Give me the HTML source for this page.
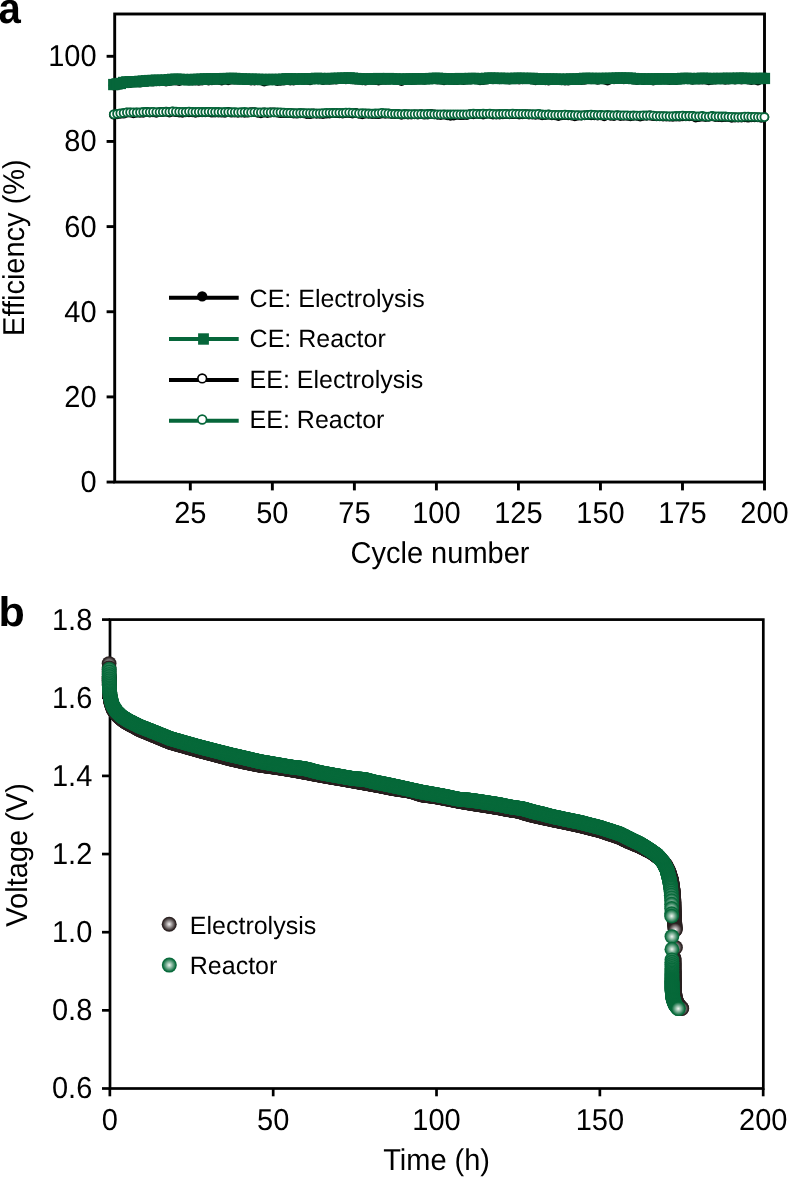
<!DOCTYPE html>
<html><head><meta charset="utf-8"><style>html,body{margin:0;padding:0;background:#fff;width:788px;height:1177px;overflow:hidden}</style></head>
<body><svg width="788" height="1177" viewBox="0 0 788 1177" style="display:block;will-change:transform">
<defs>
<radialGradient id="gG" cx="0.5" cy="0.5" r="0.5"><stop offset="0" stop-color="#f2f7f3"/><stop offset="0.86" stop-color="#0a6b3c"/><stop offset="1" stop-color="#036737"/></radialGradient>
<radialGradient id="gK" cx="0.5" cy="0.5" r="0.5"><stop offset="0" stop-color="#f6f4f4"/><stop offset="0.86" stop-color="#2e2424"/><stop offset="1" stop-color="#261d1d"/></radialGradient>
</defs>
<rect width="788" height="1177" fill="#fff"/>
<text transform="translate(-1.6,22.75) scale(0.955,1.03)" style="font-family:'Liberation Sans',sans-serif;text-rendering:geometricPrecision;font-weight:bold;font-size:42px">a</text>
<text transform="translate(-1.44,625.95) scale(1.051,1.0066)" style="font-family:'Liberation Sans',sans-serif;text-rendering:geometricPrecision;font-weight:bold;font-size:41px">b</text>
<g stroke="#000" stroke-width="2.9" fill="none">
<rect x="114.7" y="14.0" width="649.80" height="468.05"/>
<line x1="106.6" y1="482.05" x2="114.7" y2="482.05"/>
<line x1="106.6" y1="396.90" x2="114.7" y2="396.90"/>
<line x1="106.6" y1="311.75" x2="114.7" y2="311.75"/>
<line x1="106.6" y1="226.60" x2="114.7" y2="226.60"/>
<line x1="106.6" y1="141.45" x2="114.7" y2="141.45"/>
<line x1="106.6" y1="56.30" x2="114.7" y2="56.30"/>
<line x1="190.32" y1="482.05" x2="190.32" y2="490.4"/>
<line x1="272.35" y1="482.05" x2="272.35" y2="490.4"/>
<line x1="354.38" y1="482.05" x2="354.38" y2="490.4"/>
<line x1="436.40" y1="482.05" x2="436.40" y2="490.4"/>
<line x1="518.42" y1="482.05" x2="518.42" y2="490.4"/>
<line x1="600.45" y1="482.05" x2="600.45" y2="490.4"/>
<line x1="682.48" y1="482.05" x2="682.48" y2="490.4"/>
<line x1="764.50" y1="482.05" x2="764.50" y2="490.4"/>
</g>
<g style="font-family:'Liberation Sans',sans-serif;text-rendering:geometricPrecision;font-size:29px" fill="#000">
<text transform="translate(96.6,491.95) scale(1,1.045)" text-anchor="end">0</text>
<text transform="translate(96.6,406.80) scale(1,1.045)" text-anchor="end">20</text>
<text transform="translate(96.6,321.65) scale(1,1.045)" text-anchor="end">40</text>
<text transform="translate(96.6,236.50) scale(1,1.045)" text-anchor="end">60</text>
<text transform="translate(96.6,151.35) scale(1,1.045)" text-anchor="end">80</text>
<text transform="translate(96.6,66.20) scale(1,1.045)" text-anchor="end">100</text>
<text transform="translate(190.32,522.5) scale(1,1.045)" text-anchor="middle">25</text>
<text transform="translate(272.35,522.5) scale(1,1.045)" text-anchor="middle">50</text>
<text transform="translate(354.38,522.5) scale(1,1.045)" text-anchor="middle">75</text>
<text transform="translate(436.40,522.5) scale(1,1.045)" text-anchor="middle">100</text>
<text transform="translate(518.42,522.5) scale(1,1.045)" text-anchor="middle">125</text>
<text transform="translate(600.45,522.5) scale(1,1.045)" text-anchor="middle">150</text>
<text transform="translate(682.48,522.5) scale(1,1.045)" text-anchor="middle">175</text>
<text transform="translate(764.50,522.5) scale(1,1.045)" text-anchor="middle">200</text>
<text transform="translate(440,563.1) scale(1,1.04)" text-anchor="middle">Cycle number</text>
<text transform="translate(24.1,247.6) rotate(-90) scale(1,1.04)" text-anchor="middle">Efficiency (%)</text>
</g>
<path d="M113.8,85.3 L117.1,85.1 L120.3,84.4 L123.6,83.5 L126.9,82.3 L130.1,82.8 L133.4,82.2 L136.7,82.2 L140.0,82.4 L143.2,81.7 L146.5,81.7 L149.8,80.6 L153.0,81.5 L156.3,81.2 L159.6,81.2 L162.8,81.0 L166.1,81.3 L169.4,81.0 L172.6,80.3 L175.9,80.4 L179.2,80.8 L182.5,79.6 L185.7,79.7 L189.0,80.5 L192.3,80.5 L195.5,80.3 L198.8,80.6 L202.1,80.5 L205.3,79.6 L208.6,80.4 L211.9,80.1 L215.1,79.7 L218.4,79.7 L221.7,80.3 L225.0,79.3 L228.2,80.1 L231.5,79.3 L234.8,79.3 L238.0,79.5 L241.3,78.6 L244.6,79.9 L247.8,79.4 L251.1,80.4 L254.4,80.4 L257.7,80.1 L260.9,80.2 L264.2,81.4 L267.5,80.4 L270.7,79.7 L274.0,79.9 L277.3,81.0 L280.5,80.6 L283.8,80.4 L287.1,79.5 L290.3,80.3 L293.6,80.5 L296.9,79.7 L300.2,79.0 L303.4,79.7 L306.7,79.6 L310.0,80.2 L313.2,78.7 L316.5,78.7 L319.8,79.0 L323.0,79.8 L326.3,79.4 L329.6,79.7 L332.8,79.4 L336.1,79.5 L339.4,78.4 L342.7,78.0 L345.9,79.2 L349.2,78.8 L352.5,79.2 L355.7,79.5 L359.0,79.4 L362.3,80.1 L365.5,80.4 L368.8,79.3 L372.1,79.7 L375.3,79.8 L378.6,80.4 L381.9,79.7 L385.2,79.7 L388.4,79.5 L391.7,79.0 L395.0,79.5 L398.2,79.5 L401.5,80.9 L404.8,79.0 L408.0,79.5 L411.3,80.0 L414.6,79.6 L417.8,79.4 L421.1,79.4 L424.4,79.7 L427.7,78.8 L430.9,78.9 L434.2,79.0 L437.5,79.3 L440.7,79.4 L444.0,80.1 L447.3,79.5 L450.5,79.6 L453.8,79.8 L457.1,80.0 L460.4,79.5 L463.6,79.9 L466.9,79.4 L470.2,79.3 L473.4,78.9 L476.7,79.2 L480.0,80.1 L483.2,79.9 L486.5,79.4 L489.8,78.6 L493.0,79.2 L496.3,78.8 L499.6,79.1 L502.9,78.7 L506.1,79.2 L509.4,79.3 L512.7,78.9 L515.9,79.1 L519.2,79.3 L522.5,79.1 L525.7,79.0 L529.0,78.8 L532.3,79.4 L535.5,80.1 L538.8,79.5 L542.1,79.9 L545.4,80.1 L548.6,80.3 L551.9,79.7 L555.2,79.6 L558.4,79.6 L561.7,80.2 L565.0,80.5 L568.2,80.5 L571.5,79.7 L574.8,79.7 L578.0,79.6 L581.3,80.0 L584.6,79.6 L587.9,79.1 L591.1,79.2 L594.4,79.0 L597.7,79.6 L600.9,78.8 L604.2,79.5 L607.5,80.3 L610.7,79.2 L614.0,79.2 L617.3,78.9 L620.5,78.5 L623.8,79.2 L627.1,79.0 L630.4,78.6 L633.6,79.4 L636.9,80.0 L640.2,78.9 L643.4,80.0 L646.7,79.1 L650.0,79.5 L653.2,80.3 L656.5,79.4 L659.8,79.3 L663.1,79.1 L666.3,79.5 L669.6,80.0 L672.9,79.6 L676.1,79.8 L679.4,79.2 L682.7,79.2 L685.9,79.0 L689.2,79.0 L692.5,79.6 L695.7,79.2 L699.0,79.4 L702.3,79.3 L705.6,79.3 L708.8,80.1 L712.1,79.6 L715.4,79.4 L718.6,79.0 L721.9,79.2 L725.2,79.6 L728.4,79.3 L731.7,78.7 L735.0,79.4 L738.2,79.0 L741.5,79.4 L744.8,78.9 L748.1,79.3 L751.3,79.9 L754.6,79.5 L757.9,80.3 L761.1,78.7 L764.4,79.5" fill="none" stroke="#000" stroke-width="3.8" stroke-linejoin="round"/>
<g fill="#000"><circle cx="113.8" cy="85.3" r="5.1"/><circle cx="117.1" cy="85.1" r="5.1"/><circle cx="120.3" cy="84.4" r="5.1"/><circle cx="123.6" cy="83.5" r="5.1"/><circle cx="126.9" cy="82.3" r="5.1"/><circle cx="130.1" cy="82.8" r="5.1"/><circle cx="133.4" cy="82.2" r="5.1"/><circle cx="136.7" cy="82.2" r="5.1"/><circle cx="140.0" cy="82.4" r="5.1"/><circle cx="143.2" cy="81.7" r="5.1"/><circle cx="146.5" cy="81.7" r="5.1"/><circle cx="149.8" cy="80.6" r="5.1"/><circle cx="153.0" cy="81.5" r="5.1"/><circle cx="156.3" cy="81.2" r="5.1"/><circle cx="159.6" cy="81.2" r="5.1"/><circle cx="162.8" cy="81.0" r="5.1"/><circle cx="166.1" cy="81.3" r="5.1"/><circle cx="169.4" cy="81.0" r="5.1"/><circle cx="172.6" cy="80.3" r="5.1"/><circle cx="175.9" cy="80.4" r="5.1"/><circle cx="179.2" cy="80.8" r="5.1"/><circle cx="182.5" cy="79.6" r="5.1"/><circle cx="185.7" cy="79.7" r="5.1"/><circle cx="189.0" cy="80.5" r="5.1"/><circle cx="192.3" cy="80.5" r="5.1"/><circle cx="195.5" cy="80.3" r="5.1"/><circle cx="198.8" cy="80.6" r="5.1"/><circle cx="202.1" cy="80.5" r="5.1"/><circle cx="205.3" cy="79.6" r="5.1"/><circle cx="208.6" cy="80.4" r="5.1"/><circle cx="211.9" cy="80.1" r="5.1"/><circle cx="215.1" cy="79.7" r="5.1"/><circle cx="218.4" cy="79.7" r="5.1"/><circle cx="221.7" cy="80.3" r="5.1"/><circle cx="225.0" cy="79.3" r="5.1"/><circle cx="228.2" cy="80.1" r="5.1"/><circle cx="231.5" cy="79.3" r="5.1"/><circle cx="234.8" cy="79.3" r="5.1"/><circle cx="238.0" cy="79.5" r="5.1"/><circle cx="241.3" cy="78.6" r="5.1"/><circle cx="244.6" cy="79.9" r="5.1"/><circle cx="247.8" cy="79.4" r="5.1"/><circle cx="251.1" cy="80.4" r="5.1"/><circle cx="254.4" cy="80.4" r="5.1"/><circle cx="257.7" cy="80.1" r="5.1"/><circle cx="260.9" cy="80.2" r="5.1"/><circle cx="264.2" cy="81.4" r="5.1"/><circle cx="267.5" cy="80.4" r="5.1"/><circle cx="270.7" cy="79.7" r="5.1"/><circle cx="274.0" cy="79.9" r="5.1"/><circle cx="277.3" cy="81.0" r="5.1"/><circle cx="280.5" cy="80.6" r="5.1"/><circle cx="283.8" cy="80.4" r="5.1"/><circle cx="287.1" cy="79.5" r="5.1"/><circle cx="290.3" cy="80.3" r="5.1"/><circle cx="293.6" cy="80.5" r="5.1"/><circle cx="296.9" cy="79.7" r="5.1"/><circle cx="300.2" cy="79.0" r="5.1"/><circle cx="303.4" cy="79.7" r="5.1"/><circle cx="306.7" cy="79.6" r="5.1"/><circle cx="310.0" cy="80.2" r="5.1"/><circle cx="313.2" cy="78.7" r="5.1"/><circle cx="316.5" cy="78.7" r="5.1"/><circle cx="319.8" cy="79.0" r="5.1"/><circle cx="323.0" cy="79.8" r="5.1"/><circle cx="326.3" cy="79.4" r="5.1"/><circle cx="329.6" cy="79.7" r="5.1"/><circle cx="332.8" cy="79.4" r="5.1"/><circle cx="336.1" cy="79.5" r="5.1"/><circle cx="339.4" cy="78.4" r="5.1"/><circle cx="342.7" cy="78.0" r="5.1"/><circle cx="345.9" cy="79.2" r="5.1"/><circle cx="349.2" cy="78.8" r="5.1"/><circle cx="352.5" cy="79.2" r="5.1"/><circle cx="355.7" cy="79.5" r="5.1"/><circle cx="359.0" cy="79.4" r="5.1"/><circle cx="362.3" cy="80.1" r="5.1"/><circle cx="365.5" cy="80.4" r="5.1"/><circle cx="368.8" cy="79.3" r="5.1"/><circle cx="372.1" cy="79.7" r="5.1"/><circle cx="375.3" cy="79.8" r="5.1"/><circle cx="378.6" cy="80.4" r="5.1"/><circle cx="381.9" cy="79.7" r="5.1"/><circle cx="385.2" cy="79.7" r="5.1"/><circle cx="388.4" cy="79.5" r="5.1"/><circle cx="391.7" cy="79.0" r="5.1"/><circle cx="395.0" cy="79.5" r="5.1"/><circle cx="398.2" cy="79.5" r="5.1"/><circle cx="401.5" cy="80.9" r="5.1"/><circle cx="404.8" cy="79.0" r="5.1"/><circle cx="408.0" cy="79.5" r="5.1"/><circle cx="411.3" cy="80.0" r="5.1"/><circle cx="414.6" cy="79.6" r="5.1"/><circle cx="417.8" cy="79.4" r="5.1"/><circle cx="421.1" cy="79.4" r="5.1"/><circle cx="424.4" cy="79.7" r="5.1"/><circle cx="427.7" cy="78.8" r="5.1"/><circle cx="430.9" cy="78.9" r="5.1"/><circle cx="434.2" cy="79.0" r="5.1"/><circle cx="437.5" cy="79.3" r="5.1"/><circle cx="440.7" cy="79.4" r="5.1"/><circle cx="444.0" cy="80.1" r="5.1"/><circle cx="447.3" cy="79.5" r="5.1"/><circle cx="450.5" cy="79.6" r="5.1"/><circle cx="453.8" cy="79.8" r="5.1"/><circle cx="457.1" cy="80.0" r="5.1"/><circle cx="460.4" cy="79.5" r="5.1"/><circle cx="463.6" cy="79.9" r="5.1"/><circle cx="466.9" cy="79.4" r="5.1"/><circle cx="470.2" cy="79.3" r="5.1"/><circle cx="473.4" cy="78.9" r="5.1"/><circle cx="476.7" cy="79.2" r="5.1"/><circle cx="480.0" cy="80.1" r="5.1"/><circle cx="483.2" cy="79.9" r="5.1"/><circle cx="486.5" cy="79.4" r="5.1"/><circle cx="489.8" cy="78.6" r="5.1"/><circle cx="493.0" cy="79.2" r="5.1"/><circle cx="496.3" cy="78.8" r="5.1"/><circle cx="499.6" cy="79.1" r="5.1"/><circle cx="502.9" cy="78.7" r="5.1"/><circle cx="506.1" cy="79.2" r="5.1"/><circle cx="509.4" cy="79.3" r="5.1"/><circle cx="512.7" cy="78.9" r="5.1"/><circle cx="515.9" cy="79.1" r="5.1"/><circle cx="519.2" cy="79.3" r="5.1"/><circle cx="522.5" cy="79.1" r="5.1"/><circle cx="525.7" cy="79.0" r="5.1"/><circle cx="529.0" cy="78.8" r="5.1"/><circle cx="532.3" cy="79.4" r="5.1"/><circle cx="535.5" cy="80.1" r="5.1"/><circle cx="538.8" cy="79.5" r="5.1"/><circle cx="542.1" cy="79.9" r="5.1"/><circle cx="545.4" cy="80.1" r="5.1"/><circle cx="548.6" cy="80.3" r="5.1"/><circle cx="551.9" cy="79.7" r="5.1"/><circle cx="555.2" cy="79.6" r="5.1"/><circle cx="558.4" cy="79.6" r="5.1"/><circle cx="561.7" cy="80.2" r="5.1"/><circle cx="565.0" cy="80.5" r="5.1"/><circle cx="568.2" cy="80.5" r="5.1"/><circle cx="571.5" cy="79.7" r="5.1"/><circle cx="574.8" cy="79.7" r="5.1"/><circle cx="578.0" cy="79.6" r="5.1"/><circle cx="581.3" cy="80.0" r="5.1"/><circle cx="584.6" cy="79.6" r="5.1"/><circle cx="587.9" cy="79.1" r="5.1"/><circle cx="591.1" cy="79.2" r="5.1"/><circle cx="594.4" cy="79.0" r="5.1"/><circle cx="597.7" cy="79.6" r="5.1"/><circle cx="600.9" cy="78.8" r="5.1"/><circle cx="604.2" cy="79.5" r="5.1"/><circle cx="607.5" cy="80.3" r="5.1"/><circle cx="610.7" cy="79.2" r="5.1"/><circle cx="614.0" cy="79.2" r="5.1"/><circle cx="617.3" cy="78.9" r="5.1"/><circle cx="620.5" cy="78.5" r="5.1"/><circle cx="623.8" cy="79.2" r="5.1"/><circle cx="627.1" cy="79.0" r="5.1"/><circle cx="630.4" cy="78.6" r="5.1"/><circle cx="633.6" cy="79.4" r="5.1"/><circle cx="636.9" cy="80.0" r="5.1"/><circle cx="640.2" cy="78.9" r="5.1"/><circle cx="643.4" cy="80.0" r="5.1"/><circle cx="646.7" cy="79.1" r="5.1"/><circle cx="650.0" cy="79.5" r="5.1"/><circle cx="653.2" cy="80.3" r="5.1"/><circle cx="656.5" cy="79.4" r="5.1"/><circle cx="659.8" cy="79.3" r="5.1"/><circle cx="663.1" cy="79.1" r="5.1"/><circle cx="666.3" cy="79.5" r="5.1"/><circle cx="669.6" cy="80.0" r="5.1"/><circle cx="672.9" cy="79.6" r="5.1"/><circle cx="676.1" cy="79.8" r="5.1"/><circle cx="679.4" cy="79.2" r="5.1"/><circle cx="682.7" cy="79.2" r="5.1"/><circle cx="685.9" cy="79.0" r="5.1"/><circle cx="689.2" cy="79.0" r="5.1"/><circle cx="692.5" cy="79.6" r="5.1"/><circle cx="695.7" cy="79.2" r="5.1"/><circle cx="699.0" cy="79.4" r="5.1"/><circle cx="702.3" cy="79.3" r="5.1"/><circle cx="705.6" cy="79.3" r="5.1"/><circle cx="708.8" cy="80.1" r="5.1"/><circle cx="712.1" cy="79.6" r="5.1"/><circle cx="715.4" cy="79.4" r="5.1"/><circle cx="718.6" cy="79.0" r="5.1"/><circle cx="721.9" cy="79.2" r="5.1"/><circle cx="725.2" cy="79.6" r="5.1"/><circle cx="728.4" cy="79.3" r="5.1"/><circle cx="731.7" cy="78.7" r="5.1"/><circle cx="735.0" cy="79.4" r="5.1"/><circle cx="738.2" cy="79.0" r="5.1"/><circle cx="741.5" cy="79.4" r="5.1"/><circle cx="744.8" cy="78.9" r="5.1"/><circle cx="748.1" cy="79.3" r="5.1"/><circle cx="751.3" cy="79.9" r="5.1"/><circle cx="754.6" cy="79.5" r="5.1"/><circle cx="757.9" cy="80.3" r="5.1"/><circle cx="761.1" cy="78.7" r="5.1"/><circle cx="764.4" cy="79.5" r="5.1"/></g>
<path d="M113.8,84.6 L117.1,83.8 L120.3,83.4 L123.6,82.5 L126.9,81.8 L130.1,81.8 L133.4,81.7 L136.7,81.6 L140.0,81.3 L143.2,81.1 L146.5,80.7 L149.8,80.6 L153.0,80.5 L156.3,80.1 L159.6,80.3 L162.8,80.3 L166.1,80.0 L169.4,79.7 L172.6,79.3 L175.9,79.2 L179.2,79.3 L182.5,79.5 L185.7,79.6 L189.0,79.8 L192.3,79.5 L195.5,79.5 L198.8,79.3 L202.1,79.1 L205.3,78.8 L208.6,79.0 L211.9,78.8 L215.1,78.8 L218.4,78.7 L221.7,78.7 L225.0,78.5 L228.2,78.5 L231.5,78.4 L234.8,78.4 L238.0,78.9 L241.3,78.9 L244.6,79.1 L247.8,79.2 L251.1,79.1 L254.4,79.3 L257.7,79.3 L260.9,79.4 L264.2,79.5 L267.5,79.6 L270.7,79.5 L274.0,79.5 L277.3,79.6 L280.5,79.5 L283.8,79.2 L287.1,78.8 L290.3,78.9 L293.6,79.1 L296.9,78.9 L300.2,79.2 L303.4,78.8 L306.7,78.8 L310.0,78.8 L313.2,78.7 L316.5,78.3 L319.8,78.4 L323.0,78.8 L326.3,78.8 L329.6,78.5 L332.8,78.5 L336.1,78.3 L339.4,78.2 L342.7,78.1 L345.9,78.1 L349.2,77.9 L352.5,78.2 L355.7,78.5 L359.0,78.7 L362.3,79.1 L365.5,78.8 L368.8,78.9 L372.1,78.9 L375.3,78.7 L378.6,78.5 L381.9,78.7 L385.2,79.0 L388.4,78.6 L391.7,78.8 L395.0,78.8 L398.2,79.2 L401.5,79.4 L404.8,79.1 L408.0,79.0 L411.3,79.0 L414.6,78.8 L417.8,78.7 L421.1,78.6 L424.4,78.7 L427.7,78.8 L430.9,78.6 L434.2,78.4 L437.5,78.3 L440.7,78.6 L444.0,78.9 L447.3,78.8 L450.5,78.8 L453.8,79.0 L457.1,78.9 L460.4,78.6 L463.6,78.7 L466.9,78.7 L470.2,78.5 L473.4,78.4 L476.7,78.5 L480.0,78.9 L483.2,78.8 L486.5,78.4 L489.8,78.1 L493.0,78.2 L496.3,78.5 L499.6,78.3 L502.9,78.4 L506.1,78.4 L509.4,78.6 L512.7,78.5 L515.9,78.3 L519.2,78.3 L522.5,78.3 L525.7,78.5 L529.0,78.4 L532.3,78.4 L535.5,78.8 L538.8,79.0 L542.1,79.0 L545.4,79.1 L548.6,79.1 L551.9,79.0 L555.2,79.1 L558.4,79.1 L561.7,79.3 L565.0,79.4 L568.2,79.1 L571.5,78.9 L574.8,79.1 L578.0,79.0 L581.3,78.6 L584.6,78.3 L587.9,78.4 L591.1,78.4 L594.4,78.6 L597.7,78.5 L600.9,78.4 L604.2,78.5 L607.5,78.4 L610.7,78.3 L614.0,78.4 L617.3,78.1 L620.5,78.0 L623.8,78.2 L627.1,78.1 L630.4,78.1 L633.6,78.6 L636.9,78.9 L640.2,78.8 L643.4,78.9 L646.7,78.9 L650.0,79.1 L653.2,78.8 L656.5,78.8 L659.8,78.9 L663.1,78.9 L666.3,78.7 L669.6,78.6 L672.9,78.8 L676.1,79.0 L679.4,78.7 L682.7,78.4 L685.9,78.4 L689.2,78.5 L692.5,78.6 L695.7,78.7 L699.0,78.5 L702.3,78.3 L705.6,78.4 L708.8,78.6 L712.1,78.5 L715.4,78.6 L718.6,78.5 L721.9,78.5 L725.2,78.5 L728.4,78.3 L731.7,78.5 L735.0,78.5 L738.2,78.2 L741.5,78.3 L744.8,78.3 L748.1,78.5 L751.3,78.4 L754.6,78.6 L757.9,78.5 L761.1,78.4 L764.4,78.4" fill="none" stroke="#06663a" stroke-width="3.8" stroke-linejoin="round"/>
<g fill="#06663a"><rect x="108.1" y="78.9" width="11.3" height="11.3"/><rect x="111.4" y="78.2" width="11.3" height="11.3"/><rect x="114.7" y="77.8" width="11.3" height="11.3"/><rect x="118.0" y="76.8" width="11.3" height="11.3"/><rect x="121.2" y="76.2" width="11.3" height="11.3"/><rect x="124.5" y="76.1" width="11.3" height="11.3"/><rect x="127.8" y="76.0" width="11.3" height="11.3"/><rect x="131.0" y="76.0" width="11.3" height="11.3"/><rect x="134.3" y="75.7" width="11.3" height="11.3"/><rect x="137.6" y="75.4" width="11.3" height="11.3"/><rect x="140.8" y="75.1" width="11.3" height="11.3"/><rect x="144.1" y="74.9" width="11.3" height="11.3"/><rect x="147.4" y="74.8" width="11.3" height="11.3"/><rect x="150.7" y="74.5" width="11.3" height="11.3"/><rect x="153.9" y="74.7" width="11.3" height="11.3"/><rect x="157.2" y="74.7" width="11.3" height="11.3"/><rect x="160.5" y="74.4" width="11.3" height="11.3"/><rect x="163.7" y="74.0" width="11.3" height="11.3"/><rect x="167.0" y="73.7" width="11.3" height="11.3"/><rect x="170.3" y="73.5" width="11.3" height="11.3"/><rect x="173.5" y="73.7" width="11.3" height="11.3"/><rect x="176.8" y="73.8" width="11.3" height="11.3"/><rect x="180.1" y="74.0" width="11.3" height="11.3"/><rect x="183.3" y="74.1" width="11.3" height="11.3"/><rect x="186.6" y="73.8" width="11.3" height="11.3"/><rect x="189.9" y="73.8" width="11.3" height="11.3"/><rect x="193.2" y="73.7" width="11.3" height="11.3"/><rect x="196.4" y="73.5" width="11.3" height="11.3"/><rect x="199.7" y="73.2" width="11.3" height="11.3"/><rect x="203.0" y="73.4" width="11.3" height="11.3"/><rect x="206.2" y="73.2" width="11.3" height="11.3"/><rect x="209.5" y="73.2" width="11.3" height="11.3"/><rect x="212.8" y="73.0" width="11.3" height="11.3"/><rect x="216.0" y="73.1" width="11.3" height="11.3"/><rect x="219.3" y="72.9" width="11.3" height="11.3"/><rect x="222.6" y="72.9" width="11.3" height="11.3"/><rect x="225.8" y="72.7" width="11.3" height="11.3"/><rect x="229.1" y="72.8" width="11.3" height="11.3"/><rect x="232.4" y="73.3" width="11.3" height="11.3"/><rect x="235.7" y="73.2" width="11.3" height="11.3"/><rect x="238.9" y="73.4" width="11.3" height="11.3"/><rect x="242.2" y="73.6" width="11.3" height="11.3"/><rect x="245.5" y="73.5" width="11.3" height="11.3"/><rect x="248.7" y="73.7" width="11.3" height="11.3"/><rect x="252.0" y="73.7" width="11.3" height="11.3"/><rect x="255.3" y="73.8" width="11.3" height="11.3"/><rect x="258.5" y="73.9" width="11.3" height="11.3"/><rect x="261.8" y="73.9" width="11.3" height="11.3"/><rect x="265.1" y="73.8" width="11.3" height="11.3"/><rect x="268.3" y="73.8" width="11.3" height="11.3"/><rect x="271.6" y="73.9" width="11.3" height="11.3"/><rect x="274.9" y="73.8" width="11.3" height="11.3"/><rect x="278.2" y="73.5" width="11.3" height="11.3"/><rect x="281.4" y="73.1" width="11.3" height="11.3"/><rect x="284.7" y="73.2" width="11.3" height="11.3"/><rect x="288.0" y="73.4" width="11.3" height="11.3"/><rect x="291.2" y="73.3" width="11.3" height="11.3"/><rect x="294.5" y="73.5" width="11.3" height="11.3"/><rect x="297.8" y="73.1" width="11.3" height="11.3"/><rect x="301.0" y="73.1" width="11.3" height="11.3"/><rect x="304.3" y="73.1" width="11.3" height="11.3"/><rect x="307.6" y="73.0" width="11.3" height="11.3"/><rect x="310.8" y="72.7" width="11.3" height="11.3"/><rect x="314.1" y="72.8" width="11.3" height="11.3"/><rect x="317.4" y="73.2" width="11.3" height="11.3"/><rect x="320.7" y="73.1" width="11.3" height="11.3"/><rect x="323.9" y="72.8" width="11.3" height="11.3"/><rect x="327.2" y="72.9" width="11.3" height="11.3"/><rect x="330.5" y="72.7" width="11.3" height="11.3"/><rect x="333.7" y="72.6" width="11.3" height="11.3"/><rect x="337.0" y="72.5" width="11.3" height="11.3"/><rect x="340.3" y="72.5" width="11.3" height="11.3"/><rect x="343.5" y="72.2" width="11.3" height="11.3"/><rect x="346.8" y="72.5" width="11.3" height="11.3"/><rect x="350.1" y="72.9" width="11.3" height="11.3"/><rect x="353.4" y="73.1" width="11.3" height="11.3"/><rect x="356.6" y="73.4" width="11.3" height="11.3"/><rect x="359.9" y="73.2" width="11.3" height="11.3"/><rect x="363.2" y="73.3" width="11.3" height="11.3"/><rect x="366.4" y="73.3" width="11.3" height="11.3"/><rect x="369.7" y="73.0" width="11.3" height="11.3"/><rect x="373.0" y="72.9" width="11.3" height="11.3"/><rect x="376.2" y="73.0" width="11.3" height="11.3"/><rect x="379.5" y="73.3" width="11.3" height="11.3"/><rect x="382.8" y="72.9" width="11.3" height="11.3"/><rect x="386.0" y="73.2" width="11.3" height="11.3"/><rect x="389.3" y="73.2" width="11.3" height="11.3"/><rect x="392.6" y="73.5" width="11.3" height="11.3"/><rect x="395.9" y="73.7" width="11.3" height="11.3"/><rect x="399.1" y="73.4" width="11.3" height="11.3"/><rect x="402.4" y="73.3" width="11.3" height="11.3"/><rect x="405.7" y="73.3" width="11.3" height="11.3"/><rect x="408.9" y="73.2" width="11.3" height="11.3"/><rect x="412.2" y="73.0" width="11.3" height="11.3"/><rect x="415.5" y="73.0" width="11.3" height="11.3"/><rect x="418.7" y="73.1" width="11.3" height="11.3"/><rect x="422.0" y="73.1" width="11.3" height="11.3"/><rect x="425.3" y="72.9" width="11.3" height="11.3"/><rect x="428.5" y="72.7" width="11.3" height="11.3"/><rect x="431.8" y="72.6" width="11.3" height="11.3"/><rect x="435.1" y="72.9" width="11.3" height="11.3"/><rect x="438.4" y="73.2" width="11.3" height="11.3"/><rect x="441.6" y="73.1" width="11.3" height="11.3"/><rect x="444.9" y="73.2" width="11.3" height="11.3"/><rect x="448.2" y="73.4" width="11.3" height="11.3"/><rect x="451.4" y="73.2" width="11.3" height="11.3"/><rect x="454.7" y="72.9" width="11.3" height="11.3"/><rect x="458.0" y="73.1" width="11.3" height="11.3"/><rect x="461.2" y="73.1" width="11.3" height="11.3"/><rect x="464.5" y="72.8" width="11.3" height="11.3"/><rect x="467.8" y="72.8" width="11.3" height="11.3"/><rect x="471.0" y="72.9" width="11.3" height="11.3"/><rect x="474.3" y="73.2" width="11.3" height="11.3"/><rect x="477.6" y="73.1" width="11.3" height="11.3"/><rect x="480.9" y="72.7" width="11.3" height="11.3"/><rect x="484.1" y="72.4" width="11.3" height="11.3"/><rect x="487.4" y="72.5" width="11.3" height="11.3"/><rect x="490.7" y="72.8" width="11.3" height="11.3"/><rect x="493.9" y="72.6" width="11.3" height="11.3"/><rect x="497.2" y="72.8" width="11.3" height="11.3"/><rect x="500.5" y="72.8" width="11.3" height="11.3"/><rect x="503.7" y="72.9" width="11.3" height="11.3"/><rect x="507.0" y="72.9" width="11.3" height="11.3"/><rect x="510.3" y="72.6" width="11.3" height="11.3"/><rect x="513.5" y="72.6" width="11.3" height="11.3"/><rect x="516.8" y="72.7" width="11.3" height="11.3"/><rect x="520.1" y="72.8" width="11.3" height="11.3"/><rect x="523.4" y="72.8" width="11.3" height="11.3"/><rect x="526.6" y="72.7" width="11.3" height="11.3"/><rect x="529.9" y="73.2" width="11.3" height="11.3"/><rect x="533.2" y="73.3" width="11.3" height="11.3"/><rect x="536.4" y="73.4" width="11.3" height="11.3"/><rect x="539.7" y="73.4" width="11.3" height="11.3"/><rect x="543.0" y="73.4" width="11.3" height="11.3"/><rect x="546.2" y="73.4" width="11.3" height="11.3"/><rect x="549.5" y="73.5" width="11.3" height="11.3"/><rect x="552.8" y="73.5" width="11.3" height="11.3"/><rect x="556.1" y="73.7" width="11.3" height="11.3"/><rect x="559.3" y="73.8" width="11.3" height="11.3"/><rect x="562.6" y="73.5" width="11.3" height="11.3"/><rect x="565.9" y="73.3" width="11.3" height="11.3"/><rect x="569.1" y="73.5" width="11.3" height="11.3"/><rect x="572.4" y="73.4" width="11.3" height="11.3"/><rect x="575.7" y="73.0" width="11.3" height="11.3"/><rect x="578.9" y="72.7" width="11.3" height="11.3"/><rect x="582.2" y="72.7" width="11.3" height="11.3"/><rect x="585.5" y="72.8" width="11.3" height="11.3"/><rect x="588.7" y="72.9" width="11.3" height="11.3"/><rect x="592.0" y="72.8" width="11.3" height="11.3"/><rect x="595.3" y="72.8" width="11.3" height="11.3"/><rect x="598.6" y="72.9" width="11.3" height="11.3"/><rect x="601.8" y="72.7" width="11.3" height="11.3"/><rect x="605.1" y="72.7" width="11.3" height="11.3"/><rect x="608.4" y="72.7" width="11.3" height="11.3"/><rect x="611.6" y="72.4" width="11.3" height="11.3"/><rect x="614.9" y="72.3" width="11.3" height="11.3"/><rect x="618.2" y="72.6" width="11.3" height="11.3"/><rect x="621.4" y="72.4" width="11.3" height="11.3"/><rect x="624.7" y="72.5" width="11.3" height="11.3"/><rect x="628.0" y="72.9" width="11.3" height="11.3"/><rect x="631.2" y="73.2" width="11.3" height="11.3"/><rect x="634.5" y="73.2" width="11.3" height="11.3"/><rect x="637.8" y="73.3" width="11.3" height="11.3"/><rect x="641.1" y="73.3" width="11.3" height="11.3"/><rect x="644.3" y="73.5" width="11.3" height="11.3"/><rect x="647.6" y="73.2" width="11.3" height="11.3"/><rect x="650.9" y="73.2" width="11.3" height="11.3"/><rect x="654.1" y="73.2" width="11.3" height="11.3"/><rect x="657.4" y="73.2" width="11.3" height="11.3"/><rect x="660.7" y="73.1" width="11.3" height="11.3"/><rect x="663.9" y="73.0" width="11.3" height="11.3"/><rect x="667.2" y="73.1" width="11.3" height="11.3"/><rect x="670.5" y="73.4" width="11.3" height="11.3"/><rect x="673.7" y="73.0" width="11.3" height="11.3"/><rect x="677.0" y="72.8" width="11.3" height="11.3"/><rect x="680.3" y="72.7" width="11.3" height="11.3"/><rect x="683.6" y="72.8" width="11.3" height="11.3"/><rect x="686.8" y="73.0" width="11.3" height="11.3"/><rect x="690.1" y="73.0" width="11.3" height="11.3"/><rect x="693.4" y="72.8" width="11.3" height="11.3"/><rect x="696.6" y="72.6" width="11.3" height="11.3"/><rect x="699.9" y="72.8" width="11.3" height="11.3"/><rect x="703.2" y="72.9" width="11.3" height="11.3"/><rect x="706.4" y="72.8" width="11.3" height="11.3"/><rect x="709.7" y="73.0" width="11.3" height="11.3"/><rect x="713.0" y="72.8" width="11.3" height="11.3"/><rect x="716.2" y="72.8" width="11.3" height="11.3"/><rect x="719.5" y="72.9" width="11.3" height="11.3"/><rect x="722.8" y="72.6" width="11.3" height="11.3"/><rect x="726.1" y="72.8" width="11.3" height="11.3"/><rect x="729.3" y="72.9" width="11.3" height="11.3"/><rect x="732.6" y="72.5" width="11.3" height="11.3"/><rect x="735.9" y="72.6" width="11.3" height="11.3"/><rect x="739.1" y="72.6" width="11.3" height="11.3"/><rect x="742.4" y="72.9" width="11.3" height="11.3"/><rect x="745.7" y="72.8" width="11.3" height="11.3"/><rect x="748.9" y="72.9" width="11.3" height="11.3"/><rect x="752.2" y="72.9" width="11.3" height="11.3"/><rect x="755.5" y="72.7" width="11.3" height="11.3"/><rect x="758.8" y="72.8" width="11.3" height="11.3"/></g>
<path d="M113.8,114.7 L117.1,114.4 L120.3,113.9 L123.6,113.7 L126.9,112.7 L130.1,112.6 L133.4,113.4 L136.7,112.7 L140.0,112.9 L143.2,112.9 L146.5,112.0 L149.8,112.5 L153.0,112.4 L156.3,112.8 L159.6,112.2 L162.8,112.0 L166.1,111.7 L169.4,112.5 L172.6,111.7 L175.9,112.2 L179.2,112.5 L182.5,112.8 L185.7,112.3 L189.0,112.4 L192.3,112.4 L195.5,112.9 L198.8,112.4 L202.1,112.4 L205.3,112.4 L208.6,111.9 L211.9,112.7 L215.1,112.6 L218.4,112.5 L221.7,112.7 L225.0,112.8 L228.2,111.8 L231.5,112.7 L234.8,112.6 L238.0,112.8 L241.3,112.6 L244.6,112.8 L247.8,112.7 L251.1,112.1 L254.4,112.2 L257.7,112.9 L260.9,113.3 L264.2,112.5 L267.5,113.0 L270.7,112.5 L274.0,112.3 L277.3,112.7 L280.5,113.2 L283.8,113.0 L287.1,113.2 L290.3,113.1 L293.6,113.5 L296.9,113.7 L300.2,113.4 L303.4,113.4 L306.7,114.0 L310.0,114.2 L313.2,113.5 L316.5,113.9 L319.8,113.8 L323.0,114.0 L326.3,113.7 L329.6,113.6 L332.8,113.2 L336.1,113.2 L339.4,113.3 L342.7,113.6 L345.9,113.1 L349.2,113.0 L352.5,113.5 L355.7,113.0 L359.0,113.8 L362.3,114.3 L365.5,113.7 L368.8,113.9 L372.1,114.0 L375.3,114.0 L378.6,114.2 L381.9,113.6 L385.2,113.8 L388.4,113.7 L391.7,114.1 L395.0,114.0 L398.2,114.1 L401.5,114.8 L404.8,114.3 L408.0,114.5 L411.3,114.6 L414.6,114.4 L417.8,114.6 L421.1,114.2 L424.4,114.7 L427.7,114.5 L430.9,113.8 L434.2,114.4 L437.5,114.9 L440.7,115.0 L444.0,114.6 L447.3,115.3 L450.5,115.8 L453.8,115.6 L457.1,114.9 L460.4,115.2 L463.6,115.0 L466.9,115.0 L470.2,114.2 L473.4,114.4 L476.7,113.9 L480.0,114.2 L483.2,114.5 L486.5,113.8 L489.8,113.8 L493.0,114.6 L496.3,114.5 L499.6,114.5 L502.9,114.3 L506.1,114.1 L509.4,114.3 L512.7,114.2 L515.9,114.0 L519.2,114.6 L522.5,114.4 L525.7,114.2 L529.0,114.5 L532.3,114.6 L535.5,114.8 L538.8,114.5 L542.1,115.4 L545.4,115.1 L548.6,114.7 L551.9,115.4 L555.2,115.4 L558.4,116.0 L561.7,115.3 L565.0,115.1 L568.2,115.4 L571.5,115.6 L574.8,116.4 L578.0,115.7 L581.3,115.6 L584.6,115.4 L587.9,115.2 L591.1,115.3 L594.4,115.3 L597.7,115.6 L600.9,115.4 L604.2,116.3 L607.5,115.1 L610.7,115.9 L614.0,116.1 L617.3,115.4 L620.5,116.0 L623.8,115.9 L627.1,115.8 L630.4,116.3 L633.6,115.9 L636.9,115.9 L640.2,116.5 L643.4,115.8 L646.7,115.9 L650.0,115.5 L653.2,116.2 L656.5,116.3 L659.8,116.3 L663.1,116.5 L666.3,116.6 L669.6,116.7 L672.9,116.8 L676.1,116.6 L679.4,116.7 L682.7,116.3 L685.9,116.3 L689.2,116.3 L692.5,116.2 L695.7,117.5 L699.0,117.1 L702.3,116.7 L705.6,117.1 L708.8,116.8 L712.1,116.4 L715.4,117.0 L718.6,117.1 L721.9,117.3 L725.2,117.0 L728.4,117.1 L731.7,117.9 L735.0,117.5 L738.2,117.6 L741.5,117.5 L744.8,117.4 L748.1,117.7 L751.3,117.4 L754.6,117.3 L757.9,117.4 L761.1,117.8 L764.4,117.1" fill="none" stroke="#000" stroke-width="3.8" stroke-linejoin="round"/>
<g fill="#fff" stroke="#000" stroke-width="1.8"><circle cx="113.8" cy="114.7" r="4.0"/><circle cx="117.1" cy="114.4" r="4.0"/><circle cx="120.3" cy="113.9" r="4.0"/><circle cx="123.6" cy="113.7" r="4.0"/><circle cx="126.9" cy="112.7" r="4.0"/><circle cx="130.1" cy="112.6" r="4.0"/><circle cx="133.4" cy="113.4" r="4.0"/><circle cx="136.7" cy="112.7" r="4.0"/><circle cx="140.0" cy="112.9" r="4.0"/><circle cx="143.2" cy="112.9" r="4.0"/><circle cx="146.5" cy="112.0" r="4.0"/><circle cx="149.8" cy="112.5" r="4.0"/><circle cx="153.0" cy="112.4" r="4.0"/><circle cx="156.3" cy="112.8" r="4.0"/><circle cx="159.6" cy="112.2" r="4.0"/><circle cx="162.8" cy="112.0" r="4.0"/><circle cx="166.1" cy="111.7" r="4.0"/><circle cx="169.4" cy="112.5" r="4.0"/><circle cx="172.6" cy="111.7" r="4.0"/><circle cx="175.9" cy="112.2" r="4.0"/><circle cx="179.2" cy="112.5" r="4.0"/><circle cx="182.5" cy="112.8" r="4.0"/><circle cx="185.7" cy="112.3" r="4.0"/><circle cx="189.0" cy="112.4" r="4.0"/><circle cx="192.3" cy="112.4" r="4.0"/><circle cx="195.5" cy="112.9" r="4.0"/><circle cx="198.8" cy="112.4" r="4.0"/><circle cx="202.1" cy="112.4" r="4.0"/><circle cx="205.3" cy="112.4" r="4.0"/><circle cx="208.6" cy="111.9" r="4.0"/><circle cx="211.9" cy="112.7" r="4.0"/><circle cx="215.1" cy="112.6" r="4.0"/><circle cx="218.4" cy="112.5" r="4.0"/><circle cx="221.7" cy="112.7" r="4.0"/><circle cx="225.0" cy="112.8" r="4.0"/><circle cx="228.2" cy="111.8" r="4.0"/><circle cx="231.5" cy="112.7" r="4.0"/><circle cx="234.8" cy="112.6" r="4.0"/><circle cx="238.0" cy="112.8" r="4.0"/><circle cx="241.3" cy="112.6" r="4.0"/><circle cx="244.6" cy="112.8" r="4.0"/><circle cx="247.8" cy="112.7" r="4.0"/><circle cx="251.1" cy="112.1" r="4.0"/><circle cx="254.4" cy="112.2" r="4.0"/><circle cx="257.7" cy="112.9" r="4.0"/><circle cx="260.9" cy="113.3" r="4.0"/><circle cx="264.2" cy="112.5" r="4.0"/><circle cx="267.5" cy="113.0" r="4.0"/><circle cx="270.7" cy="112.5" r="4.0"/><circle cx="274.0" cy="112.3" r="4.0"/><circle cx="277.3" cy="112.7" r="4.0"/><circle cx="280.5" cy="113.2" r="4.0"/><circle cx="283.8" cy="113.0" r="4.0"/><circle cx="287.1" cy="113.2" r="4.0"/><circle cx="290.3" cy="113.1" r="4.0"/><circle cx="293.6" cy="113.5" r="4.0"/><circle cx="296.9" cy="113.7" r="4.0"/><circle cx="300.2" cy="113.4" r="4.0"/><circle cx="303.4" cy="113.4" r="4.0"/><circle cx="306.7" cy="114.0" r="4.0"/><circle cx="310.0" cy="114.2" r="4.0"/><circle cx="313.2" cy="113.5" r="4.0"/><circle cx="316.5" cy="113.9" r="4.0"/><circle cx="319.8" cy="113.8" r="4.0"/><circle cx="323.0" cy="114.0" r="4.0"/><circle cx="326.3" cy="113.7" r="4.0"/><circle cx="329.6" cy="113.6" r="4.0"/><circle cx="332.8" cy="113.2" r="4.0"/><circle cx="336.1" cy="113.2" r="4.0"/><circle cx="339.4" cy="113.3" r="4.0"/><circle cx="342.7" cy="113.6" r="4.0"/><circle cx="345.9" cy="113.1" r="4.0"/><circle cx="349.2" cy="113.0" r="4.0"/><circle cx="352.5" cy="113.5" r="4.0"/><circle cx="355.7" cy="113.0" r="4.0"/><circle cx="359.0" cy="113.8" r="4.0"/><circle cx="362.3" cy="114.3" r="4.0"/><circle cx="365.5" cy="113.7" r="4.0"/><circle cx="368.8" cy="113.9" r="4.0"/><circle cx="372.1" cy="114.0" r="4.0"/><circle cx="375.3" cy="114.0" r="4.0"/><circle cx="378.6" cy="114.2" r="4.0"/><circle cx="381.9" cy="113.6" r="4.0"/><circle cx="385.2" cy="113.8" r="4.0"/><circle cx="388.4" cy="113.7" r="4.0"/><circle cx="391.7" cy="114.1" r="4.0"/><circle cx="395.0" cy="114.0" r="4.0"/><circle cx="398.2" cy="114.1" r="4.0"/><circle cx="401.5" cy="114.8" r="4.0"/><circle cx="404.8" cy="114.3" r="4.0"/><circle cx="408.0" cy="114.5" r="4.0"/><circle cx="411.3" cy="114.6" r="4.0"/><circle cx="414.6" cy="114.4" r="4.0"/><circle cx="417.8" cy="114.6" r="4.0"/><circle cx="421.1" cy="114.2" r="4.0"/><circle cx="424.4" cy="114.7" r="4.0"/><circle cx="427.7" cy="114.5" r="4.0"/><circle cx="430.9" cy="113.8" r="4.0"/><circle cx="434.2" cy="114.4" r="4.0"/><circle cx="437.5" cy="114.9" r="4.0"/><circle cx="440.7" cy="115.0" r="4.0"/><circle cx="444.0" cy="114.6" r="4.0"/><circle cx="447.3" cy="115.3" r="4.0"/><circle cx="450.5" cy="115.8" r="4.0"/><circle cx="453.8" cy="115.6" r="4.0"/><circle cx="457.1" cy="114.9" r="4.0"/><circle cx="460.4" cy="115.2" r="4.0"/><circle cx="463.6" cy="115.0" r="4.0"/><circle cx="466.9" cy="115.0" r="4.0"/><circle cx="470.2" cy="114.2" r="4.0"/><circle cx="473.4" cy="114.4" r="4.0"/><circle cx="476.7" cy="113.9" r="4.0"/><circle cx="480.0" cy="114.2" r="4.0"/><circle cx="483.2" cy="114.5" r="4.0"/><circle cx="486.5" cy="113.8" r="4.0"/><circle cx="489.8" cy="113.8" r="4.0"/><circle cx="493.0" cy="114.6" r="4.0"/><circle cx="496.3" cy="114.5" r="4.0"/><circle cx="499.6" cy="114.5" r="4.0"/><circle cx="502.9" cy="114.3" r="4.0"/><circle cx="506.1" cy="114.1" r="4.0"/><circle cx="509.4" cy="114.3" r="4.0"/><circle cx="512.7" cy="114.2" r="4.0"/><circle cx="515.9" cy="114.0" r="4.0"/><circle cx="519.2" cy="114.6" r="4.0"/><circle cx="522.5" cy="114.4" r="4.0"/><circle cx="525.7" cy="114.2" r="4.0"/><circle cx="529.0" cy="114.5" r="4.0"/><circle cx="532.3" cy="114.6" r="4.0"/><circle cx="535.5" cy="114.8" r="4.0"/><circle cx="538.8" cy="114.5" r="4.0"/><circle cx="542.1" cy="115.4" r="4.0"/><circle cx="545.4" cy="115.1" r="4.0"/><circle cx="548.6" cy="114.7" r="4.0"/><circle cx="551.9" cy="115.4" r="4.0"/><circle cx="555.2" cy="115.4" r="4.0"/><circle cx="558.4" cy="116.0" r="4.0"/><circle cx="561.7" cy="115.3" r="4.0"/><circle cx="565.0" cy="115.1" r="4.0"/><circle cx="568.2" cy="115.4" r="4.0"/><circle cx="571.5" cy="115.6" r="4.0"/><circle cx="574.8" cy="116.4" r="4.0"/><circle cx="578.0" cy="115.7" r="4.0"/><circle cx="581.3" cy="115.6" r="4.0"/><circle cx="584.6" cy="115.4" r="4.0"/><circle cx="587.9" cy="115.2" r="4.0"/><circle cx="591.1" cy="115.3" r="4.0"/><circle cx="594.4" cy="115.3" r="4.0"/><circle cx="597.7" cy="115.6" r="4.0"/><circle cx="600.9" cy="115.4" r="4.0"/><circle cx="604.2" cy="116.3" r="4.0"/><circle cx="607.5" cy="115.1" r="4.0"/><circle cx="610.7" cy="115.9" r="4.0"/><circle cx="614.0" cy="116.1" r="4.0"/><circle cx="617.3" cy="115.4" r="4.0"/><circle cx="620.5" cy="116.0" r="4.0"/><circle cx="623.8" cy="115.9" r="4.0"/><circle cx="627.1" cy="115.8" r="4.0"/><circle cx="630.4" cy="116.3" r="4.0"/><circle cx="633.6" cy="115.9" r="4.0"/><circle cx="636.9" cy="115.9" r="4.0"/><circle cx="640.2" cy="116.5" r="4.0"/><circle cx="643.4" cy="115.8" r="4.0"/><circle cx="646.7" cy="115.9" r="4.0"/><circle cx="650.0" cy="115.5" r="4.0"/><circle cx="653.2" cy="116.2" r="4.0"/><circle cx="656.5" cy="116.3" r="4.0"/><circle cx="659.8" cy="116.3" r="4.0"/><circle cx="663.1" cy="116.5" r="4.0"/><circle cx="666.3" cy="116.6" r="4.0"/><circle cx="669.6" cy="116.7" r="4.0"/><circle cx="672.9" cy="116.8" r="4.0"/><circle cx="676.1" cy="116.6" r="4.0"/><circle cx="679.4" cy="116.7" r="4.0"/><circle cx="682.7" cy="116.3" r="4.0"/><circle cx="685.9" cy="116.3" r="4.0"/><circle cx="689.2" cy="116.3" r="4.0"/><circle cx="692.5" cy="116.2" r="4.0"/><circle cx="695.7" cy="117.5" r="4.0"/><circle cx="699.0" cy="117.1" r="4.0"/><circle cx="702.3" cy="116.7" r="4.0"/><circle cx="705.6" cy="117.1" r="4.0"/><circle cx="708.8" cy="116.8" r="4.0"/><circle cx="712.1" cy="116.4" r="4.0"/><circle cx="715.4" cy="117.0" r="4.0"/><circle cx="718.6" cy="117.1" r="4.0"/><circle cx="721.9" cy="117.3" r="4.0"/><circle cx="725.2" cy="117.0" r="4.0"/><circle cx="728.4" cy="117.1" r="4.0"/><circle cx="731.7" cy="117.9" r="4.0"/><circle cx="735.0" cy="117.5" r="4.0"/><circle cx="738.2" cy="117.6" r="4.0"/><circle cx="741.5" cy="117.5" r="4.0"/><circle cx="744.8" cy="117.4" r="4.0"/><circle cx="748.1" cy="117.7" r="4.0"/><circle cx="751.3" cy="117.4" r="4.0"/><circle cx="754.6" cy="117.3" r="4.0"/><circle cx="757.9" cy="117.4" r="4.0"/><circle cx="761.1" cy="117.8" r="4.0"/><circle cx="764.4" cy="117.1" r="4.0"/></g>
<path d="M113.8,114.3 L117.1,113.8 L120.3,113.3 L123.6,113.0 L126.9,112.4 L130.1,112.3 L133.4,112.3 L136.7,112.5 L140.0,112.3 L143.2,112.0 L146.5,112.0 L149.8,112.1 L153.0,111.9 L156.3,112.1 L159.6,112.1 L162.8,111.9 L166.1,111.8 L169.4,111.9 L172.6,111.4 L175.9,111.7 L179.2,111.8 L182.5,111.9 L185.7,112.0 L189.0,111.6 L192.3,111.9 L195.5,112.0 L198.8,111.9 L202.1,112.0 L205.3,112.0 L208.6,111.8 L211.9,111.9 L215.1,112.0 L218.4,112.0 L221.7,112.1 L225.0,112.0 L228.2,112.1 L231.5,112.1 L234.8,112.2 L238.0,112.3 L241.3,112.2 L244.6,112.0 L247.8,112.3 L251.1,112.4 L254.4,112.1 L257.7,112.4 L260.9,112.4 L264.2,112.3 L267.5,112.3 L270.7,112.4 L274.0,112.3 L277.3,112.4 L280.5,112.3 L283.8,112.6 L287.1,112.8 L290.3,112.9 L293.6,113.1 L296.9,113.2 L300.2,113.0 L303.4,113.1 L306.7,113.1 L310.0,113.2 L313.2,113.3 L316.5,113.4 L319.8,113.3 L323.0,113.2 L326.3,112.9 L329.6,112.8 L332.8,113.0 L336.1,112.9 L339.4,112.8 L342.7,113.0 L345.9,112.7 L349.2,112.6 L352.5,112.9 L355.7,113.1 L359.0,113.4 L362.3,113.1 L365.5,113.3 L368.8,113.5 L372.1,113.6 L375.3,113.5 L378.6,113.3 L381.9,112.9 L385.2,113.2 L388.4,113.4 L391.7,113.8 L395.0,113.8 L398.2,114.0 L401.5,114.1 L404.8,114.0 L408.0,114.1 L411.3,114.1 L414.6,114.2 L417.8,114.1 L421.1,114.1 L424.4,114.2 L427.7,114.0 L430.9,114.1 L434.2,114.3 L437.5,114.3 L440.7,114.4 L444.0,114.4 L447.3,114.5 L450.5,114.5 L453.8,114.3 L457.1,114.4 L460.4,114.4 L463.6,114.3 L466.9,114.3 L470.2,114.1 L473.4,113.7 L476.7,113.8 L480.0,114.0 L483.2,113.7 L486.5,113.8 L489.8,113.7 L493.0,113.9 L496.3,114.2 L499.6,114.0 L502.9,113.8 L506.1,113.9 L509.4,114.1 L512.7,113.6 L515.9,113.9 L519.2,113.9 L522.5,113.9 L525.7,114.1 L529.0,114.1 L532.3,114.2 L535.5,114.2 L538.8,113.9 L542.1,114.5 L545.4,114.7 L548.6,114.5 L551.9,114.9 L555.2,114.9 L558.4,114.9 L561.7,114.9 L565.0,114.7 L568.2,114.9 L571.5,115.0 L574.8,115.2 L578.0,115.2 L581.3,115.5 L584.6,115.1 L587.9,115.0 L591.1,114.7 L594.4,114.8 L597.7,115.2 L600.9,115.0 L604.2,115.2 L607.5,115.2 L610.7,115.2 L614.0,115.3 L617.3,115.2 L620.5,115.3 L623.8,115.4 L627.1,115.4 L630.4,115.6 L633.6,115.5 L636.9,115.6 L640.2,115.6 L643.4,115.3 L646.7,115.5 L650.0,115.4 L653.2,115.6 L656.5,116.1 L659.8,116.1 L663.1,116.1 L666.3,116.1 L669.6,116.3 L672.9,116.1 L676.1,116.0 L679.4,116.0 L682.7,115.7 L685.9,116.0 L689.2,115.8 L692.5,115.9 L695.7,116.3 L699.0,116.3 L702.3,116.0 L705.6,116.6 L708.8,116.6 L712.1,116.0 L715.4,116.5 L718.6,116.4 L721.9,116.5 L725.2,116.5 L728.4,116.8 L731.7,116.9 L735.0,117.1 L738.2,117.2 L741.5,117.1 L744.8,116.7 L748.1,116.7 L751.3,116.9 L754.6,116.8 L757.9,117.1 L761.1,117.1 L764.4,117.1" fill="none" stroke="#06663a" stroke-width="3.8" stroke-linejoin="round"/>
<g fill="#fff" stroke="#06663a" stroke-width="1.8"><circle cx="113.8" cy="114.3" r="4.0"/><circle cx="117.1" cy="113.8" r="4.0"/><circle cx="120.3" cy="113.3" r="4.0"/><circle cx="123.6" cy="113.0" r="4.0"/><circle cx="126.9" cy="112.4" r="4.0"/><circle cx="130.1" cy="112.3" r="4.0"/><circle cx="133.4" cy="112.3" r="4.0"/><circle cx="136.7" cy="112.5" r="4.0"/><circle cx="140.0" cy="112.3" r="4.0"/><circle cx="143.2" cy="112.0" r="4.0"/><circle cx="146.5" cy="112.0" r="4.0"/><circle cx="149.8" cy="112.1" r="4.0"/><circle cx="153.0" cy="111.9" r="4.0"/><circle cx="156.3" cy="112.1" r="4.0"/><circle cx="159.6" cy="112.1" r="4.0"/><circle cx="162.8" cy="111.9" r="4.0"/><circle cx="166.1" cy="111.8" r="4.0"/><circle cx="169.4" cy="111.9" r="4.0"/><circle cx="172.6" cy="111.4" r="4.0"/><circle cx="175.9" cy="111.7" r="4.0"/><circle cx="179.2" cy="111.8" r="4.0"/><circle cx="182.5" cy="111.9" r="4.0"/><circle cx="185.7" cy="112.0" r="4.0"/><circle cx="189.0" cy="111.6" r="4.0"/><circle cx="192.3" cy="111.9" r="4.0"/><circle cx="195.5" cy="112.0" r="4.0"/><circle cx="198.8" cy="111.9" r="4.0"/><circle cx="202.1" cy="112.0" r="4.0"/><circle cx="205.3" cy="112.0" r="4.0"/><circle cx="208.6" cy="111.8" r="4.0"/><circle cx="211.9" cy="111.9" r="4.0"/><circle cx="215.1" cy="112.0" r="4.0"/><circle cx="218.4" cy="112.0" r="4.0"/><circle cx="221.7" cy="112.1" r="4.0"/><circle cx="225.0" cy="112.0" r="4.0"/><circle cx="228.2" cy="112.1" r="4.0"/><circle cx="231.5" cy="112.1" r="4.0"/><circle cx="234.8" cy="112.2" r="4.0"/><circle cx="238.0" cy="112.3" r="4.0"/><circle cx="241.3" cy="112.2" r="4.0"/><circle cx="244.6" cy="112.0" r="4.0"/><circle cx="247.8" cy="112.3" r="4.0"/><circle cx="251.1" cy="112.4" r="4.0"/><circle cx="254.4" cy="112.1" r="4.0"/><circle cx="257.7" cy="112.4" r="4.0"/><circle cx="260.9" cy="112.4" r="4.0"/><circle cx="264.2" cy="112.3" r="4.0"/><circle cx="267.5" cy="112.3" r="4.0"/><circle cx="270.7" cy="112.4" r="4.0"/><circle cx="274.0" cy="112.3" r="4.0"/><circle cx="277.3" cy="112.4" r="4.0"/><circle cx="280.5" cy="112.3" r="4.0"/><circle cx="283.8" cy="112.6" r="4.0"/><circle cx="287.1" cy="112.8" r="4.0"/><circle cx="290.3" cy="112.9" r="4.0"/><circle cx="293.6" cy="113.1" r="4.0"/><circle cx="296.9" cy="113.2" r="4.0"/><circle cx="300.2" cy="113.0" r="4.0"/><circle cx="303.4" cy="113.1" r="4.0"/><circle cx="306.7" cy="113.1" r="4.0"/><circle cx="310.0" cy="113.2" r="4.0"/><circle cx="313.2" cy="113.3" r="4.0"/><circle cx="316.5" cy="113.4" r="4.0"/><circle cx="319.8" cy="113.3" r="4.0"/><circle cx="323.0" cy="113.2" r="4.0"/><circle cx="326.3" cy="112.9" r="4.0"/><circle cx="329.6" cy="112.8" r="4.0"/><circle cx="332.8" cy="113.0" r="4.0"/><circle cx="336.1" cy="112.9" r="4.0"/><circle cx="339.4" cy="112.8" r="4.0"/><circle cx="342.7" cy="113.0" r="4.0"/><circle cx="345.9" cy="112.7" r="4.0"/><circle cx="349.2" cy="112.6" r="4.0"/><circle cx="352.5" cy="112.9" r="4.0"/><circle cx="355.7" cy="113.1" r="4.0"/><circle cx="359.0" cy="113.4" r="4.0"/><circle cx="362.3" cy="113.1" r="4.0"/><circle cx="365.5" cy="113.3" r="4.0"/><circle cx="368.8" cy="113.5" r="4.0"/><circle cx="372.1" cy="113.6" r="4.0"/><circle cx="375.3" cy="113.5" r="4.0"/><circle cx="378.6" cy="113.3" r="4.0"/><circle cx="381.9" cy="112.9" r="4.0"/><circle cx="385.2" cy="113.2" r="4.0"/><circle cx="388.4" cy="113.4" r="4.0"/><circle cx="391.7" cy="113.8" r="4.0"/><circle cx="395.0" cy="113.8" r="4.0"/><circle cx="398.2" cy="114.0" r="4.0"/><circle cx="401.5" cy="114.1" r="4.0"/><circle cx="404.8" cy="114.0" r="4.0"/><circle cx="408.0" cy="114.1" r="4.0"/><circle cx="411.3" cy="114.1" r="4.0"/><circle cx="414.6" cy="114.2" r="4.0"/><circle cx="417.8" cy="114.1" r="4.0"/><circle cx="421.1" cy="114.1" r="4.0"/><circle cx="424.4" cy="114.2" r="4.0"/><circle cx="427.7" cy="114.0" r="4.0"/><circle cx="430.9" cy="114.1" r="4.0"/><circle cx="434.2" cy="114.3" r="4.0"/><circle cx="437.5" cy="114.3" r="4.0"/><circle cx="440.7" cy="114.4" r="4.0"/><circle cx="444.0" cy="114.4" r="4.0"/><circle cx="447.3" cy="114.5" r="4.0"/><circle cx="450.5" cy="114.5" r="4.0"/><circle cx="453.8" cy="114.3" r="4.0"/><circle cx="457.1" cy="114.4" r="4.0"/><circle cx="460.4" cy="114.4" r="4.0"/><circle cx="463.6" cy="114.3" r="4.0"/><circle cx="466.9" cy="114.3" r="4.0"/><circle cx="470.2" cy="114.1" r="4.0"/><circle cx="473.4" cy="113.7" r="4.0"/><circle cx="476.7" cy="113.8" r="4.0"/><circle cx="480.0" cy="114.0" r="4.0"/><circle cx="483.2" cy="113.7" r="4.0"/><circle cx="486.5" cy="113.8" r="4.0"/><circle cx="489.8" cy="113.7" r="4.0"/><circle cx="493.0" cy="113.9" r="4.0"/><circle cx="496.3" cy="114.2" r="4.0"/><circle cx="499.6" cy="114.0" r="4.0"/><circle cx="502.9" cy="113.8" r="4.0"/><circle cx="506.1" cy="113.9" r="4.0"/><circle cx="509.4" cy="114.1" r="4.0"/><circle cx="512.7" cy="113.6" r="4.0"/><circle cx="515.9" cy="113.9" r="4.0"/><circle cx="519.2" cy="113.9" r="4.0"/><circle cx="522.5" cy="113.9" r="4.0"/><circle cx="525.7" cy="114.1" r="4.0"/><circle cx="529.0" cy="114.1" r="4.0"/><circle cx="532.3" cy="114.2" r="4.0"/><circle cx="535.5" cy="114.2" r="4.0"/><circle cx="538.8" cy="113.9" r="4.0"/><circle cx="542.1" cy="114.5" r="4.0"/><circle cx="545.4" cy="114.7" r="4.0"/><circle cx="548.6" cy="114.5" r="4.0"/><circle cx="551.9" cy="114.9" r="4.0"/><circle cx="555.2" cy="114.9" r="4.0"/><circle cx="558.4" cy="114.9" r="4.0"/><circle cx="561.7" cy="114.9" r="4.0"/><circle cx="565.0" cy="114.7" r="4.0"/><circle cx="568.2" cy="114.9" r="4.0"/><circle cx="571.5" cy="115.0" r="4.0"/><circle cx="574.8" cy="115.2" r="4.0"/><circle cx="578.0" cy="115.2" r="4.0"/><circle cx="581.3" cy="115.5" r="4.0"/><circle cx="584.6" cy="115.1" r="4.0"/><circle cx="587.9" cy="115.0" r="4.0"/><circle cx="591.1" cy="114.7" r="4.0"/><circle cx="594.4" cy="114.8" r="4.0"/><circle cx="597.7" cy="115.2" r="4.0"/><circle cx="600.9" cy="115.0" r="4.0"/><circle cx="604.2" cy="115.2" r="4.0"/><circle cx="607.5" cy="115.2" r="4.0"/><circle cx="610.7" cy="115.2" r="4.0"/><circle cx="614.0" cy="115.3" r="4.0"/><circle cx="617.3" cy="115.2" r="4.0"/><circle cx="620.5" cy="115.3" r="4.0"/><circle cx="623.8" cy="115.4" r="4.0"/><circle cx="627.1" cy="115.4" r="4.0"/><circle cx="630.4" cy="115.6" r="4.0"/><circle cx="633.6" cy="115.5" r="4.0"/><circle cx="636.9" cy="115.6" r="4.0"/><circle cx="640.2" cy="115.6" r="4.0"/><circle cx="643.4" cy="115.3" r="4.0"/><circle cx="646.7" cy="115.5" r="4.0"/><circle cx="650.0" cy="115.4" r="4.0"/><circle cx="653.2" cy="115.6" r="4.0"/><circle cx="656.5" cy="116.1" r="4.0"/><circle cx="659.8" cy="116.1" r="4.0"/><circle cx="663.1" cy="116.1" r="4.0"/><circle cx="666.3" cy="116.1" r="4.0"/><circle cx="669.6" cy="116.3" r="4.0"/><circle cx="672.9" cy="116.1" r="4.0"/><circle cx="676.1" cy="116.0" r="4.0"/><circle cx="679.4" cy="116.0" r="4.0"/><circle cx="682.7" cy="115.7" r="4.0"/><circle cx="685.9" cy="116.0" r="4.0"/><circle cx="689.2" cy="115.8" r="4.0"/><circle cx="692.5" cy="115.9" r="4.0"/><circle cx="695.7" cy="116.3" r="4.0"/><circle cx="699.0" cy="116.3" r="4.0"/><circle cx="702.3" cy="116.0" r="4.0"/><circle cx="705.6" cy="116.6" r="4.0"/><circle cx="708.8" cy="116.6" r="4.0"/><circle cx="712.1" cy="116.0" r="4.0"/><circle cx="715.4" cy="116.5" r="4.0"/><circle cx="718.6" cy="116.4" r="4.0"/><circle cx="721.9" cy="116.5" r="4.0"/><circle cx="725.2" cy="116.5" r="4.0"/><circle cx="728.4" cy="116.8" r="4.0"/><circle cx="731.7" cy="116.9" r="4.0"/><circle cx="735.0" cy="117.1" r="4.0"/><circle cx="738.2" cy="117.2" r="4.0"/><circle cx="741.5" cy="117.1" r="4.0"/><circle cx="744.8" cy="116.7" r="4.0"/><circle cx="748.1" cy="116.7" r="4.0"/><circle cx="751.3" cy="116.9" r="4.0"/><circle cx="754.6" cy="116.8" r="4.0"/><circle cx="757.9" cy="117.1" r="4.0"/><circle cx="761.1" cy="117.1" r="4.0"/><circle cx="764.4" cy="117.1" r="4.0"/></g>
<line x1="169" y1="297.8" x2="238.7" y2="297.8" stroke="#000" stroke-width="3.9"/>
<line x1="169" y1="339.0" x2="238.7" y2="339.0" stroke="#06663a" stroke-width="3.9"/>
<line x1="169" y1="380.0" x2="238.7" y2="380.0" stroke="#000" stroke-width="3.9"/>
<line x1="169" y1="420.8" x2="238.7" y2="420.8" stroke="#06663a" stroke-width="3.9"/>
<circle cx="202.2" cy="296.4" r="5.2" fill="#000"/>
<rect x="198.1" y="333.3" width="10.8" height="11.4" fill="#06663a"/>
<circle cx="202.2" cy="378.4" r="4.35" fill="#fff" stroke="#000" stroke-width="1.7"/>
<circle cx="202.2" cy="419.5" r="4.35" fill="#fff" stroke="#06663a" stroke-width="1.7"/>
<g style="font-family:'Liberation Sans',sans-serif;text-rendering:geometricPrecision;font-size:25px" fill="#000">
<text x="249.6" y="306.9">CE: Electrolysis</text>
<text x="249.6" y="347.4">CE: Reactor</text>
<text x="249.6" y="387.9">EE: Electrolysis</text>
<text x="249.6" y="428.4">EE: Reactor</text>
</g>
<g stroke="#000" stroke-width="2.7" fill="none">
<rect x="110.0" y="619.6" width="653.30" height="468.90"/>
<line x1="102.0" y1="1088.50" x2="110.0" y2="1088.50"/>
<line x1="102.0" y1="1010.35" x2="110.0" y2="1010.35"/>
<line x1="102.0" y1="932.20" x2="110.0" y2="932.20"/>
<line x1="102.0" y1="854.05" x2="110.0" y2="854.05"/>
<line x1="102.0" y1="775.90" x2="110.0" y2="775.90"/>
<line x1="102.0" y1="697.75" x2="110.0" y2="697.75"/>
<line x1="102.0" y1="619.60" x2="110.0" y2="619.60"/>
<line x1="109.85" y1="1088.5" x2="109.85" y2="1096.3"/>
<line x1="273.19" y1="1088.5" x2="273.19" y2="1096.3"/>
<line x1="436.52" y1="1088.5" x2="436.52" y2="1096.3"/>
<line x1="599.86" y1="1088.5" x2="599.86" y2="1096.3"/>
<line x1="763.19" y1="1088.5" x2="763.19" y2="1096.3"/>
</g>
<g style="font-family:'Liberation Sans',sans-serif;text-rendering:geometricPrecision;font-size:29px" fill="#000">
<text transform="translate(92.3,1098.40) scale(1,1.045)" text-anchor="end">0.6</text>
<text transform="translate(92.3,1020.25) scale(1,1.045)" text-anchor="end">0.8</text>
<text transform="translate(92.3,942.10) scale(1,1.045)" text-anchor="end">1.0</text>
<text transform="translate(92.3,863.95) scale(1,1.045)" text-anchor="end">1.2</text>
<text transform="translate(92.3,785.80) scale(1,1.045)" text-anchor="end">1.4</text>
<text transform="translate(92.3,707.65) scale(1,1.045)" text-anchor="end">1.6</text>
<text transform="translate(92.3,629.50) scale(1,1.045)" text-anchor="end">1.8</text>
<text transform="translate(109.85,1130.0) scale(1,1.045)" text-anchor="middle">0</text>
<text transform="translate(273.19,1130.0) scale(1,1.045)" text-anchor="middle">50</text>
<text transform="translate(436.52,1130.0) scale(1,1.045)" text-anchor="middle">100</text>
<text transform="translate(599.86,1130.0) scale(1,1.045)" text-anchor="middle">150</text>
<text transform="translate(763.19,1130.0) scale(1,1.045)" text-anchor="middle">200</text>
<text transform="translate(436.6,1170.4) scale(1,1.04)" text-anchor="middle">Time (h)</text>
<text transform="translate(26.7,854.9) rotate(-90) scale(1,1.04)" text-anchor="middle">Voltage (V)</text>
</g>
<circle cx="169.2" cy="924.2" r="7.5" fill="url(#gK)"/>
<circle cx="169.3" cy="965.1" r="7.5" fill="url(#gG)"/>
<g style="font-family:'Liberation Sans',sans-serif;text-rendering:geometricPrecision;font-size:25px" fill="#000">
<text x="189.8" y="934">Electrolysis</text>
<text x="189.8" y="974.2">Reactor</text>
</g>
<g fill="url(#gK)"><circle cx="109.1" cy="663.6" r="7.4"/><circle cx="109.1" cy="667.8" r="7.4"/><circle cx="109.1" cy="669.8" r="7.4"/><circle cx="109.1" cy="671.8" r="7.4"/><circle cx="109.1" cy="673.8" r="7.4"/><circle cx="109.2" cy="675.8" r="7.4"/><circle cx="109.2" cy="676.3" r="7.4"/><circle cx="109.2" cy="676.8" r="7.4"/><circle cx="109.2" cy="677.3" r="7.4"/><circle cx="109.2" cy="677.8" r="7.4"/><circle cx="109.2" cy="678.3" r="7.4"/><circle cx="109.2" cy="678.8" r="7.4"/><circle cx="109.2" cy="679.3" r="7.4"/><circle cx="109.2" cy="679.8" r="7.4"/><circle cx="109.2" cy="680.3" r="7.4"/><circle cx="109.2" cy="680.8" r="7.4"/><circle cx="109.2" cy="681.3" r="7.4"/><circle cx="109.3" cy="681.8" r="7.4"/><circle cx="109.3" cy="682.3" r="7.4"/><circle cx="109.3" cy="682.8" r="7.4"/><circle cx="109.3" cy="683.3" r="7.4"/><circle cx="109.3" cy="683.8" r="7.4"/><circle cx="109.3" cy="684.3" r="7.4"/><circle cx="109.3" cy="684.8" r="7.4"/><circle cx="109.3" cy="685.3" r="7.4"/><circle cx="109.3" cy="685.8" r="7.4"/><circle cx="109.4" cy="686.3" r="7.4"/><circle cx="109.4" cy="686.8" r="7.4"/><circle cx="109.4" cy="687.3" r="7.4"/><circle cx="109.4" cy="687.8" r="7.4"/><circle cx="109.5" cy="688.3" r="7.4"/><circle cx="109.5" cy="688.8" r="7.4"/><circle cx="109.5" cy="689.3" r="7.4"/><circle cx="109.5" cy="689.8" r="7.4"/><circle cx="109.6" cy="690.3" r="7.4"/><circle cx="109.6" cy="690.8" r="7.4"/><circle cx="109.6" cy="691.3" r="7.4"/><circle cx="109.6" cy="691.8" r="7.4"/><circle cx="109.7" cy="692.3" r="7.4"/><circle cx="109.7" cy="692.8" r="7.4"/><circle cx="109.7" cy="693.3" r="7.4"/><circle cx="109.7" cy="693.8" r="7.4"/><circle cx="109.8" cy="694.3" r="7.4"/><circle cx="109.8" cy="694.8" r="7.4"/><circle cx="109.8" cy="695.3" r="7.4"/><circle cx="109.9" cy="695.8" r="7.4"/><circle cx="110.0" cy="696.3" r="7.4"/><circle cx="110.1" cy="696.8" r="7.4"/><circle cx="110.1" cy="697.3" r="7.4"/><circle cx="110.2" cy="697.8" r="7.4"/><circle cx="110.3" cy="698.2" r="7.4"/><circle cx="110.4" cy="698.7" r="7.4"/><circle cx="110.4" cy="699.2" r="7.4"/><circle cx="110.5" cy="699.7" r="7.4"/><circle cx="110.6" cy="700.2" r="7.4"/><circle cx="110.7" cy="700.7" r="7.4"/><circle cx="110.7" cy="701.2" r="7.4"/><circle cx="110.8" cy="701.7" r="7.4"/><circle cx="110.9" cy="702.2" r="7.4"/><circle cx="111.0" cy="702.7" r="7.4"/><circle cx="111.1" cy="703.2" r="7.4"/><circle cx="111.2" cy="703.7" r="7.4"/><circle cx="111.4" cy="704.1" r="7.4"/><circle cx="111.6" cy="704.6" r="7.4"/><circle cx="111.7" cy="705.1" r="7.4"/><circle cx="111.9" cy="705.5" r="7.4"/><circle cx="112.1" cy="706.0" r="7.4"/><circle cx="112.2" cy="706.5" r="7.4"/><circle cx="112.4" cy="707.0" r="7.4"/><circle cx="112.6" cy="707.4" r="7.4"/><circle cx="112.7" cy="707.9" r="7.4"/><circle cx="112.9" cy="708.4" r="7.4"/><circle cx="113.1" cy="708.8" r="7.4"/><circle cx="113.3" cy="709.3" r="7.4"/><circle cx="113.4" cy="709.8" r="7.4"/><circle cx="113.7" cy="710.2" r="7.4"/><circle cx="114.0" cy="710.6" r="7.4"/><circle cx="114.3" cy="711.0" r="7.4"/><circle cx="114.6" cy="711.4" r="7.4"/><circle cx="114.9" cy="711.8" r="7.4"/><circle cx="115.2" cy="712.2" r="7.4"/><circle cx="115.5" cy="712.6" r="7.4"/><circle cx="115.8" cy="713.0" r="7.4"/><circle cx="116.1" cy="713.4" r="7.4"/><circle cx="116.4" cy="713.8" r="7.4"/><circle cx="116.7" cy="714.2" r="7.4"/><circle cx="117.0" cy="714.6" r="7.4"/><circle cx="117.3" cy="715.0" r="7.4"/><circle cx="117.6" cy="715.4" r="7.4"/><circle cx="117.9" cy="715.8" r="7.4"/><circle cx="118.2" cy="716.2" r="7.4"/><circle cx="118.6" cy="716.5" r="7.4"/><circle cx="119.0" cy="716.8" r="7.4"/><circle cx="119.4" cy="717.1" r="7.4"/><circle cx="119.7" cy="717.4" r="7.4"/><circle cx="120.1" cy="717.8" r="7.4"/><circle cx="120.5" cy="718.1" r="7.4"/><circle cx="120.9" cy="718.4" r="7.4"/><circle cx="121.3" cy="718.7" r="7.4"/><circle cx="121.7" cy="719.0" r="7.4"/><circle cx="122.0" cy="719.4" r="7.4"/><circle cx="122.4" cy="719.7" r="7.4"/><circle cx="122.8" cy="720.0" r="7.4"/><circle cx="123.2" cy="720.3" r="7.4"/><circle cx="123.6" cy="720.6" r="7.4"/><circle cx="124.0" cy="721.0" r="7.4"/><circle cx="124.4" cy="721.2" r="7.4"/><circle cx="124.8" cy="721.5" r="7.4"/><circle cx="125.3" cy="721.7" r="7.4"/><circle cx="125.7" cy="722.0" r="7.4"/><circle cx="126.1" cy="722.2" r="7.4"/><circle cx="126.6" cy="722.4" r="7.4"/><circle cx="127.0" cy="722.7" r="7.4"/><circle cx="127.4" cy="722.9" r="7.4"/><circle cx="127.9" cy="723.2" r="7.4"/><circle cx="128.3" cy="723.4" r="7.4"/><circle cx="128.8" cy="723.7" r="7.4"/><circle cx="129.2" cy="723.9" r="7.4"/><circle cx="129.6" cy="724.2" r="7.4"/><circle cx="130.1" cy="724.4" r="7.4"/><circle cx="130.5" cy="724.7" r="7.4"/><circle cx="130.9" cy="724.9" r="7.4"/><circle cx="131.4" cy="725.1" r="7.4"/><circle cx="131.8" cy="725.4" r="7.4"/><circle cx="132.2" cy="725.6" r="7.4"/><circle cx="132.7" cy="725.9" r="7.4"/><circle cx="133.1" cy="726.1" r="7.4"/><circle cx="133.6" cy="726.3" r="7.4"/><circle cx="134.0" cy="726.6" r="7.4"/><circle cx="134.4" cy="726.8" r="7.4"/><circle cx="134.9" cy="727.1" r="7.4"/><circle cx="135.3" cy="727.3" r="7.4"/><circle cx="135.8" cy="727.5" r="7.4"/><circle cx="136.2" cy="727.8" r="7.4"/><circle cx="136.6" cy="728.0" r="7.4"/><circle cx="137.1" cy="728.2" r="7.4"/><circle cx="137.5" cy="728.5" r="7.4"/><circle cx="138.0" cy="728.7" r="7.4"/><circle cx="138.4" cy="728.9" r="7.4"/><circle cx="138.8" cy="729.2" r="7.4"/><circle cx="139.3" cy="729.4" r="7.4"/><circle cx="139.7" cy="729.6" r="7.4"/><circle cx="140.2" cy="729.9" r="7.4"/><circle cx="140.6" cy="730.0" r="7.4"/><circle cx="141.1" cy="730.2" r="7.4"/><circle cx="141.6" cy="730.4" r="7.4"/><circle cx="142.0" cy="730.6" r="7.4"/><circle cx="142.5" cy="730.8" r="7.4"/><circle cx="142.9" cy="731.0" r="7.4"/><circle cx="143.4" cy="731.2" r="7.4"/><circle cx="143.9" cy="731.4" r="7.4"/><circle cx="144.3" cy="731.6" r="7.4"/><circle cx="144.8" cy="731.8" r="7.4"/><circle cx="145.3" cy="731.9" r="7.4"/><circle cx="145.7" cy="732.1" r="7.4"/><circle cx="146.2" cy="732.3" r="7.4"/><circle cx="146.6" cy="732.5" r="7.4"/><circle cx="147.1" cy="732.7" r="7.4"/><circle cx="147.6" cy="732.9" r="7.4"/><circle cx="148.0" cy="733.1" r="7.4"/><circle cx="148.5" cy="733.3" r="7.4"/><circle cx="148.9" cy="733.5" r="7.4"/><circle cx="149.4" cy="733.7" r="7.4"/><circle cx="149.9" cy="733.8" r="7.4"/><circle cx="150.3" cy="734.0" r="7.4"/><circle cx="150.8" cy="734.2" r="7.4"/><circle cx="151.3" cy="734.4" r="7.4"/><circle cx="151.7" cy="734.6" r="7.4"/><circle cx="152.2" cy="734.8" r="7.4"/><circle cx="152.6" cy="735.0" r="7.4"/><circle cx="153.1" cy="735.2" r="7.4"/><circle cx="153.6" cy="735.4" r="7.4"/><circle cx="154.0" cy="735.6" r="7.4"/><circle cx="154.5" cy="735.7" r="7.4"/><circle cx="154.9" cy="735.9" r="7.4"/><circle cx="155.4" cy="736.1" r="7.4"/><circle cx="155.9" cy="736.3" r="7.4"/><circle cx="156.3" cy="736.5" r="7.4"/><circle cx="156.8" cy="736.7" r="7.4"/><circle cx="157.3" cy="736.9" r="7.4"/><circle cx="157.7" cy="737.1" r="7.4"/><circle cx="158.2" cy="737.3" r="7.4"/><circle cx="158.6" cy="737.5" r="7.4"/><circle cx="159.1" cy="737.7" r="7.4"/><circle cx="159.6" cy="737.9" r="7.4"/><circle cx="160.0" cy="738.1" r="7.4"/><circle cx="160.5" cy="738.2" r="7.4"/><circle cx="160.9" cy="738.4" r="7.4"/><circle cx="161.4" cy="738.6" r="7.4"/><circle cx="161.9" cy="738.8" r="7.4"/><circle cx="162.3" cy="739.0" r="7.4"/><circle cx="162.8" cy="739.2" r="7.4"/><circle cx="163.3" cy="739.4" r="7.4"/><circle cx="163.7" cy="739.6" r="7.4"/><circle cx="164.2" cy="739.8" r="7.4"/><circle cx="164.6" cy="740.0" r="7.4"/><circle cx="165.1" cy="740.2" r="7.4"/><circle cx="165.6" cy="740.4" r="7.4"/><circle cx="166.0" cy="740.6" r="7.4"/><circle cx="166.5" cy="740.7" r="7.4"/><circle cx="166.9" cy="740.9" r="7.4"/><circle cx="167.4" cy="741.1" r="7.4"/><circle cx="167.9" cy="741.3" r="7.4"/><circle cx="168.3" cy="741.5" r="7.4"/><circle cx="168.8" cy="741.7" r="7.4"/><circle cx="169.3" cy="741.9" r="7.4"/><circle cx="169.7" cy="742.1" r="7.4"/><circle cx="170.2" cy="742.3" r="7.4"/><circle cx="170.7" cy="742.4" r="7.4"/><circle cx="171.1" cy="742.5" r="7.4"/><circle cx="171.6" cy="742.7" r="7.4"/><circle cx="172.1" cy="742.8" r="7.4"/><circle cx="172.6" cy="742.9" r="7.4"/><circle cx="173.1" cy="743.1" r="7.4"/><circle cx="173.5" cy="743.2" r="7.4"/><circle cx="174.0" cy="743.4" r="7.4"/><circle cx="174.5" cy="743.5" r="7.4"/><circle cx="175.0" cy="743.6" r="7.4"/><circle cx="175.5" cy="743.8" r="7.4"/><circle cx="175.9" cy="743.9" r="7.4"/><circle cx="176.4" cy="744.0" r="7.4"/><circle cx="176.9" cy="744.2" r="7.4"/><circle cx="177.4" cy="744.3" r="7.4"/><circle cx="177.9" cy="744.4" r="7.4"/><circle cx="178.3" cy="744.6" r="7.4"/><circle cx="178.8" cy="744.7" r="7.4"/><circle cx="179.3" cy="744.9" r="7.4"/><circle cx="179.8" cy="745.0" r="7.4"/><circle cx="180.3" cy="745.1" r="7.4"/><circle cx="180.7" cy="745.3" r="7.4"/><circle cx="181.2" cy="745.4" r="7.4"/><circle cx="181.7" cy="745.5" r="7.4"/><circle cx="182.2" cy="745.7" r="7.4"/><circle cx="182.7" cy="745.8" r="7.4"/><circle cx="183.2" cy="745.9" r="7.4"/><circle cx="183.6" cy="746.1" r="7.4"/><circle cx="184.1" cy="746.2" r="7.4"/><circle cx="184.6" cy="746.3" r="7.4"/><circle cx="185.1" cy="746.5" r="7.4"/><circle cx="185.6" cy="746.6" r="7.4"/><circle cx="186.0" cy="746.8" r="7.4"/><circle cx="186.5" cy="746.9" r="7.4"/><circle cx="187.0" cy="747.0" r="7.4"/><circle cx="187.5" cy="747.2" r="7.4"/><circle cx="188.0" cy="747.3" r="7.4"/><circle cx="188.4" cy="747.4" r="7.4"/><circle cx="188.9" cy="747.6" r="7.4"/><circle cx="189.4" cy="747.7" r="7.4"/><circle cx="189.9" cy="747.9" r="7.4"/><circle cx="190.4" cy="748.0" r="7.4"/><circle cx="190.8" cy="748.1" r="7.4"/><circle cx="191.3" cy="748.3" r="7.4"/><circle cx="191.8" cy="748.4" r="7.4"/><circle cx="192.3" cy="748.5" r="7.4"/><circle cx="192.8" cy="748.7" r="7.4"/><circle cx="193.2" cy="748.8" r="7.4"/><circle cx="193.7" cy="748.9" r="7.4"/><circle cx="194.2" cy="749.1" r="7.4"/><circle cx="194.7" cy="749.2" r="7.4"/><circle cx="195.2" cy="749.4" r="7.4"/><circle cx="195.6" cy="749.5" r="7.4"/><circle cx="196.1" cy="749.6" r="7.4"/><circle cx="196.6" cy="749.8" r="7.4"/><circle cx="197.1" cy="749.9" r="7.4"/><circle cx="197.6" cy="750.1" r="7.4"/><circle cx="198.0" cy="750.2" r="7.4"/><circle cx="198.5" cy="750.3" r="7.4"/><circle cx="199.0" cy="750.5" r="7.4"/><circle cx="199.5" cy="750.6" r="7.4"/><circle cx="200.0" cy="750.8" r="7.4"/><circle cx="200.4" cy="750.9" r="7.4"/><circle cx="200.9" cy="751.0" r="7.4"/><circle cx="201.4" cy="751.1" r="7.4"/><circle cx="201.9" cy="751.3" r="7.4"/><circle cx="202.4" cy="751.4" r="7.4"/><circle cx="202.9" cy="751.5" r="7.4"/><circle cx="203.4" cy="751.6" r="7.4"/><circle cx="203.8" cy="751.8" r="7.4"/><circle cx="204.3" cy="751.9" r="7.4"/><circle cx="204.8" cy="752.0" r="7.4"/><circle cx="205.3" cy="752.1" r="7.4"/><circle cx="205.8" cy="752.3" r="7.4"/><circle cx="206.3" cy="752.4" r="7.4"/><circle cx="206.7" cy="752.5" r="7.4"/><circle cx="207.2" cy="752.7" r="7.4"/><circle cx="207.7" cy="752.8" r="7.4"/><circle cx="208.2" cy="752.9" r="7.4"/><circle cx="208.7" cy="753.0" r="7.4"/><circle cx="209.2" cy="753.2" r="7.4"/><circle cx="209.7" cy="753.3" r="7.4"/><circle cx="210.1" cy="753.4" r="7.4"/><circle cx="210.6" cy="753.5" r="7.4"/><circle cx="211.1" cy="753.7" r="7.4"/><circle cx="211.6" cy="753.8" r="7.4"/><circle cx="212.1" cy="753.9" r="7.4"/><circle cx="212.6" cy="754.1" r="7.4"/><circle cx="213.0" cy="754.2" r="7.4"/><circle cx="213.5" cy="754.3" r="7.4"/><circle cx="214.0" cy="754.5" r="7.4"/><circle cx="214.5" cy="754.6" r="7.4"/><circle cx="215.0" cy="754.7" r="7.4"/><circle cx="215.5" cy="754.8" r="7.4"/><circle cx="216.0" cy="755.0" r="7.4"/><circle cx="216.4" cy="755.1" r="7.4"/><circle cx="216.9" cy="755.2" r="7.4"/><circle cx="217.4" cy="755.4" r="7.4"/><circle cx="217.9" cy="755.5" r="7.4"/><circle cx="218.4" cy="755.6" r="7.4"/><circle cx="218.9" cy="755.8" r="7.4"/><circle cx="219.3" cy="755.9" r="7.4"/><circle cx="219.8" cy="756.0" r="7.4"/><circle cx="220.3" cy="756.2" r="7.4"/><circle cx="220.8" cy="756.3" r="7.4"/><circle cx="221.3" cy="756.4" r="7.4"/><circle cx="221.8" cy="756.6" r="7.4"/><circle cx="222.3" cy="756.7" r="7.4"/><circle cx="222.7" cy="756.8" r="7.4"/><circle cx="223.2" cy="756.9" r="7.4"/><circle cx="223.7" cy="757.1" r="7.4"/><circle cx="224.2" cy="757.2" r="7.4"/><circle cx="224.7" cy="757.3" r="7.4"/><circle cx="225.2" cy="757.5" r="7.4"/><circle cx="225.6" cy="757.6" r="7.4"/><circle cx="226.1" cy="757.7" r="7.4"/><circle cx="226.6" cy="757.9" r="7.4"/><circle cx="227.1" cy="758.0" r="7.4"/><circle cx="227.6" cy="758.1" r="7.4"/><circle cx="228.1" cy="758.3" r="7.4"/><circle cx="228.6" cy="758.4" r="7.4"/><circle cx="229.0" cy="758.5" r="7.4"/><circle cx="229.5" cy="758.6" r="7.4"/><circle cx="230.0" cy="758.8" r="7.4"/><circle cx="230.5" cy="758.9" r="7.4"/><circle cx="231.0" cy="759.0" r="7.4"/><circle cx="231.5" cy="759.1" r="7.4"/><circle cx="232.0" cy="759.2" r="7.4"/><circle cx="232.4" cy="759.3" r="7.4"/><circle cx="232.9" cy="759.5" r="7.4"/><circle cx="233.4" cy="759.6" r="7.4"/><circle cx="233.9" cy="759.7" r="7.4"/><circle cx="234.4" cy="759.8" r="7.4"/><circle cx="234.9" cy="759.9" r="7.4"/><circle cx="235.4" cy="760.0" r="7.4"/><circle cx="235.9" cy="760.1" r="7.4"/><circle cx="236.4" cy="760.2" r="7.4"/><circle cx="236.8" cy="760.3" r="7.4"/><circle cx="237.3" cy="760.5" r="7.4"/><circle cx="237.8" cy="760.6" r="7.4"/><circle cx="238.3" cy="760.7" r="7.4"/><circle cx="238.8" cy="760.8" r="7.4"/><circle cx="239.3" cy="760.9" r="7.4"/><circle cx="239.8" cy="761.0" r="7.4"/><circle cx="240.3" cy="761.1" r="7.4"/><circle cx="240.8" cy="761.2" r="7.4"/><circle cx="241.2" cy="761.3" r="7.4"/><circle cx="241.7" cy="761.4" r="7.4"/><circle cx="242.2" cy="761.5" r="7.4"/><circle cx="242.7" cy="761.6" r="7.4"/><circle cx="243.2" cy="761.7" r="7.4"/><circle cx="243.7" cy="761.9" r="7.4"/><circle cx="244.2" cy="762.0" r="7.4"/><circle cx="244.7" cy="762.1" r="7.4"/><circle cx="245.1" cy="762.2" r="7.4"/><circle cx="245.6" cy="762.3" r="7.4"/><circle cx="246.1" cy="762.4" r="7.4"/><circle cx="246.6" cy="762.5" r="7.4"/><circle cx="247.1" cy="762.6" r="7.4"/><circle cx="247.6" cy="762.7" r="7.4"/><circle cx="248.1" cy="762.8" r="7.4"/><circle cx="248.6" cy="762.9" r="7.4"/><circle cx="249.1" cy="763.0" r="7.4"/><circle cx="249.5" cy="763.1" r="7.4"/><circle cx="250.0" cy="763.2" r="7.4"/><circle cx="250.5" cy="763.3" r="7.4"/><circle cx="251.0" cy="763.4" r="7.4"/><circle cx="251.5" cy="763.5" r="7.4"/><circle cx="252.0" cy="763.6" r="7.4"/><circle cx="252.5" cy="763.7" r="7.4"/><circle cx="253.0" cy="763.8" r="7.4"/><circle cx="253.4" cy="763.9" r="7.4"/><circle cx="253.9" cy="764.0" r="7.4"/><circle cx="254.4" cy="764.1" r="7.4"/><circle cx="254.9" cy="764.2" r="7.4"/><circle cx="255.4" cy="764.3" r="7.4"/><circle cx="255.9" cy="764.4" r="7.4"/><circle cx="256.4" cy="764.5" r="7.4"/><circle cx="256.9" cy="764.6" r="7.4"/><circle cx="257.4" cy="764.7" r="7.4"/><circle cx="257.8" cy="764.8" r="7.4"/><circle cx="258.3" cy="764.9" r="7.4"/><circle cx="258.8" cy="765.0" r="7.4"/><circle cx="259.3" cy="765.1" r="7.4"/><circle cx="259.8" cy="765.1" r="7.4"/><circle cx="260.3" cy="765.2" r="7.4"/><circle cx="260.8" cy="765.3" r="7.4"/><circle cx="261.3" cy="765.4" r="7.4"/><circle cx="261.8" cy="765.4" r="7.4"/><circle cx="262.3" cy="765.5" r="7.4"/><circle cx="262.8" cy="765.6" r="7.4"/><circle cx="263.2" cy="765.6" r="7.4"/><circle cx="263.7" cy="765.7" r="7.4"/><circle cx="264.2" cy="765.8" r="7.4"/><circle cx="264.7" cy="765.8" r="7.4"/><circle cx="265.2" cy="765.9" r="7.4"/><circle cx="265.7" cy="766.0" r="7.4"/><circle cx="266.2" cy="766.0" r="7.4"/><circle cx="266.7" cy="766.1" r="7.4"/><circle cx="267.2" cy="766.2" r="7.4"/><circle cx="267.7" cy="766.2" r="7.4"/><circle cx="268.2" cy="766.3" r="7.4"/><circle cx="268.7" cy="766.4" r="7.4"/><circle cx="269.2" cy="766.4" r="7.4"/><circle cx="269.7" cy="766.5" r="7.4"/><circle cx="270.2" cy="766.6" r="7.4"/><circle cx="270.7" cy="766.7" r="7.4"/><circle cx="271.1" cy="766.7" r="7.4"/><circle cx="271.6" cy="766.8" r="7.4"/><circle cx="272.1" cy="766.9" r="7.4"/><circle cx="272.6" cy="766.9" r="7.4"/><circle cx="273.1" cy="767.0" r="7.4"/><circle cx="273.6" cy="767.1" r="7.4"/><circle cx="274.1" cy="767.1" r="7.4"/><circle cx="274.6" cy="767.2" r="7.4"/><circle cx="275.1" cy="767.3" r="7.4"/><circle cx="275.6" cy="767.4" r="7.4"/><circle cx="276.1" cy="767.4" r="7.4"/><circle cx="276.6" cy="767.5" r="7.4"/><circle cx="277.1" cy="767.6" r="7.4"/><circle cx="277.6" cy="767.6" r="7.4"/><circle cx="278.1" cy="767.7" r="7.4"/><circle cx="278.6" cy="767.8" r="7.4"/><circle cx="279.0" cy="767.9" r="7.4"/><circle cx="279.5" cy="767.9" r="7.4"/><circle cx="280.0" cy="768.0" r="7.4"/><circle cx="280.5" cy="768.1" r="7.4"/><circle cx="281.0" cy="768.2" r="7.4"/><circle cx="281.5" cy="768.2" r="7.4"/><circle cx="282.0" cy="768.3" r="7.4"/><circle cx="282.5" cy="768.4" r="7.4"/><circle cx="283.0" cy="768.5" r="7.4"/><circle cx="283.5" cy="768.6" r="7.4"/><circle cx="284.0" cy="768.6" r="7.4"/><circle cx="284.5" cy="768.7" r="7.4"/><circle cx="285.0" cy="768.8" r="7.4"/><circle cx="285.5" cy="768.9" r="7.4"/><circle cx="286.0" cy="769.0" r="7.4"/><circle cx="286.5" cy="769.0" r="7.4"/><circle cx="286.9" cy="769.1" r="7.4"/><circle cx="287.4" cy="769.2" r="7.4"/><circle cx="287.9" cy="769.3" r="7.4"/><circle cx="288.4" cy="769.4" r="7.4"/><circle cx="288.9" cy="769.4" r="7.4"/><circle cx="289.4" cy="769.5" r="7.4"/><circle cx="289.9" cy="769.6" r="7.4"/><circle cx="290.4" cy="769.7" r="7.4"/><circle cx="290.9" cy="769.8" r="7.4"/><circle cx="291.4" cy="769.9" r="7.4"/><circle cx="291.9" cy="769.9" r="7.4"/><circle cx="292.4" cy="770.0" r="7.4"/><circle cx="292.9" cy="770.1" r="7.4"/><circle cx="293.4" cy="770.2" r="7.4"/><circle cx="293.9" cy="770.3" r="7.4"/><circle cx="294.4" cy="770.4" r="7.4"/><circle cx="294.8" cy="770.5" r="7.4"/><circle cx="295.3" cy="770.5" r="7.4"/><circle cx="295.8" cy="770.6" r="7.4"/><circle cx="296.3" cy="770.7" r="7.4"/><circle cx="296.8" cy="770.8" r="7.4"/><circle cx="297.3" cy="770.9" r="7.4"/><circle cx="297.8" cy="771.0" r="7.4"/><circle cx="298.3" cy="771.1" r="7.4"/><circle cx="298.8" cy="771.2" r="7.4"/><circle cx="299.3" cy="771.2" r="7.4"/><circle cx="299.8" cy="771.3" r="7.4"/><circle cx="300.3" cy="771.4" r="7.4"/><circle cx="300.8" cy="771.5" r="7.4"/><circle cx="301.3" cy="771.6" r="7.4"/><circle cx="301.8" cy="771.7" r="7.4"/><circle cx="302.2" cy="771.8" r="7.4"/><circle cx="302.7" cy="771.9" r="7.4"/><circle cx="303.2" cy="772.0" r="7.4"/><circle cx="303.7" cy="772.1" r="7.4"/><circle cx="304.2" cy="772.2" r="7.4"/><circle cx="304.7" cy="772.3" r="7.4"/><circle cx="305.2" cy="772.4" r="7.4"/><circle cx="305.7" cy="772.5" r="7.4"/><circle cx="306.2" cy="772.6" r="7.4"/><circle cx="306.7" cy="772.6" r="7.4"/><circle cx="307.2" cy="772.7" r="7.4"/><circle cx="307.7" cy="772.8" r="7.4"/><circle cx="308.2" cy="772.9" r="7.4"/><circle cx="308.7" cy="773.0" r="7.4"/><circle cx="309.2" cy="773.1" r="7.4"/><circle cx="309.6" cy="773.2" r="7.4"/><circle cx="310.1" cy="773.3" r="7.4"/><circle cx="310.6" cy="773.4" r="7.4"/><circle cx="311.1" cy="773.5" r="7.4"/><circle cx="311.6" cy="773.6" r="7.4"/><circle cx="312.1" cy="773.7" r="7.4"/><circle cx="312.6" cy="773.8" r="7.4"/><circle cx="313.1" cy="773.9" r="7.4"/><circle cx="313.6" cy="774.0" r="7.4"/><circle cx="314.1" cy="774.1" r="7.4"/><circle cx="314.6" cy="774.2" r="7.4"/><circle cx="315.1" cy="774.2" r="7.4"/><circle cx="315.6" cy="774.3" r="7.4"/><circle cx="316.1" cy="774.4" r="7.4"/><circle cx="316.5" cy="774.5" r="7.4"/><circle cx="317.0" cy="774.6" r="7.4"/><circle cx="317.5" cy="774.7" r="7.4"/><circle cx="318.0" cy="774.8" r="7.4"/><circle cx="318.5" cy="774.9" r="7.4"/><circle cx="319.0" cy="775.0" r="7.4"/><circle cx="319.5" cy="775.1" r="7.4"/><circle cx="320.0" cy="775.2" r="7.4"/><circle cx="320.5" cy="775.3" r="7.4"/><circle cx="321.0" cy="775.3" r="7.4"/><circle cx="321.5" cy="775.4" r="7.4"/><circle cx="322.0" cy="775.5" r="7.4"/><circle cx="322.5" cy="775.6" r="7.4"/><circle cx="323.0" cy="775.7" r="7.4"/><circle cx="323.4" cy="775.8" r="7.4"/><circle cx="323.9" cy="775.9" r="7.4"/><circle cx="324.4" cy="776.0" r="7.4"/><circle cx="324.9" cy="776.1" r="7.4"/><circle cx="325.4" cy="776.2" r="7.4"/><circle cx="325.9" cy="776.2" r="7.4"/><circle cx="326.4" cy="776.3" r="7.4"/><circle cx="326.9" cy="776.4" r="7.4"/><circle cx="327.4" cy="776.5" r="7.4"/><circle cx="327.9" cy="776.6" r="7.4"/><circle cx="328.4" cy="776.7" r="7.4"/><circle cx="328.9" cy="776.8" r="7.4"/><circle cx="329.4" cy="776.9" r="7.4"/><circle cx="329.9" cy="776.9" r="7.4"/><circle cx="330.3" cy="777.0" r="7.4"/><circle cx="330.8" cy="777.1" r="7.4"/><circle cx="331.3" cy="777.2" r="7.4"/><circle cx="331.8" cy="777.3" r="7.4"/><circle cx="332.3" cy="777.4" r="7.4"/><circle cx="332.8" cy="777.4" r="7.4"/><circle cx="333.3" cy="777.5" r="7.4"/><circle cx="333.8" cy="777.6" r="7.4"/><circle cx="334.3" cy="777.7" r="7.4"/><circle cx="334.8" cy="777.8" r="7.4"/><circle cx="335.3" cy="777.9" r="7.4"/><circle cx="335.8" cy="778.0" r="7.4"/><circle cx="336.3" cy="778.0" r="7.4"/><circle cx="336.8" cy="778.1" r="7.4"/><circle cx="337.2" cy="778.2" r="7.4"/><circle cx="337.7" cy="778.3" r="7.4"/><circle cx="338.2" cy="778.4" r="7.4"/><circle cx="338.7" cy="778.5" r="7.4"/><circle cx="339.2" cy="778.5" r="7.4"/><circle cx="339.7" cy="778.6" r="7.4"/><circle cx="340.2" cy="778.7" r="7.4"/><circle cx="340.7" cy="778.8" r="7.4"/><circle cx="341.2" cy="778.9" r="7.4"/><circle cx="341.7" cy="779.0" r="7.4"/><circle cx="342.2" cy="779.1" r="7.4"/><circle cx="342.7" cy="779.1" r="7.4"/><circle cx="343.2" cy="779.2" r="7.4"/><circle cx="343.6" cy="779.3" r="7.4"/><circle cx="344.1" cy="779.4" r="7.4"/><circle cx="344.6" cy="779.5" r="7.4"/><circle cx="345.1" cy="779.6" r="7.4"/><circle cx="345.6" cy="779.7" r="7.4"/><circle cx="346.1" cy="779.8" r="7.4"/><circle cx="346.6" cy="779.8" r="7.4"/><circle cx="347.1" cy="779.9" r="7.4"/><circle cx="347.6" cy="780.0" r="7.4"/><circle cx="348.1" cy="780.1" r="7.4"/><circle cx="348.6" cy="780.2" r="7.4"/><circle cx="349.1" cy="780.3" r="7.4"/><circle cx="349.6" cy="780.4" r="7.4"/><circle cx="350.0" cy="780.5" r="7.4"/><circle cx="350.5" cy="780.5" r="7.4"/><circle cx="351.0" cy="780.6" r="7.4"/><circle cx="351.5" cy="780.7" r="7.4"/><circle cx="352.0" cy="780.8" r="7.4"/><circle cx="352.5" cy="780.9" r="7.4"/><circle cx="353.0" cy="781.0" r="7.4"/><circle cx="353.5" cy="781.1" r="7.4"/><circle cx="354.0" cy="781.2" r="7.4"/><circle cx="354.5" cy="781.2" r="7.4"/><circle cx="355.0" cy="781.3" r="7.4"/><circle cx="355.5" cy="781.4" r="7.4"/><circle cx="356.0" cy="781.5" r="7.4"/><circle cx="356.4" cy="781.6" r="7.4"/><circle cx="356.9" cy="781.7" r="7.4"/><circle cx="357.4" cy="781.8" r="7.4"/><circle cx="357.9" cy="781.9" r="7.4"/><circle cx="358.4" cy="782.0" r="7.4"/><circle cx="358.9" cy="782.0" r="7.4"/><circle cx="359.4" cy="782.1" r="7.4"/><circle cx="359.9" cy="782.2" r="7.4"/><circle cx="360.4" cy="782.3" r="7.4"/><circle cx="360.9" cy="782.4" r="7.4"/><circle cx="361.4" cy="782.5" r="7.4"/><circle cx="361.9" cy="782.6" r="7.4"/><circle cx="362.3" cy="782.7" r="7.4"/><circle cx="362.8" cy="782.8" r="7.4"/><circle cx="363.3" cy="782.8" r="7.4"/><circle cx="363.8" cy="782.9" r="7.4"/><circle cx="364.3" cy="783.0" r="7.4"/><circle cx="364.8" cy="783.1" r="7.4"/><circle cx="365.3" cy="783.2" r="7.4"/><circle cx="365.8" cy="783.3" r="7.4"/><circle cx="366.3" cy="783.4" r="7.4"/><circle cx="366.8" cy="783.5" r="7.4"/><circle cx="367.3" cy="783.6" r="7.4"/><circle cx="367.8" cy="783.7" r="7.4"/><circle cx="368.3" cy="783.7" r="7.4"/><circle cx="368.7" cy="783.8" r="7.4"/><circle cx="369.2" cy="783.9" r="7.4"/><circle cx="369.7" cy="784.0" r="7.4"/><circle cx="370.2" cy="784.1" r="7.4"/><circle cx="370.7" cy="784.2" r="7.4"/><circle cx="371.2" cy="784.3" r="7.4"/><circle cx="371.7" cy="784.4" r="7.4"/><circle cx="372.2" cy="784.5" r="7.4"/><circle cx="372.7" cy="784.5" r="7.4"/><circle cx="373.2" cy="784.6" r="7.4"/><circle cx="373.7" cy="784.7" r="7.4"/><circle cx="374.2" cy="784.8" r="7.4"/><circle cx="374.7" cy="784.9" r="7.4"/><circle cx="375.1" cy="785.0" r="7.4"/><circle cx="375.6" cy="785.1" r="7.4"/><circle cx="376.1" cy="785.2" r="7.4"/><circle cx="376.6" cy="785.3" r="7.4"/><circle cx="377.1" cy="785.4" r="7.4"/><circle cx="377.6" cy="785.4" r="7.4"/><circle cx="378.1" cy="785.5" r="7.4"/><circle cx="378.6" cy="785.6" r="7.4"/><circle cx="379.1" cy="785.7" r="7.4"/><circle cx="379.6" cy="785.8" r="7.4"/><circle cx="380.1" cy="785.9" r="7.4"/><circle cx="380.6" cy="786.0" r="7.4"/><circle cx="381.0" cy="786.1" r="7.4"/><circle cx="381.5" cy="786.2" r="7.4"/><circle cx="382.0" cy="786.3" r="7.4"/><circle cx="382.5" cy="786.4" r="7.4"/><circle cx="383.0" cy="786.5" r="7.4"/><circle cx="383.5" cy="786.6" r="7.4"/><circle cx="384.0" cy="786.7" r="7.4"/><circle cx="384.5" cy="786.8" r="7.4"/><circle cx="385.0" cy="786.9" r="7.4"/><circle cx="385.4" cy="787.0" r="7.4"/><circle cx="385.9" cy="787.1" r="7.4"/><circle cx="386.4" cy="787.2" r="7.4"/><circle cx="386.9" cy="787.3" r="7.4"/><circle cx="387.4" cy="787.4" r="7.4"/><circle cx="387.9" cy="787.5" r="7.4"/><circle cx="388.4" cy="787.6" r="7.4"/><circle cx="388.9" cy="787.7" r="7.4"/><circle cx="389.4" cy="787.8" r="7.4"/><circle cx="389.8" cy="787.9" r="7.4"/><circle cx="390.3" cy="788.0" r="7.4"/><circle cx="390.8" cy="788.1" r="7.4"/><circle cx="391.3" cy="788.2" r="7.4"/><circle cx="391.8" cy="788.3" r="7.4"/><circle cx="392.3" cy="788.4" r="7.4"/><circle cx="392.8" cy="788.5" r="7.4"/><circle cx="393.3" cy="788.5" r="7.4"/><circle cx="393.8" cy="788.6" r="7.4"/><circle cx="394.2" cy="788.7" r="7.4"/><circle cx="394.7" cy="788.8" r="7.4"/><circle cx="395.2" cy="788.9" r="7.4"/><circle cx="395.7" cy="789.0" r="7.4"/><circle cx="396.2" cy="789.1" r="7.4"/><circle cx="396.7" cy="789.1" r="7.4"/><circle cx="397.2" cy="789.2" r="7.4"/><circle cx="397.7" cy="789.3" r="7.4"/><circle cx="398.2" cy="789.4" r="7.4"/><circle cx="398.6" cy="789.4" r="7.4"/><circle cx="399.1" cy="789.5" r="7.4"/><circle cx="399.6" cy="789.6" r="7.4"/><circle cx="400.1" cy="789.7" r="7.4"/><circle cx="400.6" cy="789.7" r="7.4"/><circle cx="401.1" cy="789.8" r="7.4"/><circle cx="401.6" cy="789.9" r="7.4"/><circle cx="402.1" cy="789.9" r="7.4"/><circle cx="402.6" cy="790.0" r="7.4"/><circle cx="403.1" cy="790.1" r="7.4"/><circle cx="403.5" cy="790.1" r="7.4"/><circle cx="404.0" cy="790.2" r="7.4"/><circle cx="404.5" cy="790.3" r="7.4"/><circle cx="405.0" cy="790.4" r="7.4"/><circle cx="405.5" cy="790.4" r="7.4"/><circle cx="406.0" cy="790.5" r="7.4"/><circle cx="406.5" cy="790.6" r="7.4"/><circle cx="407.0" cy="790.7" r="7.4"/><circle cx="407.5" cy="790.8" r="7.4"/><circle cx="407.9" cy="790.8" r="7.4"/><circle cx="408.4" cy="790.9" r="7.4"/><circle cx="408.9" cy="791.0" r="7.4"/><circle cx="409.4" cy="791.1" r="7.4"/><circle cx="409.9" cy="791.2" r="7.4"/><circle cx="410.4" cy="791.3" r="7.4"/><circle cx="410.9" cy="791.5" r="7.4"/><circle cx="411.4" cy="791.6" r="7.4"/><circle cx="411.9" cy="791.7" r="7.4"/><circle cx="412.3" cy="791.8" r="7.4"/><circle cx="412.8" cy="792.0" r="7.4"/><circle cx="413.3" cy="792.1" r="7.4"/><circle cx="413.8" cy="792.2" r="7.4"/><circle cx="414.3" cy="792.4" r="7.4"/><circle cx="414.8" cy="792.5" r="7.4"/><circle cx="415.3" cy="792.7" r="7.4"/><circle cx="415.8" cy="792.9" r="7.4"/><circle cx="416.3" cy="793.0" r="7.4"/><circle cx="416.7" cy="793.2" r="7.4"/><circle cx="417.2" cy="793.4" r="7.4"/><circle cx="417.7" cy="793.5" r="7.4"/><circle cx="418.2" cy="793.7" r="7.4"/><circle cx="418.7" cy="793.9" r="7.4"/><circle cx="419.2" cy="794.1" r="7.4"/><circle cx="419.7" cy="794.2" r="7.4"/><circle cx="420.2" cy="794.4" r="7.4"/><circle cx="420.7" cy="794.5" r="7.4"/><circle cx="421.2" cy="794.6" r="7.4"/><circle cx="421.6" cy="794.8" r="7.4"/><circle cx="422.1" cy="794.9" r="7.4"/><circle cx="422.6" cy="795.0" r="7.4"/><circle cx="423.1" cy="795.1" r="7.4"/><circle cx="423.6" cy="795.2" r="7.4"/><circle cx="424.1" cy="795.3" r="7.4"/><circle cx="424.6" cy="795.3" r="7.4"/><circle cx="425.1" cy="795.4" r="7.4"/><circle cx="425.6" cy="795.5" r="7.4"/><circle cx="426.1" cy="795.5" r="7.4"/><circle cx="426.6" cy="795.6" r="7.4"/><circle cx="427.1" cy="795.6" r="7.4"/><circle cx="427.6" cy="795.7" r="7.4"/><circle cx="428.0" cy="795.7" r="7.4"/><circle cx="428.5" cy="795.8" r="7.4"/><circle cx="429.0" cy="795.9" r="7.4"/><circle cx="429.5" cy="795.9" r="7.4"/><circle cx="430.0" cy="796.0" r="7.4"/><circle cx="430.5" cy="796.0" r="7.4"/><circle cx="431.0" cy="796.1" r="7.4"/><circle cx="431.5" cy="796.1" r="7.4"/><circle cx="432.0" cy="796.2" r="7.4"/><circle cx="432.5" cy="796.3" r="7.4"/><circle cx="433.0" cy="796.4" r="7.4"/><circle cx="433.5" cy="796.4" r="7.4"/><circle cx="433.9" cy="796.5" r="7.4"/><circle cx="434.4" cy="796.6" r="7.4"/><circle cx="434.9" cy="796.7" r="7.4"/><circle cx="435.4" cy="796.7" r="7.4"/><circle cx="435.9" cy="796.8" r="7.4"/><circle cx="436.4" cy="796.9" r="7.4"/><circle cx="436.9" cy="797.0" r="7.4"/><circle cx="437.4" cy="797.1" r="7.4"/><circle cx="437.9" cy="797.2" r="7.4"/><circle cx="438.4" cy="797.2" r="7.4"/><circle cx="438.9" cy="797.3" r="7.4"/><circle cx="439.4" cy="797.4" r="7.4"/><circle cx="439.9" cy="797.5" r="7.4"/><circle cx="440.3" cy="797.6" r="7.4"/><circle cx="440.8" cy="797.7" r="7.4"/><circle cx="441.3" cy="797.8" r="7.4"/><circle cx="441.8" cy="797.9" r="7.4"/><circle cx="442.3" cy="798.0" r="7.4"/><circle cx="442.8" cy="798.1" r="7.4"/><circle cx="443.3" cy="798.2" r="7.4"/><circle cx="443.8" cy="798.3" r="7.4"/><circle cx="444.3" cy="798.4" r="7.4"/><circle cx="444.8" cy="798.5" r="7.4"/><circle cx="445.3" cy="798.6" r="7.4"/><circle cx="445.8" cy="798.7" r="7.4"/><circle cx="446.3" cy="798.8" r="7.4"/><circle cx="446.7" cy="798.9" r="7.4"/><circle cx="447.2" cy="798.9" r="7.4"/><circle cx="447.7" cy="799.0" r="7.4"/><circle cx="448.2" cy="799.1" r="7.4"/><circle cx="448.7" cy="799.2" r="7.4"/><circle cx="449.2" cy="799.3" r="7.4"/><circle cx="449.7" cy="799.4" r="7.4"/><circle cx="450.2" cy="799.5" r="7.4"/><circle cx="450.7" cy="799.6" r="7.4"/><circle cx="451.2" cy="799.7" r="7.4"/><circle cx="451.7" cy="799.8" r="7.4"/><circle cx="452.2" cy="799.9" r="7.4"/><circle cx="452.6" cy="800.0" r="7.4"/><circle cx="453.1" cy="800.1" r="7.4"/><circle cx="453.6" cy="800.2" r="7.4"/><circle cx="454.1" cy="800.3" r="7.4"/><circle cx="454.6" cy="800.4" r="7.4"/><circle cx="455.1" cy="800.5" r="7.4"/><circle cx="455.6" cy="800.6" r="7.4"/><circle cx="456.1" cy="800.7" r="7.4"/><circle cx="456.6" cy="800.8" r="7.4"/><circle cx="457.1" cy="800.9" r="7.4"/><circle cx="457.6" cy="801.0" r="7.4"/><circle cx="458.1" cy="801.1" r="7.4"/><circle cx="458.6" cy="801.2" r="7.4"/><circle cx="459.0" cy="801.3" r="7.4"/><circle cx="459.5" cy="801.4" r="7.4"/><circle cx="460.0" cy="801.5" r="7.4"/><circle cx="460.5" cy="801.5" r="7.4"/><circle cx="461.0" cy="801.6" r="7.4"/><circle cx="461.5" cy="801.7" r="7.4"/><circle cx="462.0" cy="801.8" r="7.4"/><circle cx="462.5" cy="801.9" r="7.4"/><circle cx="463.0" cy="802.0" r="7.4"/><circle cx="463.5" cy="802.1" r="7.4"/><circle cx="464.0" cy="802.2" r="7.4"/><circle cx="464.5" cy="802.2" r="7.4"/><circle cx="465.0" cy="802.3" r="7.4"/><circle cx="465.5" cy="802.4" r="7.4"/><circle cx="465.9" cy="802.5" r="7.4"/><circle cx="466.4" cy="802.6" r="7.4"/><circle cx="466.9" cy="802.7" r="7.4"/><circle cx="467.4" cy="802.7" r="7.4"/><circle cx="467.9" cy="802.8" r="7.4"/><circle cx="468.4" cy="802.9" r="7.4"/><circle cx="468.9" cy="803.0" r="7.4"/><circle cx="469.4" cy="803.1" r="7.4"/><circle cx="469.9" cy="803.2" r="7.4"/><circle cx="470.4" cy="803.2" r="7.4"/><circle cx="470.9" cy="803.3" r="7.4"/><circle cx="471.4" cy="803.4" r="7.4"/><circle cx="471.9" cy="803.5" r="7.4"/><circle cx="472.4" cy="803.6" r="7.4"/><circle cx="472.9" cy="803.6" r="7.4"/><circle cx="473.3" cy="803.7" r="7.4"/><circle cx="473.8" cy="803.8" r="7.4"/><circle cx="474.3" cy="803.9" r="7.4"/><circle cx="474.8" cy="804.0" r="7.4"/><circle cx="475.3" cy="804.0" r="7.4"/><circle cx="475.8" cy="804.1" r="7.4"/><circle cx="476.3" cy="804.2" r="7.4"/><circle cx="476.8" cy="804.3" r="7.4"/><circle cx="477.3" cy="804.3" r="7.4"/><circle cx="477.8" cy="804.4" r="7.4"/><circle cx="478.3" cy="804.5" r="7.4"/><circle cx="478.8" cy="804.6" r="7.4"/><circle cx="479.3" cy="804.6" r="7.4"/><circle cx="479.8" cy="804.7" r="7.4"/><circle cx="480.2" cy="804.8" r="7.4"/><circle cx="480.7" cy="804.9" r="7.4"/><circle cx="481.2" cy="804.9" r="7.4"/><circle cx="481.7" cy="805.0" r="7.4"/><circle cx="482.2" cy="805.1" r="7.4"/><circle cx="482.7" cy="805.2" r="7.4"/><circle cx="483.2" cy="805.2" r="7.4"/><circle cx="483.7" cy="805.3" r="7.4"/><circle cx="484.2" cy="805.4" r="7.4"/><circle cx="484.7" cy="805.5" r="7.4"/><circle cx="485.2" cy="805.6" r="7.4"/><circle cx="485.7" cy="805.6" r="7.4"/><circle cx="486.2" cy="805.7" r="7.4"/><circle cx="486.7" cy="805.8" r="7.4"/><circle cx="487.2" cy="805.9" r="7.4"/><circle cx="487.6" cy="805.9" r="7.4"/><circle cx="488.1" cy="806.0" r="7.4"/><circle cx="488.6" cy="806.1" r="7.4"/><circle cx="489.1" cy="806.2" r="7.4"/><circle cx="489.6" cy="806.3" r="7.4"/><circle cx="490.1" cy="806.3" r="7.4"/><circle cx="490.6" cy="806.4" r="7.4"/><circle cx="491.1" cy="806.5" r="7.4"/><circle cx="491.6" cy="806.6" r="7.4"/><circle cx="492.1" cy="806.7" r="7.4"/><circle cx="492.6" cy="806.8" r="7.4"/><circle cx="493.1" cy="806.8" r="7.4"/><circle cx="493.6" cy="806.9" r="7.4"/><circle cx="494.1" cy="807.0" r="7.4"/><circle cx="494.5" cy="807.1" r="7.4"/><circle cx="495.0" cy="807.2" r="7.4"/><circle cx="495.5" cy="807.3" r="7.4"/><circle cx="496.0" cy="807.3" r="7.4"/><circle cx="496.5" cy="807.4" r="7.4"/><circle cx="497.0" cy="807.5" r="7.4"/><circle cx="497.5" cy="807.6" r="7.4"/><circle cx="498.0" cy="807.7" r="7.4"/><circle cx="498.5" cy="807.7" r="7.4"/><circle cx="499.0" cy="807.8" r="7.4"/><circle cx="499.5" cy="807.9" r="7.4"/><circle cx="500.0" cy="808.0" r="7.4"/><circle cx="500.5" cy="808.1" r="7.4"/><circle cx="500.9" cy="808.2" r="7.4"/><circle cx="501.4" cy="808.3" r="7.4"/><circle cx="501.9" cy="808.4" r="7.4"/><circle cx="502.4" cy="808.5" r="7.4"/><circle cx="502.9" cy="808.6" r="7.4"/><circle cx="503.4" cy="808.7" r="7.4"/><circle cx="503.9" cy="808.8" r="7.4"/><circle cx="504.4" cy="808.9" r="7.4"/><circle cx="504.8" cy="809.0" r="7.4"/><circle cx="505.3" cy="809.1" r="7.4"/><circle cx="505.8" cy="809.2" r="7.4"/><circle cx="506.3" cy="809.3" r="7.4"/><circle cx="506.8" cy="809.4" r="7.4"/><circle cx="507.3" cy="809.5" r="7.4"/><circle cx="507.8" cy="809.5" r="7.4"/><circle cx="508.3" cy="809.6" r="7.4"/><circle cx="508.7" cy="809.7" r="7.4"/><circle cx="509.2" cy="809.8" r="7.4"/><circle cx="509.7" cy="809.9" r="7.4"/><circle cx="510.2" cy="810.0" r="7.4"/><circle cx="510.7" cy="810.0" r="7.4"/><circle cx="511.2" cy="810.1" r="7.4"/><circle cx="511.7" cy="810.2" r="7.4"/><circle cx="512.1" cy="810.2" r="7.4"/><circle cx="512.6" cy="810.3" r="7.4"/><circle cx="513.1" cy="810.4" r="7.4"/><circle cx="513.6" cy="810.5" r="7.4"/><circle cx="514.1" cy="810.5" r="7.4"/><circle cx="514.6" cy="810.6" r="7.4"/><circle cx="515.1" cy="810.7" r="7.4"/><circle cx="515.6" cy="810.8" r="7.4"/><circle cx="516.0" cy="810.8" r="7.4"/><circle cx="516.5" cy="810.9" r="7.4"/><circle cx="517.0" cy="811.0" r="7.4"/><circle cx="517.5" cy="811.1" r="7.4"/><circle cx="518.0" cy="811.2" r="7.4"/><circle cx="518.5" cy="811.3" r="7.4"/><circle cx="519.0" cy="811.5" r="7.4"/><circle cx="519.5" cy="811.6" r="7.4"/><circle cx="519.9" cy="811.7" r="7.4"/><circle cx="520.4" cy="811.8" r="7.4"/><circle cx="520.9" cy="812.0" r="7.4"/><circle cx="521.4" cy="812.1" r="7.4"/><circle cx="521.9" cy="812.3" r="7.4"/><circle cx="522.4" cy="812.4" r="7.4"/><circle cx="522.9" cy="812.6" r="7.4"/><circle cx="523.3" cy="812.7" r="7.4"/><circle cx="523.8" cy="812.9" r="7.4"/><circle cx="524.3" cy="813.0" r="7.4"/><circle cx="524.8" cy="813.2" r="7.4"/><circle cx="525.3" cy="813.4" r="7.4"/><circle cx="525.8" cy="813.5" r="7.4"/><circle cx="526.3" cy="813.6" r="7.4"/><circle cx="526.8" cy="813.8" r="7.4"/><circle cx="527.2" cy="813.9" r="7.4"/><circle cx="527.7" cy="814.1" r="7.4"/><circle cx="528.2" cy="814.2" r="7.4"/><circle cx="528.7" cy="814.3" r="7.4"/><circle cx="529.2" cy="814.5" r="7.4"/><circle cx="529.7" cy="814.6" r="7.4"/><circle cx="530.2" cy="814.7" r="7.4"/><circle cx="530.7" cy="814.9" r="7.4"/><circle cx="531.1" cy="815.0" r="7.4"/><circle cx="531.6" cy="815.1" r="7.4"/><circle cx="532.1" cy="815.2" r="7.4"/><circle cx="532.6" cy="815.3" r="7.4"/><circle cx="533.1" cy="815.5" r="7.4"/><circle cx="533.6" cy="815.6" r="7.4"/><circle cx="534.1" cy="815.7" r="7.4"/><circle cx="534.6" cy="815.8" r="7.4"/><circle cx="535.0" cy="815.9" r="7.4"/><circle cx="535.5" cy="816.0" r="7.4"/><circle cx="536.0" cy="816.1" r="7.4"/><circle cx="536.5" cy="816.3" r="7.4"/><circle cx="537.0" cy="816.4" r="7.4"/><circle cx="537.5" cy="816.5" r="7.4"/><circle cx="538.0" cy="816.6" r="7.4"/><circle cx="538.4" cy="816.7" r="7.4"/><circle cx="538.9" cy="816.8" r="7.4"/><circle cx="539.4" cy="816.9" r="7.4"/><circle cx="539.9" cy="817.0" r="7.4"/><circle cx="540.4" cy="817.1" r="7.4"/><circle cx="540.9" cy="817.2" r="7.4"/><circle cx="541.4" cy="817.3" r="7.4"/><circle cx="541.9" cy="817.4" r="7.4"/><circle cx="542.4" cy="817.5" r="7.4"/><circle cx="542.8" cy="817.6" r="7.4"/><circle cx="543.3" cy="817.7" r="7.4"/><circle cx="543.8" cy="817.9" r="7.4"/><circle cx="544.3" cy="818.0" r="7.4"/><circle cx="544.8" cy="818.1" r="7.4"/><circle cx="545.3" cy="818.2" r="7.4"/><circle cx="545.8" cy="818.3" r="7.4"/><circle cx="546.3" cy="818.4" r="7.4"/><circle cx="546.8" cy="818.5" r="7.4"/><circle cx="547.3" cy="818.6" r="7.4"/><circle cx="547.7" cy="818.7" r="7.4"/><circle cx="548.2" cy="818.8" r="7.4"/><circle cx="548.7" cy="818.9" r="7.4"/><circle cx="549.2" cy="819.0" r="7.4"/><circle cx="549.7" cy="819.1" r="7.4"/><circle cx="550.2" cy="819.2" r="7.4"/><circle cx="550.7" cy="819.3" r="7.4"/><circle cx="551.2" cy="819.4" r="7.4"/><circle cx="551.7" cy="819.5" r="7.4"/><circle cx="552.1" cy="819.6" r="7.4"/><circle cx="552.6" cy="819.8" r="7.4"/><circle cx="553.1" cy="819.9" r="7.4"/><circle cx="553.6" cy="820.0" r="7.4"/><circle cx="554.1" cy="820.1" r="7.4"/><circle cx="554.6" cy="820.2" r="7.4"/><circle cx="555.1" cy="820.3" r="7.4"/><circle cx="555.6" cy="820.4" r="7.4"/><circle cx="556.1" cy="820.5" r="7.4"/><circle cx="556.6" cy="820.6" r="7.4"/><circle cx="557.0" cy="820.7" r="7.4"/><circle cx="557.5" cy="820.8" r="7.4"/><circle cx="558.0" cy="820.9" r="7.4"/><circle cx="558.5" cy="821.0" r="7.4"/><circle cx="559.0" cy="821.1" r="7.4"/><circle cx="559.5" cy="821.2" r="7.4"/><circle cx="560.0" cy="821.3" r="7.4"/><circle cx="560.5" cy="821.4" r="7.4"/><circle cx="561.0" cy="821.5" r="7.4"/><circle cx="561.4" cy="821.6" r="7.4"/><circle cx="561.9" cy="821.7" r="7.4"/><circle cx="562.4" cy="821.8" r="7.4"/><circle cx="562.9" cy="821.9" r="7.4"/><circle cx="563.4" cy="822.0" r="7.4"/><circle cx="563.9" cy="822.1" r="7.4"/><circle cx="564.4" cy="822.2" r="7.4"/><circle cx="564.9" cy="822.3" r="7.4"/><circle cx="565.4" cy="822.4" r="7.4"/><circle cx="565.9" cy="822.5" r="7.4"/><circle cx="566.3" cy="822.6" r="7.4"/><circle cx="566.8" cy="822.7" r="7.4"/><circle cx="567.3" cy="822.8" r="7.4"/><circle cx="567.8" cy="822.9" r="7.4"/><circle cx="568.3" cy="823.1" r="7.4"/><circle cx="568.8" cy="823.2" r="7.4"/><circle cx="569.3" cy="823.3" r="7.4"/><circle cx="569.8" cy="823.4" r="7.4"/><circle cx="570.3" cy="823.5" r="7.4"/><circle cx="570.8" cy="823.6" r="7.4"/><circle cx="571.2" cy="823.7" r="7.4"/><circle cx="571.7" cy="823.8" r="7.4"/><circle cx="572.2" cy="823.9" r="7.4"/><circle cx="572.7" cy="824.0" r="7.4"/><circle cx="573.2" cy="824.1" r="7.4"/><circle cx="573.7" cy="824.2" r="7.4"/><circle cx="574.2" cy="824.3" r="7.4"/><circle cx="574.7" cy="824.4" r="7.4"/><circle cx="575.2" cy="824.5" r="7.4"/><circle cx="575.6" cy="824.6" r="7.4"/><circle cx="576.1" cy="824.7" r="7.4"/><circle cx="576.6" cy="824.8" r="7.4"/><circle cx="577.1" cy="824.9" r="7.4"/><circle cx="577.6" cy="825.0" r="7.4"/><circle cx="578.1" cy="825.2" r="7.4"/><circle cx="578.6" cy="825.3" r="7.4"/><circle cx="579.1" cy="825.4" r="7.4"/><circle cx="579.6" cy="825.5" r="7.4"/><circle cx="580.1" cy="825.6" r="7.4"/><circle cx="580.5" cy="825.7" r="7.4"/><circle cx="581.0" cy="825.8" r="7.4"/><circle cx="581.5" cy="826.0" r="7.4"/><circle cx="582.0" cy="826.1" r="7.4"/><circle cx="582.5" cy="826.2" r="7.4"/><circle cx="583.0" cy="826.3" r="7.4"/><circle cx="583.5" cy="826.4" r="7.4"/><circle cx="583.9" cy="826.6" r="7.4"/><circle cx="584.4" cy="826.7" r="7.4"/><circle cx="584.9" cy="826.8" r="7.4"/><circle cx="585.4" cy="826.9" r="7.4"/><circle cx="585.9" cy="827.1" r="7.4"/><circle cx="586.4" cy="827.2" r="7.4"/><circle cx="586.9" cy="827.3" r="7.4"/><circle cx="587.4" cy="827.4" r="7.4"/><circle cx="587.8" cy="827.5" r="7.4"/><circle cx="588.3" cy="827.7" r="7.4"/><circle cx="588.8" cy="827.8" r="7.4"/><circle cx="589.3" cy="827.9" r="7.4"/><circle cx="589.8" cy="828.0" r="7.4"/><circle cx="590.3" cy="828.2" r="7.4"/><circle cx="590.8" cy="828.3" r="7.4"/><circle cx="591.2" cy="828.4" r="7.4"/><circle cx="591.7" cy="828.5" r="7.4"/><circle cx="592.2" cy="828.7" r="7.4"/><circle cx="592.7" cy="828.8" r="7.4"/><circle cx="593.2" cy="828.9" r="7.4"/><circle cx="593.7" cy="829.0" r="7.4"/><circle cx="594.2" cy="829.2" r="7.4"/><circle cx="594.7" cy="829.3" r="7.4"/><circle cx="595.1" cy="829.4" r="7.4"/><circle cx="595.6" cy="829.5" r="7.4"/><circle cx="596.1" cy="829.6" r="7.4"/><circle cx="596.6" cy="829.8" r="7.4"/><circle cx="597.1" cy="829.9" r="7.4"/><circle cx="597.6" cy="830.0" r="7.4"/><circle cx="598.1" cy="830.1" r="7.4"/><circle cx="598.5" cy="830.3" r="7.4"/><circle cx="599.0" cy="830.4" r="7.4"/><circle cx="599.5" cy="830.5" r="7.4"/><circle cx="600.0" cy="830.6" r="7.4"/><circle cx="600.5" cy="830.8" r="7.4"/><circle cx="601.0" cy="831.0" r="7.4"/><circle cx="601.4" cy="831.1" r="7.4"/><circle cx="601.9" cy="831.3" r="7.4"/><circle cx="602.4" cy="831.4" r="7.4"/><circle cx="602.9" cy="831.6" r="7.4"/><circle cx="603.3" cy="831.8" r="7.4"/><circle cx="603.8" cy="831.9" r="7.4"/><circle cx="604.3" cy="832.1" r="7.4"/><circle cx="604.8" cy="832.3" r="7.4"/><circle cx="605.2" cy="832.4" r="7.4"/><circle cx="605.7" cy="832.6" r="7.4"/><circle cx="606.2" cy="832.7" r="7.4"/><circle cx="606.7" cy="832.9" r="7.4"/><circle cx="607.1" cy="833.1" r="7.4"/><circle cx="607.6" cy="833.2" r="7.4"/><circle cx="608.1" cy="833.4" r="7.4"/><circle cx="608.6" cy="833.5" r="7.4"/><circle cx="609.0" cy="833.7" r="7.4"/><circle cx="609.5" cy="833.8" r="7.4"/><circle cx="610.0" cy="834.0" r="7.4"/><circle cx="610.5" cy="834.2" r="7.4"/><circle cx="610.9" cy="834.3" r="7.4"/><circle cx="611.4" cy="834.5" r="7.4"/><circle cx="611.9" cy="834.6" r="7.4"/><circle cx="612.4" cy="834.8" r="7.4"/><circle cx="612.8" cy="834.9" r="7.4"/><circle cx="613.3" cy="835.1" r="7.4"/><circle cx="613.8" cy="835.3" r="7.4"/><circle cx="614.3" cy="835.4" r="7.4"/><circle cx="614.7" cy="835.6" r="7.4"/><circle cx="615.2" cy="835.7" r="7.4"/><circle cx="615.7" cy="835.9" r="7.4"/><circle cx="616.2" cy="836.1" r="7.4"/><circle cx="616.7" cy="836.2" r="7.4"/><circle cx="617.1" cy="836.4" r="7.4"/><circle cx="617.6" cy="836.5" r="7.4"/><circle cx="618.1" cy="836.7" r="7.4"/><circle cx="618.6" cy="836.9" r="7.4"/><circle cx="619.0" cy="837.0" r="7.4"/><circle cx="619.5" cy="837.2" r="7.4"/><circle cx="620.0" cy="837.4" r="7.4"/><circle cx="620.4" cy="837.6" r="7.4"/><circle cx="620.9" cy="837.8" r="7.4"/><circle cx="621.3" cy="838.0" r="7.4"/><circle cx="621.8" cy="838.3" r="7.4"/><circle cx="622.2" cy="838.5" r="7.4"/><circle cx="622.7" cy="838.7" r="7.4"/><circle cx="623.1" cy="839.0" r="7.4"/><circle cx="623.6" cy="839.2" r="7.4"/><circle cx="624.0" cy="839.4" r="7.4"/><circle cx="624.5" cy="839.7" r="7.4"/><circle cx="624.9" cy="839.9" r="7.4"/><circle cx="625.4" cy="840.1" r="7.4"/><circle cx="625.9" cy="840.3" r="7.4"/><circle cx="626.3" cy="840.5" r="7.4"/><circle cx="626.8" cy="840.7" r="7.4"/><circle cx="627.2" cy="841.0" r="7.4"/><circle cx="627.7" cy="841.2" r="7.4"/><circle cx="628.1" cy="841.4" r="7.4"/><circle cx="628.6" cy="841.6" r="7.4"/><circle cx="629.0" cy="841.8" r="7.4"/><circle cx="629.5" cy="841.9" r="7.4"/><circle cx="629.9" cy="842.1" r="7.4"/><circle cx="630.4" cy="842.3" r="7.4"/><circle cx="630.8" cy="842.5" r="7.4"/><circle cx="631.3" cy="842.7" r="7.4"/><circle cx="631.7" cy="842.9" r="7.4"/><circle cx="632.2" cy="843.1" r="7.4"/><circle cx="632.6" cy="843.3" r="7.4"/><circle cx="633.1" cy="843.4" r="7.4"/><circle cx="633.5" cy="843.6" r="7.4"/><circle cx="634.0" cy="843.8" r="7.4"/><circle cx="634.4" cy="844.0" r="7.4"/><circle cx="634.9" cy="844.2" r="7.4"/><circle cx="635.3" cy="844.4" r="7.4"/><circle cx="635.8" cy="844.5" r="7.4"/><circle cx="636.2" cy="844.7" r="7.4"/><circle cx="636.7" cy="844.9" r="7.4"/><circle cx="637.1" cy="845.1" r="7.4"/><circle cx="637.6" cy="845.3" r="7.4"/><circle cx="638.0" cy="845.5" r="7.4"/><circle cx="638.5" cy="845.7" r="7.4"/><circle cx="638.9" cy="845.9" r="7.4"/><circle cx="639.4" cy="846.1" r="7.4"/><circle cx="639.9" cy="846.3" r="7.4"/><circle cx="640.3" cy="846.5" r="7.4"/><circle cx="640.7" cy="846.7" r="7.4"/><circle cx="641.2" cy="846.9" r="7.4"/><circle cx="641.6" cy="847.2" r="7.4"/><circle cx="642.1" cy="847.4" r="7.4"/><circle cx="642.5" cy="847.6" r="7.4"/><circle cx="643.0" cy="847.8" r="7.4"/><circle cx="643.4" cy="848.1" r="7.4"/><circle cx="643.9" cy="848.3" r="7.4"/><circle cx="644.3" cy="848.5" r="7.4"/><circle cx="644.7" cy="848.8" r="7.4"/><circle cx="645.2" cy="849.0" r="7.4"/><circle cx="645.6" cy="849.2" r="7.4"/><circle cx="646.1" cy="849.4" r="7.4"/><circle cx="646.5" cy="849.7" r="7.4"/><circle cx="647.0" cy="849.9" r="7.4"/><circle cx="647.4" cy="850.1" r="7.4"/><circle cx="647.9" cy="850.4" r="7.4"/><circle cx="648.3" cy="850.6" r="7.4"/><circle cx="648.7" cy="850.8" r="7.4"/><circle cx="649.2" cy="851.0" r="7.4"/><circle cx="649.6" cy="851.3" r="7.4"/><circle cx="650.1" cy="851.5" r="7.4"/><circle cx="650.5" cy="851.7" r="7.4"/><circle cx="651.0" cy="852.0" r="7.4"/><circle cx="651.4" cy="852.2" r="7.4"/><circle cx="651.8" cy="852.4" r="7.4"/><circle cx="652.3" cy="852.7" r="7.4"/><circle cx="652.7" cy="853.0" r="7.4"/><circle cx="653.1" cy="853.3" r="7.4"/><circle cx="653.5" cy="853.6" r="7.4"/><circle cx="653.9" cy="853.9" r="7.4"/><circle cx="654.3" cy="854.2" r="7.4"/><circle cx="654.7" cy="854.5" r="7.4"/><circle cx="655.1" cy="854.8" r="7.4"/><circle cx="655.5" cy="855.1" r="7.4"/><circle cx="655.9" cy="855.4" r="7.4"/><circle cx="656.3" cy="855.7" r="7.4"/><circle cx="656.7" cy="856.0" r="7.4"/><circle cx="657.1" cy="856.3" r="7.4"/><circle cx="657.5" cy="856.6" r="7.4"/><circle cx="657.9" cy="856.9" r="7.4"/><circle cx="658.3" cy="857.2" r="7.4"/><circle cx="658.7" cy="857.5" r="7.4"/><circle cx="659.1" cy="857.8" r="7.4"/><circle cx="659.5" cy="858.1" r="7.4"/><circle cx="659.9" cy="858.4" r="7.4"/><circle cx="660.2" cy="858.8" r="7.4"/><circle cx="660.5" cy="859.1" r="7.4"/><circle cx="660.9" cy="859.5" r="7.4"/><circle cx="661.2" cy="859.9" r="7.4"/><circle cx="661.5" cy="860.3" r="7.4"/><circle cx="661.8" cy="860.7" r="7.4"/><circle cx="662.2" cy="861.0" r="7.4"/><circle cx="662.5" cy="861.4" r="7.4"/><circle cx="662.8" cy="861.8" r="7.4"/><circle cx="663.1" cy="862.2" r="7.4"/><circle cx="663.4" cy="862.6" r="7.4"/><circle cx="663.8" cy="863.0" r="7.4"/><circle cx="664.1" cy="863.3" r="7.4"/><circle cx="664.4" cy="863.7" r="7.4"/><circle cx="664.7" cy="864.1" r="7.4"/><circle cx="665.1" cy="864.5" r="7.4"/><circle cx="665.4" cy="864.9" r="7.4"/><circle cx="665.6" cy="865.3" r="7.4"/><circle cx="665.9" cy="865.7" r="7.4"/><circle cx="666.1" cy="866.2" r="7.4"/><circle cx="666.3" cy="866.6" r="7.4"/><circle cx="666.5" cy="867.1" r="7.4"/><circle cx="666.8" cy="867.5" r="7.4"/><circle cx="667.0" cy="868.0" r="7.4"/><circle cx="667.2" cy="868.4" r="7.4"/><circle cx="667.4" cy="868.9" r="7.4"/><circle cx="667.7" cy="869.3" r="7.4"/><circle cx="667.9" cy="869.8" r="7.4"/><circle cx="668.1" cy="870.2" r="7.4"/><circle cx="668.3" cy="870.6" r="7.4"/><circle cx="668.5" cy="871.1" r="7.4"/><circle cx="668.8" cy="871.5" r="7.4"/><circle cx="669.0" cy="872.0" r="7.4"/><circle cx="669.1" cy="872.5" r="7.4"/><circle cx="669.3" cy="872.9" r="7.4"/><circle cx="669.4" cy="873.4" r="7.4"/><circle cx="669.6" cy="873.9" r="7.4"/><circle cx="669.7" cy="874.4" r="7.4"/><circle cx="669.9" cy="874.9" r="7.4"/><circle cx="670.0" cy="875.3" r="7.4"/><circle cx="670.2" cy="875.8" r="7.4"/><circle cx="670.3" cy="876.3" r="7.4"/><circle cx="670.5" cy="876.8" r="7.4"/><circle cx="670.6" cy="877.2" r="7.4"/><circle cx="670.8" cy="877.7" r="7.4"/><circle cx="670.9" cy="878.2" r="7.4"/><circle cx="671.1" cy="878.7" r="7.4"/><circle cx="671.2" cy="879.1" r="7.4"/><circle cx="671.4" cy="879.6" r="7.4"/><circle cx="671.5" cy="880.1" r="7.4"/><circle cx="671.6" cy="880.6" r="7.4"/><circle cx="671.7" cy="881.1" r="7.4"/><circle cx="671.7" cy="881.6" r="7.4"/><circle cx="671.8" cy="882.1" r="7.4"/><circle cx="671.9" cy="882.6" r="7.4"/><circle cx="672.0" cy="883.1" r="7.4"/><circle cx="672.0" cy="883.6" r="7.4"/><circle cx="672.1" cy="884.1" r="7.4"/><circle cx="672.2" cy="884.6" r="7.4"/><circle cx="672.3" cy="885.1" r="7.4"/><circle cx="672.3" cy="885.5" r="7.4"/><circle cx="672.4" cy="886.0" r="7.4"/><circle cx="672.5" cy="886.5" r="7.4"/><circle cx="672.6" cy="887.0" r="7.4"/><circle cx="672.6" cy="887.5" r="7.4"/><circle cx="672.7" cy="888.0" r="7.4"/><circle cx="672.8" cy="888.5" r="7.4"/><circle cx="672.9" cy="889.0" r="7.4"/><circle cx="672.9" cy="889.5" r="7.4"/><circle cx="673.0" cy="890.0" r="7.4"/><circle cx="673.0" cy="890.5" r="7.4"/><circle cx="673.1" cy="891.0" r="7.4"/><circle cx="673.1" cy="891.5" r="7.4"/><circle cx="673.2" cy="892.0" r="7.4"/><circle cx="673.2" cy="892.5" r="7.4"/><circle cx="673.2" cy="893.0" r="7.4"/><circle cx="673.3" cy="893.5" r="7.4"/><circle cx="673.3" cy="894.0" r="7.4"/><circle cx="673.4" cy="894.5" r="7.4"/><circle cx="673.4" cy="895.0" r="7.4"/><circle cx="673.4" cy="895.5" r="7.4"/><circle cx="673.5" cy="896.0" r="7.4"/><circle cx="673.5" cy="896.5" r="7.4"/><circle cx="673.6" cy="897.0" r="7.4"/><circle cx="673.6" cy="897.5" r="7.4"/><circle cx="673.6" cy="898.0" r="7.4"/><circle cx="673.7" cy="898.5" r="7.4"/><circle cx="673.7" cy="899.0" r="7.4"/><circle cx="673.8" cy="899.5" r="7.4"/><circle cx="673.8" cy="900.0" r="7.4"/><circle cx="673.8" cy="900.5" r="7.4"/><circle cx="673.8" cy="901.0" r="7.4"/><circle cx="673.8" cy="901.5" r="7.4"/><circle cx="673.9" cy="902.0" r="7.4"/><circle cx="673.9" cy="902.5" r="7.4"/><circle cx="673.9" cy="903.0" r="7.4"/><circle cx="673.9" cy="903.5" r="7.4"/><circle cx="673.9" cy="904.0" r="7.4"/><circle cx="673.9" cy="904.5" r="7.4"/><circle cx="673.9" cy="905.0" r="7.4"/><circle cx="673.9" cy="905.5" r="7.4"/><circle cx="674.0" cy="906.0" r="7.4"/><circle cx="674.0" cy="906.5" r="7.4"/><circle cx="674.0" cy="907.0" r="7.4"/><circle cx="674.0" cy="907.5" r="7.4"/><circle cx="674.0" cy="908.0" r="7.4"/><circle cx="674.0" cy="908.5" r="7.4"/><circle cx="674.0" cy="909.0" r="7.4"/><circle cx="674.1" cy="909.5" r="7.4"/><circle cx="674.1" cy="910.0" r="7.4"/><circle cx="674.1" cy="910.5" r="7.4"/><circle cx="674.1" cy="911.0" r="7.4"/><circle cx="674.1" cy="911.5" r="7.4"/><circle cx="674.1" cy="912.0" r="7.4"/><circle cx="674.1" cy="912.5" r="7.4"/><circle cx="674.1" cy="913.0" r="7.4"/><circle cx="674.2" cy="913.5" r="7.4"/><circle cx="674.2" cy="914.0" r="7.4"/><circle cx="674.2" cy="914.5" r="7.4"/><circle cx="674.2" cy="915.0" r="7.4"/><circle cx="674.2" cy="915.5" r="7.4"/><circle cx="674.3" cy="916.0" r="7.4"/><circle cx="674.3" cy="916.5" r="7.4"/><circle cx="674.3" cy="917.0" r="7.4"/><circle cx="674.4" cy="917.5" r="7.4"/><circle cx="674.4" cy="918.0" r="7.4"/><circle cx="674.4" cy="918.5" r="7.4"/><circle cx="674.5" cy="918.9" r="7.4"/><circle cx="674.5" cy="919.4" r="7.4"/><circle cx="674.5" cy="919.9" r="7.4"/><circle cx="674.6" cy="920.4" r="7.4"/><circle cx="674.6" cy="920.9" r="7.4"/><circle cx="674.6" cy="921.4" r="7.4"/><circle cx="674.7" cy="921.9" r="7.4"/><circle cx="674.7" cy="922.4" r="7.4"/><circle cx="674.7" cy="922.9" r="7.4"/><circle cx="674.8" cy="923.4" r="7.4"/><circle cx="674.8" cy="923.9" r="7.4"/><circle cx="674.8" cy="924.4" r="7.4"/><circle cx="674.9" cy="924.9" r="7.4"/><circle cx="674.9" cy="925.4" r="7.4"/><circle cx="674.9" cy="925.9" r="7.4"/><circle cx="675.0" cy="926.4" r="7.4"/><circle cx="675.0" cy="926.9" r="7.4"/><circle cx="675.0" cy="927.4" r="7.4"/><circle cx="675.1" cy="927.9" r="7.4"/><circle cx="675.1" cy="928.4" r="7.4"/><circle cx="675.1" cy="928.9" r="7.4"/><circle cx="675.2" cy="929.4" r="7.4"/><circle cx="675.2" cy="929.8" r="7.4"/><circle cx="675.5" cy="947.5" r="7.4"/><circle cx="673.9" cy="958.0" r="7.4"/><circle cx="673.9" cy="958.5" r="7.4"/><circle cx="673.9" cy="959.0" r="7.4"/><circle cx="673.9" cy="959.5" r="7.4"/><circle cx="673.9" cy="960.0" r="7.4"/><circle cx="673.9" cy="960.5" r="7.4"/><circle cx="673.9" cy="961.0" r="7.4"/><circle cx="673.9" cy="961.5" r="7.4"/><circle cx="673.9" cy="962.0" r="7.4"/><circle cx="674.0" cy="962.5" r="7.4"/><circle cx="674.0" cy="963.0" r="7.4"/><circle cx="674.0" cy="963.5" r="7.4"/><circle cx="674.0" cy="964.0" r="7.4"/><circle cx="674.0" cy="964.5" r="7.4"/><circle cx="674.0" cy="965.0" r="7.4"/><circle cx="674.0" cy="965.5" r="7.4"/><circle cx="674.0" cy="966.0" r="7.4"/><circle cx="674.0" cy="966.5" r="7.4"/><circle cx="674.0" cy="967.0" r="7.4"/><circle cx="674.0" cy="967.5" r="7.4"/><circle cx="674.0" cy="968.0" r="7.4"/><circle cx="674.0" cy="968.5" r="7.4"/><circle cx="674.0" cy="969.0" r="7.4"/><circle cx="674.0" cy="969.5" r="7.4"/><circle cx="674.0" cy="970.0" r="7.4"/><circle cx="674.0" cy="970.5" r="7.4"/><circle cx="674.1" cy="971.0" r="7.4"/><circle cx="674.1" cy="971.5" r="7.4"/><circle cx="674.1" cy="972.0" r="7.4"/><circle cx="674.1" cy="972.5" r="7.4"/><circle cx="674.1" cy="973.0" r="7.4"/><circle cx="674.1" cy="973.5" r="7.4"/><circle cx="674.1" cy="974.0" r="7.4"/><circle cx="674.1" cy="974.5" r="7.4"/><circle cx="674.1" cy="975.0" r="7.4"/><circle cx="674.1" cy="975.5" r="7.4"/><circle cx="674.1" cy="976.0" r="7.4"/><circle cx="674.1" cy="976.5" r="7.4"/><circle cx="674.1" cy="977.0" r="7.4"/><circle cx="674.1" cy="977.5" r="7.4"/><circle cx="674.1" cy="978.0" r="7.4"/><circle cx="674.1" cy="978.5" r="7.4"/><circle cx="674.2" cy="979.0" r="7.4"/><circle cx="674.2" cy="979.5" r="7.4"/><circle cx="674.2" cy="980.0" r="7.4"/><circle cx="674.2" cy="980.5" r="7.4"/><circle cx="674.2" cy="981.0" r="7.4"/><circle cx="674.2" cy="981.5" r="7.4"/><circle cx="674.2" cy="982.0" r="7.4"/><circle cx="674.2" cy="982.5" r="7.4"/><circle cx="674.2" cy="983.0" r="7.4"/><circle cx="674.2" cy="983.5" r="7.4"/><circle cx="674.2" cy="984.0" r="7.4"/><circle cx="674.2" cy="984.5" r="7.4"/><circle cx="674.2" cy="985.0" r="7.4"/><circle cx="674.2" cy="985.5" r="7.4"/><circle cx="674.2" cy="986.0" r="7.4"/><circle cx="674.3" cy="986.5" r="7.4"/><circle cx="674.3" cy="987.0" r="7.4"/><circle cx="674.3" cy="987.5" r="7.4"/><circle cx="674.3" cy="988.0" r="7.4"/><circle cx="674.3" cy="988.5" r="7.4"/><circle cx="674.3" cy="989.0" r="7.4"/><circle cx="674.3" cy="989.5" r="7.4"/><circle cx="674.3" cy="990.0" r="7.4"/><circle cx="674.4" cy="990.5" r="7.4"/><circle cx="674.4" cy="991.0" r="7.4"/><circle cx="674.5" cy="991.5" r="7.4"/><circle cx="674.5" cy="992.0" r="7.4"/><circle cx="674.6" cy="992.5" r="7.4"/><circle cx="674.7" cy="993.0" r="7.4"/><circle cx="674.7" cy="993.5" r="7.4"/><circle cx="674.8" cy="994.0" r="7.4"/><circle cx="674.8" cy="994.5" r="7.4"/><circle cx="674.9" cy="995.0" r="7.4"/><circle cx="675.0" cy="995.5" r="7.4"/><circle cx="675.0" cy="996.0" r="7.4"/><circle cx="675.1" cy="996.4" r="7.4"/><circle cx="675.1" cy="996.9" r="7.4"/><circle cx="675.2" cy="997.4" r="7.4"/><circle cx="675.3" cy="997.9" r="7.4"/><circle cx="675.3" cy="998.4" r="7.4"/><circle cx="675.4" cy="998.9" r="7.4"/><circle cx="675.6" cy="999.4" r="7.4"/><circle cx="675.8" cy="999.8" r="7.4"/><circle cx="676.0" cy="1000.3" r="7.4"/><circle cx="676.2" cy="1000.7" r="7.4"/><circle cx="676.4" cy="1001.2" r="7.4"/><circle cx="676.6" cy="1001.7" r="7.4"/><circle cx="676.9" cy="1002.1" r="7.4"/><circle cx="677.1" cy="1002.6" r="7.4"/><circle cx="677.3" cy="1003.0" r="7.4"/><circle cx="677.5" cy="1003.5" r="7.4"/><circle cx="677.7" cy="1003.9" r="7.4"/><circle cx="677.9" cy="1004.4" r="7.4"/><circle cx="678.1" cy="1004.8" r="7.4"/><circle cx="678.4" cy="1005.2" r="7.4"/><circle cx="678.8" cy="1005.6" r="7.4"/><circle cx="679.1" cy="1005.9" r="7.4"/><circle cx="679.5" cy="1006.3" r="7.4"/><circle cx="679.8" cy="1006.6" r="7.4"/><circle cx="680.2" cy="1007.0" r="7.4"/><circle cx="680.5" cy="1007.3" r="7.4"/><circle cx="680.9" cy="1007.7" r="7.4"/><circle cx="681.2" cy="1008.0" r="7.4"/><circle cx="681.6" cy="1008.4" r="7.4"/><circle cx="681.8" cy="1008.6" r="7.4"/></g>
<g fill="url(#gG)"><circle cx="109.2" cy="669.4" r="7.4"/><circle cx="109.2" cy="671.9" r="7.4"/><circle cx="109.2" cy="674.3" r="7.4"/><circle cx="109.2" cy="676.5" r="7.4"/><circle cx="109.2" cy="678.7" r="7.4"/><circle cx="109.2" cy="680.7" r="7.4"/><circle cx="109.3" cy="682.6" r="7.4"/><circle cx="109.3" cy="684.5" r="7.4"/><circle cx="109.4" cy="686.2" r="7.4"/><circle cx="109.4" cy="687.9" r="7.4"/><circle cx="109.5" cy="689.5" r="7.4"/><circle cx="109.6" cy="690.9" r="7.4"/><circle cx="109.8" cy="692.4" r="7.4"/><circle cx="110.0" cy="693.7" r="7.4"/><circle cx="110.1" cy="695.0" r="7.4"/><circle cx="110.3" cy="696.2" r="7.4"/><circle cx="110.4" cy="697.3" r="7.4"/><circle cx="110.6" cy="698.4" r="7.4"/><circle cx="110.9" cy="699.4" r="7.4"/><circle cx="111.2" cy="700.4" r="7.4"/><circle cx="111.4" cy="701.3" r="7.4"/><circle cx="111.7" cy="702.1" r="7.4"/><circle cx="111.9" cy="703.0" r="7.4"/><circle cx="112.1" cy="703.7" r="7.4"/><circle cx="112.3" cy="704.5" r="7.4"/><circle cx="112.6" cy="705.2" r="7.4"/><circle cx="112.9" cy="705.8" r="7.4"/><circle cx="113.3" cy="706.3" r="7.4"/><circle cx="113.6" cy="706.9" r="7.4"/><circle cx="113.9" cy="707.4" r="7.4"/><circle cx="114.2" cy="707.9" r="7.4"/><circle cx="114.4" cy="708.3" r="7.4"/><circle cx="114.7" cy="708.8" r="7.4"/><circle cx="115.0" cy="709.2" r="7.4"/><circle cx="115.2" cy="709.6" r="7.4"/><circle cx="115.5" cy="710.1" r="7.4"/><circle cx="115.7" cy="710.5" r="7.4"/><circle cx="116.0" cy="710.9" r="7.4"/><circle cx="116.3" cy="711.3" r="7.4"/><circle cx="116.7" cy="711.7" r="7.4"/><circle cx="117.0" cy="712.0" r="7.4"/><circle cx="117.4" cy="712.4" r="7.4"/><circle cx="117.7" cy="712.7" r="7.4"/><circle cx="118.1" cy="713.1" r="7.4"/><circle cx="118.4" cy="713.4" r="7.4"/><circle cx="118.8" cy="713.8" r="7.4"/><circle cx="119.1" cy="714.1" r="7.4"/><circle cx="119.5" cy="714.5" r="7.4"/><circle cx="119.8" cy="714.8" r="7.4"/><circle cx="120.2" cy="715.2" r="7.4"/><circle cx="120.5" cy="715.5" r="7.4"/><circle cx="120.9" cy="715.9" r="7.4"/><circle cx="121.3" cy="716.2" r="7.4"/><circle cx="121.7" cy="716.5" r="7.4"/><circle cx="122.1" cy="716.7" r="7.4"/><circle cx="122.6" cy="717.0" r="7.4"/><circle cx="123.0" cy="717.3" r="7.4"/><circle cx="123.4" cy="717.5" r="7.4"/><circle cx="123.8" cy="717.8" r="7.4"/><circle cx="124.2" cy="718.1" r="7.4"/><circle cx="124.7" cy="718.4" r="7.4"/><circle cx="125.1" cy="718.6" r="7.4"/><circle cx="125.5" cy="718.9" r="7.4"/><circle cx="125.9" cy="719.2" r="7.4"/><circle cx="126.3" cy="719.4" r="7.4"/><circle cx="126.8" cy="719.7" r="7.4"/><circle cx="127.2" cy="720.0" r="7.4"/><circle cx="127.6" cy="720.2" r="7.4"/><circle cx="128.0" cy="720.5" r="7.4"/><circle cx="128.5" cy="720.7" r="7.4"/><circle cx="128.9" cy="721.0" r="7.4"/><circle cx="129.4" cy="721.2" r="7.4"/><circle cx="129.8" cy="721.4" r="7.4"/><circle cx="130.3" cy="721.6" r="7.4"/><circle cx="130.7" cy="721.9" r="7.4"/><circle cx="131.2" cy="722.1" r="7.4"/><circle cx="131.6" cy="722.3" r="7.4"/><circle cx="132.1" cy="722.5" r="7.4"/><circle cx="132.5" cy="722.7" r="7.4"/><circle cx="132.9" cy="723.0" r="7.4"/><circle cx="133.4" cy="723.2" r="7.4"/><circle cx="133.8" cy="723.4" r="7.4"/><circle cx="134.3" cy="723.6" r="7.4"/><circle cx="134.7" cy="723.9" r="7.4"/><circle cx="135.2" cy="724.1" r="7.4"/><circle cx="135.6" cy="724.3" r="7.4"/><circle cx="136.1" cy="724.5" r="7.4"/><circle cx="136.5" cy="724.8" r="7.4"/><circle cx="137.0" cy="725.0" r="7.4"/><circle cx="137.4" cy="725.2" r="7.4"/><circle cx="137.9" cy="725.4" r="7.4"/><circle cx="138.3" cy="725.6" r="7.4"/><circle cx="138.8" cy="725.9" r="7.4"/><circle cx="139.2" cy="726.1" r="7.4"/><circle cx="139.7" cy="726.3" r="7.4"/><circle cx="140.1" cy="726.5" r="7.4"/><circle cx="140.6" cy="726.7" r="7.4"/><circle cx="141.0" cy="726.9" r="7.4"/><circle cx="141.5" cy="727.1" r="7.4"/><circle cx="142.0" cy="727.2" r="7.4"/><circle cx="142.4" cy="727.4" r="7.4"/><circle cx="142.9" cy="727.6" r="7.4"/><circle cx="143.4" cy="727.8" r="7.4"/><circle cx="143.8" cy="728.0" r="7.4"/><circle cx="144.3" cy="728.1" r="7.4"/><circle cx="144.7" cy="728.3" r="7.4"/><circle cx="145.2" cy="728.5" r="7.4"/><circle cx="145.7" cy="728.7" r="7.4"/><circle cx="146.1" cy="728.9" r="7.4"/><circle cx="146.6" cy="729.0" r="7.4"/><circle cx="147.1" cy="729.2" r="7.4"/><circle cx="147.5" cy="729.4" r="7.4"/><circle cx="148.0" cy="729.6" r="7.4"/><circle cx="148.5" cy="729.8" r="7.4"/><circle cx="148.9" cy="729.9" r="7.4"/><circle cx="149.4" cy="730.1" r="7.4"/><circle cx="149.9" cy="730.3" r="7.4"/><circle cx="150.3" cy="730.5" r="7.4"/><circle cx="150.8" cy="730.7" r="7.4"/><circle cx="151.2" cy="730.9" r="7.4"/><circle cx="151.7" cy="731.0" r="7.4"/><circle cx="152.2" cy="731.2" r="7.4"/><circle cx="152.6" cy="731.4" r="7.4"/><circle cx="153.1" cy="731.6" r="7.4"/><circle cx="153.6" cy="731.8" r="7.4"/><circle cx="154.0" cy="732.0" r="7.4"/><circle cx="154.5" cy="732.1" r="7.4"/><circle cx="155.0" cy="732.3" r="7.4"/><circle cx="155.4" cy="732.5" r="7.4"/><circle cx="155.9" cy="732.7" r="7.4"/><circle cx="156.4" cy="732.9" r="7.4"/><circle cx="156.8" cy="733.1" r="7.4"/><circle cx="157.3" cy="733.3" r="7.4"/><circle cx="157.7" cy="733.4" r="7.4"/><circle cx="158.2" cy="733.6" r="7.4"/><circle cx="158.7" cy="733.8" r="7.4"/><circle cx="159.1" cy="734.0" r="7.4"/><circle cx="159.6" cy="734.2" r="7.4"/><circle cx="160.1" cy="734.4" r="7.4"/><circle cx="160.5" cy="734.6" r="7.4"/><circle cx="161.0" cy="734.8" r="7.4"/><circle cx="161.5" cy="735.0" r="7.4"/><circle cx="161.9" cy="735.1" r="7.4"/><circle cx="162.4" cy="735.3" r="7.4"/><circle cx="162.9" cy="735.5" r="7.4"/><circle cx="163.3" cy="735.7" r="7.4"/><circle cx="163.8" cy="735.9" r="7.4"/><circle cx="164.2" cy="736.1" r="7.4"/><circle cx="164.7" cy="736.3" r="7.4"/><circle cx="165.2" cy="736.5" r="7.4"/><circle cx="165.6" cy="736.7" r="7.4"/><circle cx="166.1" cy="736.8" r="7.4"/><circle cx="166.6" cy="737.0" r="7.4"/><circle cx="167.0" cy="737.2" r="7.4"/><circle cx="167.5" cy="737.4" r="7.4"/><circle cx="168.0" cy="737.6" r="7.4"/><circle cx="168.4" cy="737.8" r="7.4"/><circle cx="168.9" cy="738.0" r="7.4"/><circle cx="169.4" cy="738.2" r="7.4"/><circle cx="169.8" cy="738.4" r="7.4"/><circle cx="170.3" cy="738.5" r="7.4"/><circle cx="170.8" cy="738.7" r="7.4"/><circle cx="171.3" cy="738.8" r="7.4"/><circle cx="171.7" cy="738.9" r="7.4"/><circle cx="172.2" cy="739.1" r="7.4"/><circle cx="172.7" cy="739.2" r="7.4"/><circle cx="173.2" cy="739.4" r="7.4"/><circle cx="173.7" cy="739.5" r="7.4"/><circle cx="174.1" cy="739.6" r="7.4"/><circle cx="174.6" cy="739.8" r="7.4"/><circle cx="175.1" cy="739.9" r="7.4"/><circle cx="175.6" cy="740.1" r="7.4"/><circle cx="176.1" cy="740.2" r="7.4"/><circle cx="176.5" cy="740.3" r="7.4"/><circle cx="177.0" cy="740.5" r="7.4"/><circle cx="177.5" cy="740.6" r="7.4"/><circle cx="178.0" cy="740.7" r="7.4"/><circle cx="178.5" cy="740.9" r="7.4"/><circle cx="178.9" cy="741.0" r="7.4"/><circle cx="179.4" cy="741.2" r="7.4"/><circle cx="179.9" cy="741.3" r="7.4"/><circle cx="180.4" cy="741.4" r="7.4"/><circle cx="180.9" cy="741.6" r="7.4"/><circle cx="181.4" cy="741.7" r="7.4"/><circle cx="181.8" cy="741.9" r="7.4"/><circle cx="182.3" cy="742.0" r="7.4"/><circle cx="182.8" cy="742.1" r="7.4"/><circle cx="183.3" cy="742.3" r="7.4"/><circle cx="183.8" cy="742.4" r="7.4"/><circle cx="184.2" cy="742.5" r="7.4"/><circle cx="184.7" cy="742.7" r="7.4"/><circle cx="185.2" cy="742.8" r="7.4"/><circle cx="185.7" cy="743.0" r="7.4"/><circle cx="186.2" cy="743.1" r="7.4"/><circle cx="186.6" cy="743.2" r="7.4"/><circle cx="187.1" cy="743.4" r="7.4"/><circle cx="187.6" cy="743.5" r="7.4"/><circle cx="188.1" cy="743.6" r="7.4"/><circle cx="188.6" cy="743.8" r="7.4"/><circle cx="189.1" cy="743.9" r="7.4"/><circle cx="189.5" cy="744.0" r="7.4"/><circle cx="190.0" cy="744.2" r="7.4"/><circle cx="190.5" cy="744.3" r="7.4"/><circle cx="191.0" cy="744.4" r="7.4"/><circle cx="191.5" cy="744.6" r="7.4"/><circle cx="191.9" cy="744.7" r="7.4"/><circle cx="192.4" cy="744.9" r="7.4"/><circle cx="192.9" cy="745.0" r="7.4"/><circle cx="193.4" cy="745.1" r="7.4"/><circle cx="193.9" cy="745.3" r="7.4"/><circle cx="194.3" cy="745.4" r="7.4"/><circle cx="194.8" cy="745.5" r="7.4"/><circle cx="195.3" cy="745.7" r="7.4"/><circle cx="195.8" cy="745.8" r="7.4"/><circle cx="196.3" cy="745.9" r="7.4"/><circle cx="196.7" cy="746.1" r="7.4"/><circle cx="197.2" cy="746.2" r="7.4"/><circle cx="197.7" cy="746.3" r="7.4"/><circle cx="198.2" cy="746.5" r="7.4"/><circle cx="198.7" cy="746.6" r="7.4"/><circle cx="199.2" cy="746.7" r="7.4"/><circle cx="199.6" cy="746.9" r="7.4"/><circle cx="200.1" cy="747.0" r="7.4"/><circle cx="200.6" cy="747.1" r="7.4"/><circle cx="201.1" cy="747.2" r="7.4"/><circle cx="201.6" cy="747.4" r="7.4"/><circle cx="202.0" cy="747.5" r="7.4"/><circle cx="202.5" cy="747.6" r="7.4"/><circle cx="203.0" cy="747.7" r="7.4"/><circle cx="203.5" cy="747.9" r="7.4"/><circle cx="204.0" cy="748.0" r="7.4"/><circle cx="204.5" cy="748.1" r="7.4"/><circle cx="204.9" cy="748.2" r="7.4"/><circle cx="205.4" cy="748.4" r="7.4"/><circle cx="205.9" cy="748.5" r="7.4"/><circle cx="206.4" cy="748.6" r="7.4"/><circle cx="206.9" cy="748.7" r="7.4"/><circle cx="207.4" cy="748.8" r="7.4"/><circle cx="207.8" cy="749.0" r="7.4"/><circle cx="208.3" cy="749.1" r="7.4"/><circle cx="208.8" cy="749.2" r="7.4"/><circle cx="209.3" cy="749.3" r="7.4"/><circle cx="209.8" cy="749.5" r="7.4"/><circle cx="210.3" cy="749.6" r="7.4"/><circle cx="210.7" cy="749.7" r="7.4"/><circle cx="211.2" cy="749.8" r="7.4"/><circle cx="211.7" cy="750.0" r="7.4"/><circle cx="212.2" cy="750.1" r="7.4"/><circle cx="212.7" cy="750.2" r="7.4"/><circle cx="213.2" cy="750.3" r="7.4"/><circle cx="213.6" cy="750.5" r="7.4"/><circle cx="214.1" cy="750.6" r="7.4"/><circle cx="214.6" cy="750.7" r="7.4"/><circle cx="215.1" cy="750.8" r="7.4"/><circle cx="215.6" cy="750.9" r="7.4"/><circle cx="216.1" cy="751.1" r="7.4"/><circle cx="216.5" cy="751.2" r="7.4"/><circle cx="217.0" cy="751.3" r="7.4"/><circle cx="217.5" cy="751.4" r="7.4"/><circle cx="218.0" cy="751.6" r="7.4"/><circle cx="218.5" cy="751.7" r="7.4"/><circle cx="219.0" cy="751.8" r="7.4"/><circle cx="219.4" cy="751.9" r="7.4"/><circle cx="219.9" cy="752.1" r="7.4"/><circle cx="220.4" cy="752.2" r="7.4"/><circle cx="220.9" cy="752.3" r="7.4"/><circle cx="221.4" cy="752.4" r="7.4"/><circle cx="221.9" cy="752.6" r="7.4"/><circle cx="222.3" cy="752.7" r="7.4"/><circle cx="222.8" cy="752.8" r="7.4"/><circle cx="223.3" cy="752.9" r="7.4"/><circle cx="223.8" cy="753.0" r="7.4"/><circle cx="224.3" cy="753.2" r="7.4"/><circle cx="224.8" cy="753.3" r="7.4"/><circle cx="225.2" cy="753.4" r="7.4"/><circle cx="225.7" cy="753.5" r="7.4"/><circle cx="226.2" cy="753.7" r="7.4"/><circle cx="226.7" cy="753.8" r="7.4"/><circle cx="227.2" cy="753.9" r="7.4"/><circle cx="227.7" cy="754.0" r="7.4"/><circle cx="228.1" cy="754.2" r="7.4"/><circle cx="228.6" cy="754.3" r="7.4"/><circle cx="229.1" cy="754.4" r="7.4"/><circle cx="229.6" cy="754.5" r="7.4"/><circle cx="230.1" cy="754.7" r="7.4"/><circle cx="230.6" cy="754.8" r="7.4"/><circle cx="231.0" cy="754.9" r="7.4"/><circle cx="231.5" cy="755.0" r="7.4"/><circle cx="232.0" cy="755.1" r="7.4"/><circle cx="232.5" cy="755.2" r="7.4"/><circle cx="233.0" cy="755.3" r="7.4"/><circle cx="233.5" cy="755.4" r="7.4"/><circle cx="234.0" cy="755.5" r="7.4"/><circle cx="234.5" cy="755.7" r="7.4"/><circle cx="234.9" cy="755.8" r="7.4"/><circle cx="235.4" cy="755.9" r="7.4"/><circle cx="235.9" cy="756.0" r="7.4"/><circle cx="236.4" cy="756.1" r="7.4"/><circle cx="236.9" cy="756.2" r="7.4"/><circle cx="237.4" cy="756.3" r="7.4"/><circle cx="237.9" cy="756.4" r="7.4"/><circle cx="238.3" cy="756.5" r="7.4"/><circle cx="238.8" cy="756.7" r="7.4"/><circle cx="239.3" cy="756.8" r="7.4"/><circle cx="239.8" cy="756.9" r="7.4"/><circle cx="240.3" cy="757.0" r="7.4"/><circle cx="240.8" cy="757.1" r="7.4"/><circle cx="241.3" cy="757.2" r="7.4"/><circle cx="241.8" cy="757.3" r="7.4"/><circle cx="242.2" cy="757.4" r="7.4"/><circle cx="242.7" cy="757.6" r="7.4"/><circle cx="243.2" cy="757.7" r="7.4"/><circle cx="243.7" cy="757.8" r="7.4"/><circle cx="244.2" cy="757.9" r="7.4"/><circle cx="244.7" cy="758.0" r="7.4"/><circle cx="245.2" cy="758.1" r="7.4"/><circle cx="245.7" cy="758.2" r="7.4"/><circle cx="246.1" cy="758.3" r="7.4"/><circle cx="246.6" cy="758.5" r="7.4"/><circle cx="247.1" cy="758.6" r="7.4"/><circle cx="247.6" cy="758.7" r="7.4"/><circle cx="248.1" cy="758.8" r="7.4"/><circle cx="248.6" cy="758.9" r="7.4"/><circle cx="249.1" cy="759.0" r="7.4"/><circle cx="249.5" cy="759.1" r="7.4"/><circle cx="250.0" cy="759.3" r="7.4"/><circle cx="250.5" cy="759.4" r="7.4"/><circle cx="251.0" cy="759.5" r="7.4"/><circle cx="251.5" cy="759.6" r="7.4"/><circle cx="252.0" cy="759.7" r="7.4"/><circle cx="252.5" cy="759.8" r="7.4"/><circle cx="253.0" cy="759.9" r="7.4"/><circle cx="253.4" cy="760.1" r="7.4"/><circle cx="253.9" cy="760.2" r="7.4"/><circle cx="254.4" cy="760.3" r="7.4"/><circle cx="254.9" cy="760.4" r="7.4"/><circle cx="255.4" cy="760.5" r="7.4"/><circle cx="255.9" cy="760.6" r="7.4"/><circle cx="256.4" cy="760.7" r="7.4"/><circle cx="256.9" cy="760.9" r="7.4"/><circle cx="257.3" cy="761.0" r="7.4"/><circle cx="257.8" cy="761.1" r="7.4"/><circle cx="258.3" cy="761.2" r="7.4"/><circle cx="258.8" cy="761.3" r="7.4"/><circle cx="259.3" cy="761.4" r="7.4"/><circle cx="259.8" cy="761.6" r="7.4"/><circle cx="260.3" cy="761.7" r="7.4"/><circle cx="260.8" cy="761.7" r="7.4"/><circle cx="261.2" cy="761.8" r="7.4"/><circle cx="261.7" cy="761.9" r="7.4"/><circle cx="262.2" cy="762.0" r="7.4"/><circle cx="262.7" cy="762.1" r="7.4"/><circle cx="263.2" cy="762.2" r="7.4"/><circle cx="263.7" cy="762.2" r="7.4"/><circle cx="264.2" cy="762.3" r="7.4"/><circle cx="264.7" cy="762.4" r="7.4"/><circle cx="265.2" cy="762.5" r="7.4"/><circle cx="265.7" cy="762.6" r="7.4"/><circle cx="266.2" cy="762.7" r="7.4"/><circle cx="266.7" cy="762.7" r="7.4"/><circle cx="267.2" cy="762.8" r="7.4"/><circle cx="267.7" cy="762.9" r="7.4"/><circle cx="268.2" cy="763.0" r="7.4"/><circle cx="268.7" cy="763.1" r="7.4"/><circle cx="269.1" cy="763.2" r="7.4"/><circle cx="269.6" cy="763.2" r="7.4"/><circle cx="270.1" cy="763.3" r="7.4"/><circle cx="270.6" cy="763.4" r="7.4"/><circle cx="271.1" cy="763.5" r="7.4"/><circle cx="271.6" cy="763.6" r="7.4"/><circle cx="272.1" cy="763.7" r="7.4"/><circle cx="272.6" cy="763.8" r="7.4"/><circle cx="273.1" cy="763.8" r="7.4"/><circle cx="273.6" cy="763.9" r="7.4"/><circle cx="274.1" cy="764.0" r="7.4"/><circle cx="274.6" cy="764.1" r="7.4"/><circle cx="275.1" cy="764.2" r="7.4"/><circle cx="275.6" cy="764.3" r="7.4"/><circle cx="276.1" cy="764.3" r="7.4"/><circle cx="276.5" cy="764.4" r="7.4"/><circle cx="277.0" cy="764.5" r="7.4"/><circle cx="277.5" cy="764.6" r="7.4"/><circle cx="278.0" cy="764.7" r="7.4"/><circle cx="278.5" cy="764.8" r="7.4"/><circle cx="279.0" cy="764.9" r="7.4"/><circle cx="279.5" cy="765.0" r="7.4"/><circle cx="280.0" cy="765.0" r="7.4"/><circle cx="280.5" cy="765.1" r="7.4"/><circle cx="281.0" cy="765.2" r="7.4"/><circle cx="281.5" cy="765.3" r="7.4"/><circle cx="282.0" cy="765.4" r="7.4"/><circle cx="282.5" cy="765.5" r="7.4"/><circle cx="283.0" cy="765.6" r="7.4"/><circle cx="283.5" cy="765.6" r="7.4"/><circle cx="284.0" cy="765.7" r="7.4"/><circle cx="284.4" cy="765.8" r="7.4"/><circle cx="284.9" cy="765.9" r="7.4"/><circle cx="285.4" cy="766.0" r="7.4"/><circle cx="285.9" cy="766.1" r="7.4"/><circle cx="286.4" cy="766.2" r="7.4"/><circle cx="286.9" cy="766.2" r="7.4"/><circle cx="287.4" cy="766.3" r="7.4"/><circle cx="287.9" cy="766.4" r="7.4"/><circle cx="288.4" cy="766.5" r="7.4"/><circle cx="288.9" cy="766.6" r="7.4"/><circle cx="289.4" cy="766.7" r="7.4"/><circle cx="289.9" cy="766.7" r="7.4"/><circle cx="290.4" cy="766.8" r="7.4"/><circle cx="290.9" cy="766.9" r="7.4"/><circle cx="291.4" cy="767.0" r="7.4"/><circle cx="291.8" cy="767.0" r="7.4"/><circle cx="292.3" cy="767.1" r="7.4"/><circle cx="292.8" cy="767.2" r="7.4"/><circle cx="293.3" cy="767.3" r="7.4"/><circle cx="293.8" cy="767.3" r="7.4"/><circle cx="294.3" cy="767.4" r="7.4"/><circle cx="294.8" cy="767.4" r="7.4"/><circle cx="295.3" cy="767.5" r="7.4"/><circle cx="295.8" cy="767.6" r="7.4"/><circle cx="296.3" cy="767.6" r="7.4"/><circle cx="296.8" cy="767.7" r="7.4"/><circle cx="297.3" cy="767.7" r="7.4"/><circle cx="297.8" cy="767.8" r="7.4"/><circle cx="298.3" cy="767.8" r="7.4"/><circle cx="298.8" cy="767.9" r="7.4"/><circle cx="299.3" cy="767.9" r="7.4"/><circle cx="299.7" cy="768.0" r="7.4"/><circle cx="300.2" cy="768.0" r="7.4"/><circle cx="300.7" cy="768.1" r="7.4"/><circle cx="301.2" cy="768.1" r="7.4"/><circle cx="301.7" cy="768.2" r="7.4"/><circle cx="302.2" cy="768.3" r="7.4"/><circle cx="302.7" cy="768.4" r="7.4"/><circle cx="303.2" cy="768.4" r="7.4"/><circle cx="303.7" cy="768.5" r="7.4"/><circle cx="304.2" cy="768.6" r="7.4"/><circle cx="304.7" cy="768.7" r="7.4"/><circle cx="305.2" cy="768.8" r="7.4"/><circle cx="305.7" cy="768.9" r="7.4"/><circle cx="306.1" cy="769.0" r="7.4"/><circle cx="306.6" cy="769.1" r="7.4"/><circle cx="307.1" cy="769.2" r="7.4"/><circle cx="307.6" cy="769.3" r="7.4"/><circle cx="308.1" cy="769.4" r="7.4"/><circle cx="308.6" cy="769.6" r="7.4"/><circle cx="309.1" cy="769.7" r="7.4"/><circle cx="309.6" cy="769.8" r="7.4"/><circle cx="310.1" cy="770.0" r="7.4"/><circle cx="310.6" cy="770.1" r="7.4"/><circle cx="311.1" cy="770.2" r="7.4"/><circle cx="311.6" cy="770.4" r="7.4"/><circle cx="312.1" cy="770.5" r="7.4"/><circle cx="312.6" cy="770.7" r="7.4"/><circle cx="313.0" cy="770.8" r="7.4"/><circle cx="313.5" cy="770.9" r="7.4"/><circle cx="314.0" cy="771.1" r="7.4"/><circle cx="314.5" cy="771.2" r="7.4"/><circle cx="315.0" cy="771.3" r="7.4"/><circle cx="315.5" cy="771.4" r="7.4"/><circle cx="316.0" cy="771.6" r="7.4"/><circle cx="316.5" cy="771.7" r="7.4"/><circle cx="317.0" cy="771.8" r="7.4"/><circle cx="317.5" cy="771.9" r="7.4"/><circle cx="318.0" cy="772.0" r="7.4"/><circle cx="318.5" cy="772.1" r="7.4"/><circle cx="319.0" cy="772.3" r="7.4"/><circle cx="319.4" cy="772.4" r="7.4"/><circle cx="319.9" cy="772.5" r="7.4"/><circle cx="320.4" cy="772.6" r="7.4"/><circle cx="320.9" cy="772.7" r="7.4"/><circle cx="321.4" cy="772.8" r="7.4"/><circle cx="321.9" cy="772.9" r="7.4"/><circle cx="322.4" cy="773.0" r="7.4"/><circle cx="322.9" cy="773.1" r="7.4"/><circle cx="323.4" cy="773.2" r="7.4"/><circle cx="323.9" cy="773.3" r="7.4"/><circle cx="324.4" cy="773.4" r="7.4"/><circle cx="324.9" cy="773.5" r="7.4"/><circle cx="325.4" cy="773.6" r="7.4"/><circle cx="325.8" cy="773.6" r="7.4"/><circle cx="326.3" cy="773.7" r="7.4"/><circle cx="326.8" cy="773.8" r="7.4"/><circle cx="327.3" cy="773.9" r="7.4"/><circle cx="327.8" cy="774.0" r="7.4"/><circle cx="328.3" cy="774.1" r="7.4"/><circle cx="328.8" cy="774.2" r="7.4"/><circle cx="329.3" cy="774.3" r="7.4"/><circle cx="329.8" cy="774.4" r="7.4"/><circle cx="330.3" cy="774.5" r="7.4"/><circle cx="330.8" cy="774.6" r="7.4"/><circle cx="331.3" cy="774.6" r="7.4"/><circle cx="331.8" cy="774.7" r="7.4"/><circle cx="332.3" cy="774.8" r="7.4"/><circle cx="332.7" cy="774.9" r="7.4"/><circle cx="333.2" cy="775.0" r="7.4"/><circle cx="333.7" cy="775.1" r="7.4"/><circle cx="334.2" cy="775.2" r="7.4"/><circle cx="334.7" cy="775.3" r="7.4"/><circle cx="335.2" cy="775.3" r="7.4"/><circle cx="335.7" cy="775.4" r="7.4"/><circle cx="336.2" cy="775.5" r="7.4"/><circle cx="336.7" cy="775.6" r="7.4"/><circle cx="337.2" cy="775.7" r="7.4"/><circle cx="337.7" cy="775.8" r="7.4"/><circle cx="338.2" cy="775.9" r="7.4"/><circle cx="338.7" cy="775.9" r="7.4"/><circle cx="339.1" cy="776.0" r="7.4"/><circle cx="339.6" cy="776.1" r="7.4"/><circle cx="340.1" cy="776.2" r="7.4"/><circle cx="340.6" cy="776.3" r="7.4"/><circle cx="341.1" cy="776.4" r="7.4"/><circle cx="341.6" cy="776.5" r="7.4"/><circle cx="342.1" cy="776.6" r="7.4"/><circle cx="342.6" cy="776.7" r="7.4"/><circle cx="343.1" cy="776.7" r="7.4"/><circle cx="343.6" cy="776.8" r="7.4"/><circle cx="344.1" cy="776.9" r="7.4"/><circle cx="344.5" cy="777.0" r="7.4"/><circle cx="345.0" cy="777.1" r="7.4"/><circle cx="345.5" cy="777.2" r="7.4"/><circle cx="346.0" cy="777.3" r="7.4"/><circle cx="346.5" cy="777.4" r="7.4"/><circle cx="347.0" cy="777.4" r="7.4"/><circle cx="347.5" cy="777.5" r="7.4"/><circle cx="348.0" cy="777.6" r="7.4"/><circle cx="348.5" cy="777.7" r="7.4"/><circle cx="349.0" cy="777.8" r="7.4"/><circle cx="349.5" cy="777.9" r="7.4"/><circle cx="350.0" cy="778.0" r="7.4"/><circle cx="350.4" cy="778.0" r="7.4"/><circle cx="350.9" cy="778.1" r="7.4"/><circle cx="351.4" cy="778.2" r="7.4"/><circle cx="351.9" cy="778.3" r="7.4"/><circle cx="352.4" cy="778.3" r="7.4"/><circle cx="352.9" cy="778.4" r="7.4"/><circle cx="353.4" cy="778.5" r="7.4"/><circle cx="353.9" cy="778.5" r="7.4"/><circle cx="354.4" cy="778.6" r="7.4"/><circle cx="354.9" cy="778.7" r="7.4"/><circle cx="355.4" cy="778.7" r="7.4"/><circle cx="355.8" cy="778.8" r="7.4"/><circle cx="356.3" cy="778.8" r="7.4"/><circle cx="356.8" cy="778.8" r="7.4"/><circle cx="357.3" cy="778.9" r="7.4"/><circle cx="357.8" cy="778.9" r="7.4"/><circle cx="358.3" cy="778.9" r="7.4"/><circle cx="358.8" cy="779.0" r="7.4"/><circle cx="359.3" cy="779.0" r="7.4"/><circle cx="359.8" cy="779.0" r="7.4"/><circle cx="360.3" cy="779.1" r="7.4"/><circle cx="360.8" cy="779.1" r="7.4"/><circle cx="361.2" cy="779.1" r="7.4"/><circle cx="361.7" cy="779.2" r="7.4"/><circle cx="362.2" cy="779.2" r="7.4"/><circle cx="362.7" cy="779.3" r="7.4"/><circle cx="363.2" cy="779.3" r="7.4"/><circle cx="363.7" cy="779.4" r="7.4"/><circle cx="364.2" cy="779.5" r="7.4"/><circle cx="364.7" cy="779.5" r="7.4"/><circle cx="365.2" cy="779.6" r="7.4"/><circle cx="365.7" cy="779.7" r="7.4"/><circle cx="366.2" cy="779.8" r="7.4"/><circle cx="366.6" cy="779.9" r="7.4"/><circle cx="367.1" cy="780.0" r="7.4"/><circle cx="367.6" cy="780.2" r="7.4"/><circle cx="368.1" cy="780.3" r="7.4"/><circle cx="368.6" cy="780.4" r="7.4"/><circle cx="369.1" cy="780.6" r="7.4"/><circle cx="369.6" cy="780.7" r="7.4"/><circle cx="370.1" cy="780.8" r="7.4"/><circle cx="370.6" cy="781.0" r="7.4"/><circle cx="371.1" cy="781.1" r="7.4"/><circle cx="371.6" cy="781.2" r="7.4"/><circle cx="372.0" cy="781.4" r="7.4"/><circle cx="372.5" cy="781.5" r="7.4"/><circle cx="373.0" cy="781.6" r="7.4"/><circle cx="373.5" cy="781.7" r="7.4"/><circle cx="374.0" cy="781.8" r="7.4"/><circle cx="374.5" cy="782.0" r="7.4"/><circle cx="375.0" cy="782.1" r="7.4"/><circle cx="375.5" cy="782.2" r="7.4"/><circle cx="376.0" cy="782.3" r="7.4"/><circle cx="376.5" cy="782.4" r="7.4"/><circle cx="377.0" cy="782.5" r="7.4"/><circle cx="377.4" cy="782.6" r="7.4"/><circle cx="377.9" cy="782.7" r="7.4"/><circle cx="378.4" cy="782.8" r="7.4"/><circle cx="378.9" cy="782.9" r="7.4"/><circle cx="379.4" cy="782.9" r="7.4"/><circle cx="379.9" cy="783.0" r="7.4"/><circle cx="380.4" cy="783.1" r="7.4"/><circle cx="380.9" cy="783.2" r="7.4"/><circle cx="381.4" cy="783.3" r="7.4"/><circle cx="381.9" cy="783.4" r="7.4"/><circle cx="382.3" cy="783.5" r="7.4"/><circle cx="382.8" cy="783.6" r="7.4"/><circle cx="383.3" cy="783.7" r="7.4"/><circle cx="383.8" cy="783.8" r="7.4"/><circle cx="384.3" cy="783.9" r="7.4"/><circle cx="384.8" cy="784.0" r="7.4"/><circle cx="385.3" cy="784.1" r="7.4"/><circle cx="385.8" cy="784.2" r="7.4"/><circle cx="386.3" cy="784.3" r="7.4"/><circle cx="386.7" cy="784.4" r="7.4"/><circle cx="387.2" cy="784.5" r="7.4"/><circle cx="387.7" cy="784.6" r="7.4"/><circle cx="388.2" cy="784.7" r="7.4"/><circle cx="388.7" cy="784.8" r="7.4"/><circle cx="389.2" cy="784.9" r="7.4"/><circle cx="389.7" cy="785.0" r="7.4"/><circle cx="390.2" cy="785.1" r="7.4"/><circle cx="390.7" cy="785.2" r="7.4"/><circle cx="391.1" cy="785.3" r="7.4"/><circle cx="391.6" cy="785.4" r="7.4"/><circle cx="392.1" cy="785.5" r="7.4"/><circle cx="392.6" cy="785.6" r="7.4"/><circle cx="393.1" cy="785.7" r="7.4"/><circle cx="393.6" cy="785.9" r="7.4"/><circle cx="394.1" cy="786.0" r="7.4"/><circle cx="394.6" cy="786.1" r="7.4"/><circle cx="395.1" cy="786.2" r="7.4"/><circle cx="395.5" cy="786.3" r="7.4"/><circle cx="396.0" cy="786.4" r="7.4"/><circle cx="396.5" cy="786.5" r="7.4"/><circle cx="397.0" cy="786.6" r="7.4"/><circle cx="397.5" cy="786.7" r="7.4"/><circle cx="398.0" cy="786.8" r="7.4"/><circle cx="398.5" cy="786.9" r="7.4"/><circle cx="399.0" cy="787.0" r="7.4"/><circle cx="399.5" cy="787.1" r="7.4"/><circle cx="399.9" cy="787.2" r="7.4"/><circle cx="400.4" cy="787.3" r="7.4"/><circle cx="400.9" cy="787.4" r="7.4"/><circle cx="401.4" cy="787.5" r="7.4"/><circle cx="401.9" cy="787.6" r="7.4"/><circle cx="402.4" cy="787.8" r="7.4"/><circle cx="402.9" cy="787.9" r="7.4"/><circle cx="403.4" cy="788.0" r="7.4"/><circle cx="403.9" cy="788.1" r="7.4"/><circle cx="404.3" cy="788.2" r="7.4"/><circle cx="404.8" cy="788.3" r="7.4"/><circle cx="405.3" cy="788.4" r="7.4"/><circle cx="405.8" cy="788.5" r="7.4"/><circle cx="406.3" cy="788.6" r="7.4"/><circle cx="406.8" cy="788.7" r="7.4"/><circle cx="407.3" cy="788.8" r="7.4"/><circle cx="407.8" cy="789.0" r="7.4"/><circle cx="408.3" cy="789.1" r="7.4"/><circle cx="408.7" cy="789.2" r="7.4"/><circle cx="409.2" cy="789.3" r="7.4"/><circle cx="409.7" cy="789.4" r="7.4"/><circle cx="410.2" cy="789.5" r="7.4"/><circle cx="410.7" cy="789.6" r="7.4"/><circle cx="411.2" cy="789.7" r="7.4"/><circle cx="411.7" cy="789.8" r="7.4"/><circle cx="412.2" cy="789.9" r="7.4"/><circle cx="412.7" cy="790.1" r="7.4"/><circle cx="413.1" cy="790.2" r="7.4"/><circle cx="413.6" cy="790.3" r="7.4"/><circle cx="414.1" cy="790.4" r="7.4"/><circle cx="414.6" cy="790.5" r="7.4"/><circle cx="415.1" cy="790.6" r="7.4"/><circle cx="415.6" cy="790.7" r="7.4"/><circle cx="416.1" cy="790.8" r="7.4"/><circle cx="416.6" cy="790.9" r="7.4"/><circle cx="417.1" cy="791.0" r="7.4"/><circle cx="417.5" cy="791.2" r="7.4"/><circle cx="418.0" cy="791.3" r="7.4"/><circle cx="418.5" cy="791.4" r="7.4"/><circle cx="419.0" cy="791.5" r="7.4"/><circle cx="419.5" cy="791.6" r="7.4"/><circle cx="420.0" cy="791.7" r="7.4"/><circle cx="420.5" cy="791.8" r="7.4"/><circle cx="421.0" cy="791.9" r="7.4"/><circle cx="421.5" cy="792.0" r="7.4"/><circle cx="422.0" cy="792.1" r="7.4"/><circle cx="422.4" cy="792.2" r="7.4"/><circle cx="422.9" cy="792.3" r="7.4"/><circle cx="423.4" cy="792.3" r="7.4"/><circle cx="423.9" cy="792.4" r="7.4"/><circle cx="424.4" cy="792.5" r="7.4"/><circle cx="424.9" cy="792.6" r="7.4"/><circle cx="425.4" cy="792.7" r="7.4"/><circle cx="425.9" cy="792.8" r="7.4"/><circle cx="426.4" cy="792.9" r="7.4"/><circle cx="426.9" cy="793.0" r="7.4"/><circle cx="427.4" cy="793.1" r="7.4"/><circle cx="427.9" cy="793.2" r="7.4"/><circle cx="428.4" cy="793.2" r="7.4"/><circle cx="428.9" cy="793.3" r="7.4"/><circle cx="429.3" cy="793.4" r="7.4"/><circle cx="429.8" cy="793.5" r="7.4"/><circle cx="430.3" cy="793.6" r="7.4"/><circle cx="430.8" cy="793.7" r="7.4"/><circle cx="431.3" cy="793.8" r="7.4"/><circle cx="431.8" cy="793.9" r="7.4"/><circle cx="432.3" cy="794.0" r="7.4"/><circle cx="432.8" cy="794.0" r="7.4"/><circle cx="433.3" cy="794.1" r="7.4"/><circle cx="433.8" cy="794.2" r="7.4"/><circle cx="434.3" cy="794.3" r="7.4"/><circle cx="434.8" cy="794.4" r="7.4"/><circle cx="435.3" cy="794.5" r="7.4"/><circle cx="435.7" cy="794.6" r="7.4"/><circle cx="436.2" cy="794.7" r="7.4"/><circle cx="436.7" cy="794.7" r="7.4"/><circle cx="437.2" cy="794.8" r="7.4"/><circle cx="437.7" cy="794.9" r="7.4"/><circle cx="438.2" cy="795.0" r="7.4"/><circle cx="438.7" cy="795.1" r="7.4"/><circle cx="439.2" cy="795.2" r="7.4"/><circle cx="439.7" cy="795.3" r="7.4"/><circle cx="440.2" cy="795.3" r="7.4"/><circle cx="440.7" cy="795.4" r="7.4"/><circle cx="441.2" cy="795.5" r="7.4"/><circle cx="441.7" cy="795.6" r="7.4"/><circle cx="442.1" cy="795.7" r="7.4"/><circle cx="442.6" cy="795.8" r="7.4"/><circle cx="443.1" cy="795.9" r="7.4"/><circle cx="443.6" cy="796.0" r="7.4"/><circle cx="444.1" cy="796.1" r="7.4"/><circle cx="444.6" cy="796.2" r="7.4"/><circle cx="445.1" cy="796.3" r="7.4"/><circle cx="445.6" cy="796.4" r="7.4"/><circle cx="446.1" cy="796.5" r="7.4"/><circle cx="446.6" cy="796.6" r="7.4"/><circle cx="447.1" cy="796.7" r="7.4"/><circle cx="447.6" cy="796.8" r="7.4"/><circle cx="448.1" cy="796.9" r="7.4"/><circle cx="448.6" cy="797.0" r="7.4"/><circle cx="449.0" cy="797.1" r="7.4"/><circle cx="449.5" cy="797.2" r="7.4"/><circle cx="450.0" cy="797.3" r="7.4"/><circle cx="450.5" cy="797.4" r="7.4"/><circle cx="451.0" cy="797.5" r="7.4"/><circle cx="451.5" cy="797.7" r="7.4"/><circle cx="452.0" cy="797.8" r="7.4"/><circle cx="452.5" cy="797.9" r="7.4"/><circle cx="453.0" cy="798.0" r="7.4"/><circle cx="453.5" cy="798.1" r="7.4"/><circle cx="454.0" cy="798.2" r="7.4"/><circle cx="454.5" cy="798.3" r="7.4"/><circle cx="455.0" cy="798.4" r="7.4"/><circle cx="455.4" cy="798.5" r="7.4"/><circle cx="455.9" cy="798.6" r="7.4"/><circle cx="456.4" cy="798.7" r="7.4"/><circle cx="456.9" cy="798.8" r="7.4"/><circle cx="457.4" cy="798.9" r="7.4"/><circle cx="457.9" cy="799.0" r="7.4"/><circle cx="458.4" cy="799.1" r="7.4"/><circle cx="458.9" cy="799.1" r="7.4"/><circle cx="459.4" cy="799.2" r="7.4"/><circle cx="459.9" cy="799.3" r="7.4"/><circle cx="460.4" cy="799.3" r="7.4"/><circle cx="460.9" cy="799.4" r="7.4"/><circle cx="461.4" cy="799.4" r="7.4"/><circle cx="461.9" cy="799.5" r="7.4"/><circle cx="462.3" cy="799.5" r="7.4"/><circle cx="462.8" cy="799.5" r="7.4"/><circle cx="463.3" cy="799.6" r="7.4"/><circle cx="463.8" cy="799.6" r="7.4"/><circle cx="464.3" cy="799.7" r="7.4"/><circle cx="464.8" cy="799.7" r="7.4"/><circle cx="465.3" cy="799.7" r="7.4"/><circle cx="465.8" cy="799.8" r="7.4"/><circle cx="466.3" cy="799.8" r="7.4"/><circle cx="466.8" cy="799.9" r="7.4"/><circle cx="467.3" cy="799.9" r="7.4"/><circle cx="467.8" cy="799.9" r="7.4"/><circle cx="468.3" cy="800.0" r="7.4"/><circle cx="468.8" cy="800.0" r="7.4"/><circle cx="469.3" cy="800.1" r="7.4"/><circle cx="469.8" cy="800.2" r="7.4"/><circle cx="470.3" cy="800.2" r="7.4"/><circle cx="470.7" cy="800.3" r="7.4"/><circle cx="471.2" cy="800.3" r="7.4"/><circle cx="471.7" cy="800.4" r="7.4"/><circle cx="472.2" cy="800.5" r="7.4"/><circle cx="472.7" cy="800.5" r="7.4"/><circle cx="473.2" cy="800.6" r="7.4"/><circle cx="473.7" cy="800.7" r="7.4"/><circle cx="474.2" cy="800.7" r="7.4"/><circle cx="474.7" cy="800.8" r="7.4"/><circle cx="475.2" cy="800.9" r="7.4"/><circle cx="475.7" cy="800.9" r="7.4"/><circle cx="476.2" cy="801.0" r="7.4"/><circle cx="476.7" cy="801.1" r="7.4"/><circle cx="477.2" cy="801.1" r="7.4"/><circle cx="477.7" cy="801.2" r="7.4"/><circle cx="478.2" cy="801.3" r="7.4"/><circle cx="478.7" cy="801.4" r="7.4"/><circle cx="479.1" cy="801.4" r="7.4"/><circle cx="479.6" cy="801.5" r="7.4"/><circle cx="480.1" cy="801.6" r="7.4"/><circle cx="480.6" cy="801.7" r="7.4"/><circle cx="481.1" cy="801.7" r="7.4"/><circle cx="481.6" cy="801.8" r="7.4"/><circle cx="482.1" cy="801.9" r="7.4"/><circle cx="482.6" cy="802.0" r="7.4"/><circle cx="483.1" cy="802.0" r="7.4"/><circle cx="483.6" cy="802.1" r="7.4"/><circle cx="484.1" cy="802.2" r="7.4"/><circle cx="484.6" cy="802.3" r="7.4"/><circle cx="485.1" cy="802.3" r="7.4"/><circle cx="485.6" cy="802.4" r="7.4"/><circle cx="486.1" cy="802.5" r="7.4"/><circle cx="486.6" cy="802.6" r="7.4"/><circle cx="487.1" cy="802.6" r="7.4"/><circle cx="487.5" cy="802.7" r="7.4"/><circle cx="488.0" cy="802.8" r="7.4"/><circle cx="488.5" cy="802.9" r="7.4"/><circle cx="489.0" cy="802.9" r="7.4"/><circle cx="489.5" cy="803.0" r="7.4"/><circle cx="490.0" cy="803.1" r="7.4"/><circle cx="490.5" cy="803.2" r="7.4"/><circle cx="491.0" cy="803.3" r="7.4"/><circle cx="491.5" cy="803.3" r="7.4"/><circle cx="492.0" cy="803.4" r="7.4"/><circle cx="492.5" cy="803.5" r="7.4"/><circle cx="493.0" cy="803.6" r="7.4"/><circle cx="493.5" cy="803.6" r="7.4"/><circle cx="494.0" cy="803.7" r="7.4"/><circle cx="494.5" cy="803.8" r="7.4"/><circle cx="495.0" cy="803.9" r="7.4"/><circle cx="495.5" cy="804.0" r="7.4"/><circle cx="495.9" cy="804.0" r="7.4"/><circle cx="496.4" cy="804.1" r="7.4"/><circle cx="496.9" cy="804.2" r="7.4"/><circle cx="497.4" cy="804.3" r="7.4"/><circle cx="497.9" cy="804.3" r="7.4"/><circle cx="498.4" cy="804.4" r="7.4"/><circle cx="498.9" cy="804.5" r="7.4"/><circle cx="499.4" cy="804.6" r="7.4"/><circle cx="499.9" cy="804.7" r="7.4"/><circle cx="500.4" cy="804.8" r="7.4"/><circle cx="500.9" cy="804.9" r="7.4"/><circle cx="501.4" cy="805.0" r="7.4"/><circle cx="501.9" cy="805.1" r="7.4"/><circle cx="502.3" cy="805.2" r="7.4"/><circle cx="502.8" cy="805.3" r="7.4"/><circle cx="503.3" cy="805.4" r="7.4"/><circle cx="503.8" cy="805.5" r="7.4"/><circle cx="504.3" cy="805.6" r="7.4"/><circle cx="504.8" cy="805.7" r="7.4"/><circle cx="505.3" cy="805.8" r="7.4"/><circle cx="505.8" cy="805.9" r="7.4"/><circle cx="506.3" cy="806.1" r="7.4"/><circle cx="506.7" cy="806.2" r="7.4"/><circle cx="507.2" cy="806.3" r="7.4"/><circle cx="507.7" cy="806.4" r="7.4"/><circle cx="508.2" cy="806.5" r="7.4"/><circle cx="508.7" cy="806.6" r="7.4"/><circle cx="509.2" cy="806.6" r="7.4"/><circle cx="509.7" cy="806.7" r="7.4"/><circle cx="510.2" cy="806.8" r="7.4"/><circle cx="510.6" cy="806.9" r="7.4"/><circle cx="511.1" cy="807.0" r="7.4"/><circle cx="511.6" cy="807.1" r="7.4"/><circle cx="512.1" cy="807.2" r="7.4"/><circle cx="512.6" cy="807.2" r="7.4"/><circle cx="513.1" cy="807.3" r="7.4"/><circle cx="513.6" cy="807.4" r="7.4"/><circle cx="514.1" cy="807.5" r="7.4"/><circle cx="514.6" cy="807.5" r="7.4"/><circle cx="515.0" cy="807.6" r="7.4"/><circle cx="515.5" cy="807.7" r="7.4"/><circle cx="516.0" cy="807.7" r="7.4"/><circle cx="516.5" cy="807.8" r="7.4"/><circle cx="517.0" cy="807.9" r="7.4"/><circle cx="517.5" cy="807.9" r="7.4"/><circle cx="518.0" cy="808.0" r="7.4"/><circle cx="518.5" cy="808.1" r="7.4"/><circle cx="518.9" cy="808.1" r="7.4"/><circle cx="519.4" cy="808.2" r="7.4"/><circle cx="519.9" cy="808.3" r="7.4"/><circle cx="520.4" cy="808.4" r="7.4"/><circle cx="520.9" cy="808.4" r="7.4"/><circle cx="521.4" cy="808.5" r="7.4"/><circle cx="521.9" cy="808.6" r="7.4"/><circle cx="522.4" cy="808.7" r="7.4"/><circle cx="522.9" cy="808.8" r="7.4"/><circle cx="523.3" cy="808.9" r="7.4"/><circle cx="523.8" cy="809.0" r="7.4"/><circle cx="524.3" cy="809.1" r="7.4"/><circle cx="524.8" cy="809.3" r="7.4"/><circle cx="525.3" cy="809.4" r="7.4"/><circle cx="525.8" cy="809.5" r="7.4"/><circle cx="526.3" cy="809.7" r="7.4"/><circle cx="526.8" cy="809.8" r="7.4"/><circle cx="527.2" cy="809.9" r="7.4"/><circle cx="527.7" cy="810.1" r="7.4"/><circle cx="528.2" cy="810.2" r="7.4"/><circle cx="528.7" cy="810.4" r="7.4"/><circle cx="529.2" cy="810.5" r="7.4"/><circle cx="529.7" cy="810.7" r="7.4"/><circle cx="530.2" cy="810.8" r="7.4"/><circle cx="530.7" cy="811.0" r="7.4"/><circle cx="531.2" cy="811.1" r="7.4"/><circle cx="531.6" cy="811.3" r="7.4"/><circle cx="532.1" cy="811.4" r="7.4"/><circle cx="532.6" cy="811.5" r="7.4"/><circle cx="533.1" cy="811.7" r="7.4"/><circle cx="533.6" cy="811.8" r="7.4"/><circle cx="534.1" cy="811.9" r="7.4"/><circle cx="534.6" cy="812.0" r="7.4"/><circle cx="535.1" cy="812.2" r="7.4"/><circle cx="535.5" cy="812.3" r="7.4"/><circle cx="536.0" cy="812.4" r="7.4"/><circle cx="536.5" cy="812.5" r="7.4"/><circle cx="537.0" cy="812.6" r="7.4"/><circle cx="537.5" cy="812.7" r="7.4"/><circle cx="538.0" cy="812.8" r="7.4"/><circle cx="538.5" cy="812.9" r="7.4"/><circle cx="539.0" cy="813.1" r="7.4"/><circle cx="539.5" cy="813.2" r="7.4"/><circle cx="539.9" cy="813.3" r="7.4"/><circle cx="540.4" cy="813.4" r="7.4"/><circle cx="540.9" cy="813.5" r="7.4"/><circle cx="541.4" cy="813.6" r="7.4"/><circle cx="541.9" cy="813.7" r="7.4"/><circle cx="542.4" cy="813.9" r="7.4"/><circle cx="542.9" cy="814.0" r="7.4"/><circle cx="543.4" cy="814.1" r="7.4"/><circle cx="543.9" cy="814.2" r="7.4"/><circle cx="544.4" cy="814.4" r="7.4"/><circle cx="544.8" cy="814.5" r="7.4"/><circle cx="545.3" cy="814.6" r="7.4"/><circle cx="545.8" cy="814.8" r="7.4"/><circle cx="546.3" cy="814.9" r="7.4"/><circle cx="546.8" cy="815.0" r="7.4"/><circle cx="547.3" cy="815.2" r="7.4"/><circle cx="547.8" cy="815.3" r="7.4"/><circle cx="548.3" cy="815.4" r="7.4"/><circle cx="548.8" cy="815.6" r="7.4"/><circle cx="549.3" cy="815.7" r="7.4"/><circle cx="549.7" cy="815.8" r="7.4"/><circle cx="550.2" cy="815.9" r="7.4"/><circle cx="550.7" cy="816.1" r="7.4"/><circle cx="551.2" cy="816.2" r="7.4"/><circle cx="551.7" cy="816.3" r="7.4"/><circle cx="552.2" cy="816.4" r="7.4"/><circle cx="552.7" cy="816.5" r="7.4"/><circle cx="553.2" cy="816.6" r="7.4"/><circle cx="553.7" cy="816.8" r="7.4"/><circle cx="554.2" cy="816.9" r="7.4"/><circle cx="554.7" cy="817.0" r="7.4"/><circle cx="555.1" cy="817.1" r="7.4"/><circle cx="555.6" cy="817.2" r="7.4"/><circle cx="556.1" cy="817.3" r="7.4"/><circle cx="556.6" cy="817.4" r="7.4"/><circle cx="557.1" cy="817.5" r="7.4"/><circle cx="557.6" cy="817.6" r="7.4"/><circle cx="558.1" cy="817.7" r="7.4"/><circle cx="558.6" cy="817.8" r="7.4"/><circle cx="559.1" cy="817.9" r="7.4"/><circle cx="559.6" cy="818.0" r="7.4"/><circle cx="560.0" cy="818.1" r="7.4"/><circle cx="560.5" cy="818.2" r="7.4"/><circle cx="561.0" cy="818.3" r="7.4"/><circle cx="561.5" cy="818.4" r="7.4"/><circle cx="562.0" cy="818.6" r="7.4"/><circle cx="562.5" cy="818.7" r="7.4"/><circle cx="563.0" cy="818.8" r="7.4"/><circle cx="563.5" cy="818.9" r="7.4"/><circle cx="564.0" cy="819.0" r="7.4"/><circle cx="564.5" cy="819.1" r="7.4"/><circle cx="564.9" cy="819.2" r="7.4"/><circle cx="565.4" cy="819.3" r="7.4"/><circle cx="565.9" cy="819.4" r="7.4"/><circle cx="566.4" cy="819.5" r="7.4"/><circle cx="566.9" cy="819.6" r="7.4"/><circle cx="567.4" cy="819.7" r="7.4"/><circle cx="567.9" cy="819.8" r="7.4"/><circle cx="568.4" cy="819.9" r="7.4"/><circle cx="568.9" cy="820.0" r="7.4"/><circle cx="569.4" cy="820.1" r="7.4"/><circle cx="569.9" cy="820.2" r="7.4"/><circle cx="570.3" cy="820.3" r="7.4"/><circle cx="570.8" cy="820.4" r="7.4"/><circle cx="571.3" cy="820.5" r="7.4"/><circle cx="571.8" cy="820.6" r="7.4"/><circle cx="572.3" cy="820.7" r="7.4"/><circle cx="572.8" cy="820.8" r="7.4"/><circle cx="573.3" cy="820.9" r="7.4"/><circle cx="573.8" cy="821.0" r="7.4"/><circle cx="574.3" cy="821.1" r="7.4"/><circle cx="574.8" cy="821.2" r="7.4"/><circle cx="575.2" cy="821.3" r="7.4"/><circle cx="575.7" cy="821.4" r="7.4"/><circle cx="576.2" cy="821.5" r="7.4"/><circle cx="576.7" cy="821.6" r="7.4"/><circle cx="577.2" cy="821.7" r="7.4"/><circle cx="577.7" cy="821.8" r="7.4"/><circle cx="578.2" cy="821.9" r="7.4"/><circle cx="578.7" cy="822.0" r="7.4"/><circle cx="579.2" cy="822.1" r="7.4"/><circle cx="579.7" cy="822.2" r="7.4"/><circle cx="580.1" cy="822.3" r="7.4"/><circle cx="580.6" cy="822.4" r="7.4"/><circle cx="581.1" cy="822.5" r="7.4"/><circle cx="581.6" cy="822.7" r="7.4"/><circle cx="582.1" cy="822.8" r="7.4"/><circle cx="582.6" cy="822.9" r="7.4"/><circle cx="583.0" cy="823.0" r="7.4"/><circle cx="583.5" cy="823.2" r="7.4"/><circle cx="584.0" cy="823.3" r="7.4"/><circle cx="584.5" cy="823.4" r="7.4"/><circle cx="585.0" cy="823.5" r="7.4"/><circle cx="585.5" cy="823.7" r="7.4"/><circle cx="585.9" cy="823.8" r="7.4"/><circle cx="586.4" cy="823.9" r="7.4"/><circle cx="586.9" cy="824.1" r="7.4"/><circle cx="587.4" cy="824.2" r="7.4"/><circle cx="587.9" cy="824.3" r="7.4"/><circle cx="588.4" cy="824.4" r="7.4"/><circle cx="588.8" cy="824.6" r="7.4"/><circle cx="589.3" cy="824.7" r="7.4"/><circle cx="589.8" cy="824.8" r="7.4"/><circle cx="590.3" cy="824.9" r="7.4"/><circle cx="590.8" cy="825.1" r="7.4"/><circle cx="591.2" cy="825.2" r="7.4"/><circle cx="591.7" cy="825.3" r="7.4"/><circle cx="592.2" cy="825.4" r="7.4"/><circle cx="592.7" cy="825.6" r="7.4"/><circle cx="593.2" cy="825.7" r="7.4"/><circle cx="593.7" cy="825.8" r="7.4"/><circle cx="594.1" cy="825.9" r="7.4"/><circle cx="594.6" cy="826.0" r="7.4"/><circle cx="595.1" cy="826.2" r="7.4"/><circle cx="595.6" cy="826.3" r="7.4"/><circle cx="596.1" cy="826.4" r="7.4"/><circle cx="596.6" cy="826.5" r="7.4"/><circle cx="597.0" cy="826.7" r="7.4"/><circle cx="597.5" cy="826.8" r="7.4"/><circle cx="598.0" cy="826.9" r="7.4"/><circle cx="598.5" cy="827.0" r="7.4"/><circle cx="599.0" cy="827.2" r="7.4"/><circle cx="599.5" cy="827.3" r="7.4"/><circle cx="599.9" cy="827.4" r="7.4"/><circle cx="600.4" cy="827.5" r="7.4"/><circle cx="600.9" cy="827.7" r="7.4"/><circle cx="601.4" cy="827.8" r="7.4"/><circle cx="601.8" cy="828.0" r="7.4"/><circle cx="602.3" cy="828.2" r="7.4"/><circle cx="602.8" cy="828.3" r="7.4"/><circle cx="603.3" cy="828.5" r="7.4"/><circle cx="603.7" cy="828.6" r="7.4"/><circle cx="604.2" cy="828.8" r="7.4"/><circle cx="604.7" cy="828.9" r="7.4"/><circle cx="605.1" cy="829.1" r="7.4"/><circle cx="605.6" cy="829.2" r="7.4"/><circle cx="606.1" cy="829.4" r="7.4"/><circle cx="606.6" cy="829.5" r="7.4"/><circle cx="607.0" cy="829.7" r="7.4"/><circle cx="607.5" cy="829.8" r="7.4"/><circle cx="608.0" cy="830.0" r="7.4"/><circle cx="608.5" cy="830.1" r="7.4"/><circle cx="608.9" cy="830.3" r="7.4"/><circle cx="609.4" cy="830.4" r="7.4"/><circle cx="609.9" cy="830.6" r="7.4"/><circle cx="610.4" cy="830.7" r="7.4"/><circle cx="610.8" cy="830.9" r="7.4"/><circle cx="611.3" cy="831.0" r="7.4"/><circle cx="611.8" cy="831.2" r="7.4"/><circle cx="612.2" cy="831.3" r="7.4"/><circle cx="612.7" cy="831.5" r="7.4"/><circle cx="613.2" cy="831.7" r="7.4"/><circle cx="613.7" cy="831.8" r="7.4"/><circle cx="614.1" cy="832.0" r="7.4"/><circle cx="614.6" cy="832.1" r="7.4"/><circle cx="615.1" cy="832.3" r="7.4"/><circle cx="615.6" cy="832.4" r="7.4"/><circle cx="616.0" cy="832.6" r="7.4"/><circle cx="616.5" cy="832.7" r="7.4"/><circle cx="617.0" cy="832.9" r="7.4"/><circle cx="617.5" cy="833.0" r="7.4"/><circle cx="617.9" cy="833.2" r="7.4"/><circle cx="618.4" cy="833.4" r="7.4"/><circle cx="618.9" cy="833.5" r="7.4"/><circle cx="619.3" cy="833.7" r="7.4"/><circle cx="619.8" cy="833.8" r="7.4"/><circle cx="620.3" cy="834.0" r="7.4"/><circle cx="620.7" cy="834.3" r="7.4"/><circle cx="621.2" cy="834.5" r="7.4"/><circle cx="621.6" cy="834.7" r="7.4"/><circle cx="622.1" cy="834.9" r="7.4"/><circle cx="622.5" cy="835.1" r="7.4"/><circle cx="623.0" cy="835.4" r="7.4"/><circle cx="623.4" cy="835.6" r="7.4"/><circle cx="623.9" cy="835.8" r="7.4"/><circle cx="624.3" cy="836.0" r="7.4"/><circle cx="624.8" cy="836.2" r="7.4"/><circle cx="625.2" cy="836.5" r="7.4"/><circle cx="625.7" cy="836.7" r="7.4"/><circle cx="626.1" cy="836.9" r="7.4"/><circle cx="626.6" cy="837.2" r="7.4"/><circle cx="627.0" cy="837.4" r="7.4"/><circle cx="627.5" cy="837.6" r="7.4"/><circle cx="627.9" cy="837.8" r="7.4"/><circle cx="628.4" cy="838.1" r="7.4"/><circle cx="628.8" cy="838.3" r="7.4"/><circle cx="629.3" cy="838.5" r="7.4"/><circle cx="629.7" cy="838.8" r="7.4"/><circle cx="630.2" cy="839.0" r="7.4"/><circle cx="630.6" cy="839.2" r="7.4"/><circle cx="631.1" cy="839.4" r="7.4"/><circle cx="631.5" cy="839.7" r="7.4"/><circle cx="632.0" cy="839.9" r="7.4"/><circle cx="632.5" cy="840.1" r="7.4"/><circle cx="632.9" cy="840.3" r="7.4"/><circle cx="633.4" cy="840.6" r="7.4"/><circle cx="633.8" cy="840.8" r="7.4"/><circle cx="634.3" cy="841.0" r="7.4"/><circle cx="634.7" cy="841.2" r="7.4"/><circle cx="635.2" cy="841.4" r="7.4"/><circle cx="635.6" cy="841.7" r="7.4"/><circle cx="636.1" cy="841.9" r="7.4"/><circle cx="636.5" cy="842.1" r="7.4"/><circle cx="637.0" cy="842.3" r="7.4"/><circle cx="637.4" cy="842.5" r="7.4"/><circle cx="637.9" cy="842.7" r="7.4"/><circle cx="638.3" cy="842.9" r="7.4"/><circle cx="638.8" cy="843.1" r="7.4"/><circle cx="639.2" cy="843.3" r="7.4"/><circle cx="639.7" cy="843.6" r="7.4"/><circle cx="640.1" cy="843.8" r="7.4"/><circle cx="640.5" cy="844.0" r="7.4"/><circle cx="640.9" cy="844.3" r="7.4"/><circle cx="641.4" cy="844.6" r="7.4"/><circle cx="641.8" cy="844.8" r="7.4"/><circle cx="642.2" cy="845.1" r="7.4"/><circle cx="642.6" cy="845.3" r="7.4"/><circle cx="643.1" cy="845.6" r="7.4"/><circle cx="643.5" cy="845.9" r="7.4"/><circle cx="643.9" cy="846.1" r="7.4"/><circle cx="644.3" cy="846.4" r="7.4"/><circle cx="644.7" cy="846.6" r="7.4"/><circle cx="645.2" cy="846.9" r="7.4"/><circle cx="645.6" cy="847.2" r="7.4"/><circle cx="646.0" cy="847.4" r="7.4"/><circle cx="646.4" cy="847.7" r="7.4"/><circle cx="646.8" cy="848.0" r="7.4"/><circle cx="647.3" cy="848.2" r="7.4"/><circle cx="647.7" cy="848.5" r="7.4"/><circle cx="648.1" cy="848.8" r="7.4"/><circle cx="648.5" cy="849.1" r="7.4"/><circle cx="648.9" cy="849.3" r="7.4"/><circle cx="649.4" cy="849.6" r="7.4"/><circle cx="649.8" cy="849.9" r="7.4"/><circle cx="650.2" cy="850.1" r="7.4"/><circle cx="650.6" cy="850.4" r="7.4"/><circle cx="651.0" cy="850.7" r="7.4"/><circle cx="651.4" cy="851.0" r="7.4"/><circle cx="651.8" cy="851.3" r="7.4"/><circle cx="652.2" cy="851.6" r="7.4"/><circle cx="652.6" cy="851.9" r="7.4"/><circle cx="653.1" cy="852.2" r="7.4"/><circle cx="653.5" cy="852.5" r="7.4"/><circle cx="653.9" cy="852.8" r="7.4"/><circle cx="654.3" cy="853.1" r="7.4"/><circle cx="654.7" cy="853.3" r="7.4"/><circle cx="655.1" cy="853.6" r="7.4"/><circle cx="655.5" cy="853.9" r="7.4"/><circle cx="655.9" cy="854.2" r="7.4"/><circle cx="656.3" cy="854.5" r="7.4"/><circle cx="656.7" cy="854.8" r="7.4"/><circle cx="657.1" cy="855.1" r="7.4"/><circle cx="657.4" cy="855.5" r="7.4"/><circle cx="657.7" cy="855.9" r="7.4"/><circle cx="658.1" cy="856.3" r="7.4"/><circle cx="658.4" cy="856.6" r="7.4"/><circle cx="658.7" cy="857.0" r="7.4"/><circle cx="659.1" cy="857.4" r="7.4"/><circle cx="659.4" cy="857.8" r="7.4"/><circle cx="659.7" cy="858.2" r="7.4"/><circle cx="660.0" cy="858.5" r="7.4"/><circle cx="660.4" cy="858.9" r="7.4"/><circle cx="660.7" cy="859.3" r="7.4"/><circle cx="661.0" cy="859.7" r="7.4"/><circle cx="661.3" cy="860.0" r="7.4"/><circle cx="661.7" cy="860.4" r="7.4"/><circle cx="662.0" cy="860.8" r="7.4"/><circle cx="662.3" cy="861.2" r="7.4"/><circle cx="662.6" cy="861.6" r="7.4"/><circle cx="663.0" cy="861.9" r="7.4"/><circle cx="663.2" cy="862.4" r="7.4"/><circle cx="663.4" cy="862.8" r="7.4"/><circle cx="663.6" cy="863.3" r="7.4"/><circle cx="663.9" cy="863.7" r="7.4"/><circle cx="664.1" cy="864.2" r="7.4"/><circle cx="664.3" cy="864.6" r="7.4"/><circle cx="664.5" cy="865.1" r="7.4"/><circle cx="664.8" cy="865.5" r="7.4"/><circle cx="665.0" cy="866.0" r="7.4"/><circle cx="665.2" cy="866.4" r="7.4"/><circle cx="665.4" cy="866.9" r="7.4"/><circle cx="665.7" cy="867.3" r="7.4"/><circle cx="665.9" cy="867.8" r="7.4"/><circle cx="666.1" cy="868.2" r="7.4"/><circle cx="666.3" cy="868.6" r="7.4"/><circle cx="666.5" cy="869.1" r="7.4"/><circle cx="666.8" cy="869.5" r="7.4"/><circle cx="667.0" cy="870.0" r="7.4"/><circle cx="667.1" cy="870.5" r="7.4"/><circle cx="667.2" cy="871.0" r="7.4"/><circle cx="667.4" cy="871.4" r="7.4"/><circle cx="667.5" cy="871.9" r="7.4"/><circle cx="667.6" cy="872.4" r="7.4"/><circle cx="667.7" cy="872.9" r="7.4"/><circle cx="667.8" cy="873.4" r="7.4"/><circle cx="668.0" cy="873.9" r="7.4"/><circle cx="668.1" cy="874.4" r="7.4"/><circle cx="668.2" cy="874.8" r="7.4"/><circle cx="668.3" cy="875.3" r="7.4"/><circle cx="668.5" cy="875.8" r="7.4"/><circle cx="668.6" cy="876.3" r="7.4"/><circle cx="668.7" cy="876.8" r="7.4"/><circle cx="668.8" cy="877.3" r="7.4"/><circle cx="668.9" cy="877.8" r="7.4"/><circle cx="669.1" cy="878.3" r="7.4"/><circle cx="669.2" cy="878.8" r="7.4"/><circle cx="669.3" cy="879.4" r="7.4"/><circle cx="669.5" cy="880.0" r="7.4"/><circle cx="669.6" cy="880.6" r="7.4"/><circle cx="669.7" cy="881.3" r="7.4"/><circle cx="669.8" cy="882.0" r="7.4"/><circle cx="669.9" cy="882.8" r="7.4"/><circle cx="670.1" cy="883.7" r="7.4"/><circle cx="670.2" cy="884.6" r="7.4"/><circle cx="670.4" cy="885.7" r="7.4"/><circle cx="670.5" cy="886.8" r="7.4"/><circle cx="670.7" cy="888.1" r="7.4"/><circle cx="670.9" cy="889.6" r="7.4"/><circle cx="671.1" cy="891.2" r="7.4"/><circle cx="671.2" cy="893.1" r="7.4"/><circle cx="671.3" cy="895.2" r="7.4"/><circle cx="671.5" cy="897.8" r="7.4"/><circle cx="671.6" cy="900.7" r="7.4"/><circle cx="671.6" cy="904.2" r="7.4"/><circle cx="671.6" cy="908.5" r="7.4"/><circle cx="671.6" cy="913.7" r="7.4"/><circle cx="671.6" cy="916.1" r="7.4"/><circle cx="671.9" cy="936.6" r="7.4"/><circle cx="671.9" cy="949.2" r="7.4"/><circle cx="671.9" cy="959.8" r="7.4"/><circle cx="671.9" cy="962.2" r="7.4"/><circle cx="671.9" cy="964.4" r="7.4"/><circle cx="671.9" cy="966.4" r="7.4"/><circle cx="671.9" cy="968.3" r="7.4"/><circle cx="671.9" cy="970.0" r="7.4"/><circle cx="671.9" cy="971.6" r="7.4"/><circle cx="671.9" cy="973.1" r="7.4"/><circle cx="671.9" cy="974.4" r="7.4"/><circle cx="671.9" cy="975.6" r="7.4"/><circle cx="671.9" cy="976.8" r="7.4"/><circle cx="671.9" cy="977.8" r="7.4"/><circle cx="671.9" cy="978.8" r="7.4"/><circle cx="671.9" cy="979.7" r="7.4"/><circle cx="671.9" cy="980.5" r="7.4"/><circle cx="671.9" cy="981.2" r="7.4"/><circle cx="671.9" cy="981.9" r="7.4"/><circle cx="672.0" cy="982.5" r="7.4"/><circle cx="672.0" cy="983.1" r="7.4"/><circle cx="672.0" cy="983.6" r="7.4"/><circle cx="672.0" cy="984.1" r="7.4"/><circle cx="672.0" cy="984.6" r="7.4"/><circle cx="672.0" cy="985.1" r="7.4"/><circle cx="672.0" cy="985.6" r="7.4"/><circle cx="672.0" cy="986.1" r="7.4"/><circle cx="672.0" cy="986.6" r="7.4"/><circle cx="672.0" cy="987.1" r="7.4"/><circle cx="672.0" cy="987.6" r="7.4"/><circle cx="672.0" cy="988.1" r="7.4"/><circle cx="672.0" cy="988.6" r="7.4"/><circle cx="672.0" cy="989.1" r="7.4"/><circle cx="672.0" cy="989.6" r="7.4"/><circle cx="672.0" cy="990.1" r="7.4"/><circle cx="672.1" cy="990.6" r="7.4"/><circle cx="672.1" cy="991.1" r="7.4"/><circle cx="672.2" cy="991.6" r="7.4"/><circle cx="672.2" cy="992.1" r="7.4"/><circle cx="672.3" cy="992.6" r="7.4"/><circle cx="672.3" cy="993.1" r="7.4"/><circle cx="672.4" cy="993.6" r="7.4"/><circle cx="672.5" cy="994.1" r="7.4"/><circle cx="672.5" cy="994.6" r="7.4"/><circle cx="672.6" cy="995.1" r="7.4"/><circle cx="672.6" cy="995.6" r="7.4"/><circle cx="672.7" cy="996.1" r="7.4"/><circle cx="672.7" cy="996.6" r="7.4"/><circle cx="672.8" cy="997.1" r="7.4"/><circle cx="672.8" cy="997.6" r="7.4"/><circle cx="672.9" cy="998.1" r="7.4"/><circle cx="673.0" cy="998.6" r="7.4"/><circle cx="673.0" cy="999.1" r="7.4"/><circle cx="673.2" cy="999.6" r="7.4"/><circle cx="673.4" cy="1000.0" r="7.4"/><circle cx="673.6" cy="1000.5" r="7.4"/><circle cx="673.7" cy="1001.0" r="7.4"/><circle cx="673.9" cy="1001.4" r="7.4"/><circle cx="674.1" cy="1001.9" r="7.4"/><circle cx="674.3" cy="1002.4" r="7.4"/><circle cx="674.5" cy="1002.8" r="7.4"/><circle cx="674.6" cy="1003.3" r="7.4"/><circle cx="674.8" cy="1003.8" r="7.4"/><circle cx="675.0" cy="1004.2" r="7.4"/><circle cx="675.2" cy="1004.7" r="7.4"/><circle cx="675.4" cy="1005.1" r="7.4"/><circle cx="675.7" cy="1005.5" r="7.4"/><circle cx="676.0" cy="1005.9" r="7.4"/><circle cx="676.3" cy="1006.3" r="7.4"/><circle cx="676.7" cy="1006.7" r="7.4"/><circle cx="677.0" cy="1007.1" r="7.4"/><circle cx="677.3" cy="1007.5" r="7.4"/><circle cx="677.6" cy="1007.8" r="7.4"/><circle cx="677.9" cy="1008.2" r="7.4"/><circle cx="678.2" cy="1008.6" r="7.4"/><circle cx="678.3" cy="1008.7" r="7.4"/></g>
</svg></body></html>
